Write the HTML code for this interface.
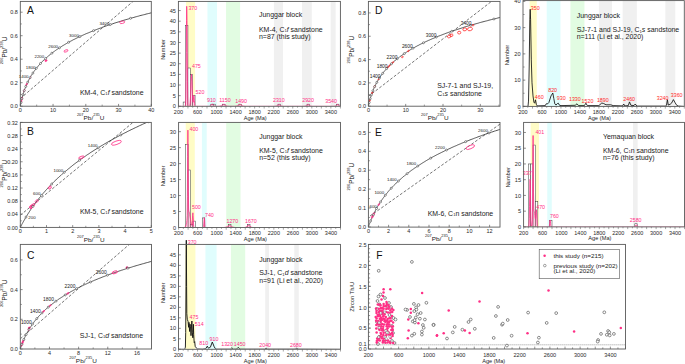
<!DOCTYPE html><html><head><meta charset="utf-8"><style>html,body{margin:0;padding:0;background:#fff;}body{width:685px;height:364px;overflow:hidden;font-family:"Liberation Sans",sans-serif;}svg{display:block;}</style></head><body><svg width="685" height="364" viewBox="0 0 685 364" font-family="'Liberation Sans', sans-serif">
<rect width="685" height="364" fill="#fff"/>
<defs><clipPath id="cA"><rect x="20.3" y="1.4" width="131.00" height="104.80"/></clipPath></defs>
<g clip-path="url(#cA)">
<line x1="20.30" y1="98.60" x2="133.00" y2="1.40" stroke="#2a2a2a" stroke-width="0.65" stroke-dasharray="2.8,1.8"/>
<path d="M20.3,106.2 20.3,106.0 20.4,105.8 20.4,105.7 20.4,105.5 20.5,105.3 20.5,105.1 20.5,104.9 20.6,104.7 20.6,104.5 20.6,104.4 20.7,104.2 20.7,104.0 20.7,103.8 20.8,103.6 20.8,103.4 20.9,103.2 20.9,103.1 20.9,102.9 21.0,102.7 21.0,102.5 21.1,102.3 21.1,102.1 21.1,101.9 21.2,101.7 21.2,101.6 21.3,101.4 21.3,101.2 21.3,101.0 21.4,100.8 21.4,100.6 21.5,100.4 21.5,100.2 21.6,100.0 21.6,99.8 21.6,99.6 21.7,99.5 21.7,99.3 21.8,99.1 21.8,98.9 21.9,98.7 21.9,98.5 22.0,98.3 22.0,98.1 22.1,97.9 22.1,97.7 22.2,97.5 22.2,97.3 22.3,97.1 22.3,96.9 22.4,96.7 22.4,96.5 22.5,96.3 22.5,96.1 22.6,95.9 22.7,95.7 22.7,95.5 22.8,95.3 22.8,95.1 22.9,94.9 22.9,94.7 23.0,94.5 23.1,94.3 23.1,94.1 23.2,93.9 23.2,93.7 23.3,93.5 23.4,93.3 23.4,93.1 23.5,92.9 23.6,92.7 23.6,92.5 23.7,92.3 23.7,92.1 23.8,91.9 23.9,91.7 23.9,91.5 24.0,91.3 24.1,91.1 24.2,90.9 24.2,90.7 24.3,90.5 24.4,90.3 24.4,90.1 24.5,89.8 24.6,89.6 24.7,89.4 24.7,89.2 24.8,89.0 24.9,88.8 25.0,88.6 25.0,88.4 25.1,88.2 25.2,88.0 25.3,87.8 25.4,87.5 25.5,87.3 25.5,87.1 25.6,86.9 25.7,86.7 25.8,86.5 25.9,86.3 26.0,86.1 26.1,85.8 26.1,85.6 26.2,85.4 26.3,85.2 26.4,85.0 26.5,84.8 26.6,84.6 26.7,84.3 26.8,84.1 26.9,83.9 27.0,83.7 27.1,83.5 27.2,83.3 27.3,83.0 27.4,82.8 27.5,82.6 27.6,82.4 27.7,82.2 27.8,81.9 27.9,81.7 28.0,81.5 28.1,81.3 28.2,81.1 28.4,80.8 28.5,80.6 28.6,80.4 28.7,80.2 28.8,79.9 28.9,79.7 29.0,79.5 29.2,79.3 29.3,79.1 29.4,78.8 29.5,78.6 29.6,78.4 29.8,78.2 29.9,77.9 30.0,77.7 30.2,77.5 30.3,77.2 30.4,77.0 30.5,76.8 30.7,76.6 30.8,76.3 31.0,76.1 31.1,75.9 31.2,75.6 31.4,75.4 31.5,75.2 31.7,75.0 31.8,74.7 31.9,74.5 32.1,74.3 32.2,74.0 32.4,73.8 32.5,73.6 32.7,73.3 32.9,73.1 33.0,72.9 33.2,72.6 33.3,72.4 33.5,72.2 33.7,71.9 33.8,71.7 34.0,71.5 34.2,71.2 34.3,71.0 34.5,70.7 34.7,70.5 34.8,70.3 35.0,70.0 35.2,69.8 35.4,69.6 35.6,69.3 35.7,69.1 35.9,68.8 36.1,68.6 36.3,68.4 36.5,68.1 36.7,67.9 36.9,67.6 37.1,67.4 37.3,67.1 37.5,66.9 37.7,66.7 37.9,66.4 38.1,66.2 38.3,65.9 38.5,65.7 38.7,65.4 38.9,65.2 39.2,64.9 39.4,64.7 39.6,64.4 39.8,64.2 40.0,64.0 40.3,63.7 40.5,63.5 40.7,63.2 41.0,63.0 41.2,62.7 41.4,62.5 41.7,62.2 41.9,62.0 42.2,61.7 42.4,61.5 42.7,61.2 42.9,61.0 43.2,60.7 43.4,60.4 43.7,60.2 44.0,59.9 44.2,59.7 44.5,59.4 44.8,59.2 45.1,58.9 45.3,58.7 45.6,58.4 45.9,58.2 46.2,57.9 46.5,57.6 46.8,57.4 47.1,57.1 47.4,56.9 47.7,56.6 48.0,56.3 48.3,56.1 48.6,55.8 48.9,55.6 49.2,55.3 49.5,55.0 49.8,54.8 50.2,54.5 50.5,54.3 50.8,54.0 51.2,53.7 51.5,53.5 51.8,53.2 52.2,52.9 52.5,52.7 52.9,52.4 53.2,52.1 53.6,51.9 54.0,51.6 54.3,51.3 54.7,51.1 55.1,50.8 55.4,50.5 55.8,50.3 56.2,50.0 56.6,49.7 57.0,49.5 57.4,49.2 57.8,48.9 58.2,48.6 58.6,48.4 59.0,48.1 59.4,47.8 59.8,47.6 60.3,47.3 60.7,47.0 61.1,46.7 61.6,46.5 62.0,46.2 62.4,45.9 62.9,45.6 63.3,45.4 63.8,45.1 64.3,44.8 64.7,44.5 65.2,44.2 65.7,44.0 66.2,43.7 66.7,43.4 67.1,43.1 67.6,42.8 68.1,42.6 68.6,42.3 69.2,42.0 69.7,41.7 70.2,41.4 70.7,41.2 71.2,40.9 71.8,40.6 72.3,40.3 72.9,40.0 73.4,39.7 74.0,39.4 74.6,39.2 75.1,38.9 75.7,38.6 76.3,38.3 76.9,38.0 77.5,37.7 78.1,37.4 78.7,37.1 79.3,36.9 79.9,36.6 80.5,36.3 81.1,36.0 81.8,35.7 82.4,35.4 83.1,35.1 83.7,34.8 84.4,34.5 85.0,34.2 85.7,33.9 86.4,33.6 87.1,33.3 87.8,33.1 88.5,32.8 89.2,32.5 89.9,32.2 90.6,31.9 91.3,31.6 92.1,31.3 92.8,31.0 93.6,30.7 94.3,30.4 95.1,30.1 95.9,29.8 96.6,29.5 97.4,29.2 98.2,28.9 99.0,28.6 99.8,28.3 100.7,28.0 101.5,27.7 102.3,27.3 103.2,27.0 104.0,26.7 104.9,26.4 105.8,26.1 106.6,25.8 107.5,25.5 108.4,25.2 109.3,24.9 110.2,24.6 111.2,24.3 112.1,24.0 113.0,23.7 114.0,23.3 114.9,23.0 115.9,22.7 116.9,22.4 117.9,22.1 118.9,21.8 119.9,21.5 120.9,21.2 121.9,20.8 123.0,20.5 124.0,20.2 125.1,19.9 126.1,19.6 127.2,19.3 128.3,19.0 129.4,18.6 130.5,18.3 131.6,18.0 132.8,17.7 133.9,17.4 135.1,17.0 136.3,16.7 137.4,16.4 138.6,16.1 139.8,15.7 141.0,15.4 142.3,15.1 143.5,14.8 144.8,14.5 146.0,14.1 147.3,13.8 148.6,13.5 149.9,13.2 151.2,12.8 152.5,12.5 153.9,12.2" stroke="#2a2a2a" stroke-width="0.8" fill="none" stroke-linejoin="round" />
<ellipse cx="21.21" cy="101.55" rx="1.4" ry="0.6" transform="rotate(-77.6 21.21 101.55)" fill="rgba(255,47,134,0.35)" stroke="#ff2f86" stroke-width="0.7"/>
<ellipse cx="21.88" cy="98.68" rx="1.3" ry="0.6" transform="rotate(-76.0 21.88 98.68)" fill="rgba(255,47,134,0.35)" stroke="#ff2f86" stroke-width="0.7"/>
<ellipse cx="24.23" cy="90.67" rx="1.2" ry="0.6" transform="rotate(-70.9 24.23 90.67)" fill="rgba(255,47,134,0.35)" stroke="#ff2f86" stroke-width="0.7"/>
<ellipse cx="26.70" cy="84.34" rx="1.1" ry="0.6" transform="rotate(-66.0 26.70 84.34)" fill="rgba(255,47,134,0.35)" stroke="#ff2f86" stroke-width="0.7"/>
<ellipse cx="30.03" cy="77.70" rx="0.9" ry="0.5" transform="rotate(-60.3 30.03 77.70)" fill="rgba(255,47,134,0.35)" stroke="#ff2f86" stroke-width="0.7"/>
<ellipse cx="46.00" cy="60.60" rx="1.1" ry="0.8" transform="rotate(-40 46.00 60.60)" fill="#ff2f86" stroke="#ff2f86" stroke-width="0.75"/>
<ellipse cx="66.00" cy="50.90" rx="2.1" ry="1.0" transform="rotate(-20 66.00 50.90)" fill="none" stroke="#ff2f86" stroke-width="0.75"/>
<ellipse cx="122.20" cy="22.30" rx="2.6" ry="1.2" transform="rotate(-12 122.20 22.30)" fill="none" stroke="#ff2f86" stroke-width="0.75"/>
<circle cx="21.01" cy="102.50" r="1.0" fill="#fff" stroke="#2a2a2a" stroke-width="0.5"/>
<circle cx="21.88" cy="98.68" r="1.0" fill="#fff" stroke="#2a2a2a" stroke-width="0.5"/>
<circle cx="22.94" cy="94.74" r="1.0" fill="#fff" stroke="#2a2a2a" stroke-width="0.5"/>
<circle cx="24.23" cy="90.67" r="1.0" fill="#fff" stroke="#2a2a2a" stroke-width="0.5"/>
<circle cx="25.79" cy="86.48" r="1.0" fill="#fff" stroke="#2a2a2a" stroke-width="0.5"/>
<circle cx="27.70" cy="82.16" r="1.0" fill="#fff" stroke="#2a2a2a" stroke-width="0.5"/>
<circle cx="30.03" cy="77.70" r="1.0" fill="#fff" stroke="#2a2a2a" stroke-width="0.5"/>
<circle cx="32.86" cy="73.10" r="1.0" fill="#fff" stroke="#2a2a2a" stroke-width="0.5"/>
<circle cx="36.30" cy="68.35" r="1.0" fill="#fff" stroke="#2a2a2a" stroke-width="0.5"/>
<circle cx="40.50" cy="63.46" r="1.0" fill="#fff" stroke="#2a2a2a" stroke-width="0.5"/>
<circle cx="45.61" cy="58.41" r="1.0" fill="#fff" stroke="#2a2a2a" stroke-width="0.5"/>
<circle cx="51.84" cy="53.20" r="1.0" fill="#fff" stroke="#2a2a2a" stroke-width="0.5"/>
<circle cx="59.42" cy="47.83" r="1.0" fill="#fff" stroke="#2a2a2a" stroke-width="0.5"/>
<circle cx="68.64" cy="42.28" r="1.0" fill="#fff" stroke="#2a2a2a" stroke-width="0.5"/>
<circle cx="79.88" cy="36.57" r="1.0" fill="#fff" stroke="#2a2a2a" stroke-width="0.5"/>
<circle cx="93.57" cy="30.67" r="1.0" fill="#fff" stroke="#2a2a2a" stroke-width="0.5"/>
<circle cx="110.23" cy="24.59" r="1.0" fill="#fff" stroke="#2a2a2a" stroke-width="0.5"/>
<circle cx="130.52" cy="18.31" r="1.0" fill="#fff" stroke="#2a2a2a" stroke-width="0.5"/>
<circle cx="155.23" cy="11.84" r="1.0" fill="#fff" stroke="#2a2a2a" stroke-width="0.5"/>
</g>
<text transform="translate(18.80 77.58) scale(1.1 1)" font-size="4.00" fill="#222" text-anchor="start" >1400</text>
<text transform="translate(25.80 68.58) scale(1.1 1)" font-size="4.00" fill="#222" text-anchor="start" >1800</text>
<text transform="translate(34.50 58.18) scale(1.1 1)" font-size="4.00" fill="#222" text-anchor="start" >2200</text>
<text transform="translate(48.30 47.98) scale(1.1 1)" font-size="4.00" fill="#222" text-anchor="start" >2600</text>
<text transform="translate(69.10 37.18) scale(1.1 1)" font-size="4.00" fill="#222" text-anchor="start" >3000</text>
<text transform="translate(99.40 25.08) scale(1.1 1)" font-size="4.00" fill="#222" text-anchor="start" >3400</text>
<rect x="20.30" y="1.40" width="131.00" height="104.80" fill="none" stroke="#5a5a5a" stroke-width="0.9" />
<line x1="20.30" y1="106.20" x2="20.30" y2="103.90" stroke="#5a5a5a" stroke-width="0.7" />
<text transform="translate(20.30 112.00) scale(1.1 1)" font-size="5.00" fill="#2a2a2a" text-anchor="middle" >0</text>
<line x1="53.05" y1="106.20" x2="53.05" y2="103.90" stroke="#5a5a5a" stroke-width="0.7" />
<text transform="translate(53.05 112.00) scale(1.1 1)" font-size="5.00" fill="#2a2a2a" text-anchor="middle" >10</text>
<line x1="85.80" y1="106.20" x2="85.80" y2="103.90" stroke="#5a5a5a" stroke-width="0.7" />
<text transform="translate(85.80 112.00) scale(1.1 1)" font-size="5.00" fill="#2a2a2a" text-anchor="middle" >20</text>
<line x1="118.55" y1="106.20" x2="118.55" y2="103.90" stroke="#5a5a5a" stroke-width="0.7" />
<text transform="translate(118.55 112.00) scale(1.1 1)" font-size="5.00" fill="#2a2a2a" text-anchor="middle" >30</text>
<line x1="151.30" y1="106.20" x2="151.30" y2="103.90" stroke="#5a5a5a" stroke-width="0.7" />
<text transform="translate(151.30 112.00) scale(1.1 1)" font-size="5.00" fill="#2a2a2a" text-anchor="middle" >40</text>
<line x1="36.67" y1="106.20" x2="36.67" y2="104.60" stroke="#5a5a5a" stroke-width="0.6" />
<line x1="69.42" y1="106.20" x2="69.42" y2="104.60" stroke="#5a5a5a" stroke-width="0.6" />
<line x1="102.17" y1="106.20" x2="102.17" y2="104.60" stroke="#5a5a5a" stroke-width="0.6" />
<line x1="134.93" y1="106.20" x2="134.93" y2="104.60" stroke="#5a5a5a" stroke-width="0.6" />
<line x1="20.30" y1="106.20" x2="22.60" y2="106.20" stroke="#5a5a5a" stroke-width="0.7" />
<text transform="translate(17.90 108.30) scale(1.1 1)" font-size="5.00" fill="#2a2a2a" text-anchor="end" >0.0</text>
<line x1="20.30" y1="82.70" x2="22.60" y2="82.70" stroke="#5a5a5a" stroke-width="0.7" />
<text transform="translate(17.90 84.80) scale(1.1 1)" font-size="5.00" fill="#2a2a2a" text-anchor="end" >0.2</text>
<line x1="20.30" y1="59.20" x2="22.60" y2="59.20" stroke="#5a5a5a" stroke-width="0.7" />
<text transform="translate(17.90 61.30) scale(1.1 1)" font-size="5.00" fill="#2a2a2a" text-anchor="end" >0.4</text>
<line x1="20.30" y1="35.70" x2="22.60" y2="35.70" stroke="#5a5a5a" stroke-width="0.7" />
<text transform="translate(17.90 37.80) scale(1.1 1)" font-size="5.00" fill="#2a2a2a" text-anchor="end" >0.6</text>
<line x1="20.30" y1="12.20" x2="22.60" y2="12.20" stroke="#5a5a5a" stroke-width="0.7" />
<text transform="translate(17.90 14.30) scale(1.1 1)" font-size="5.00" fill="#2a2a2a" text-anchor="end" >0.8</text>
<line x1="20.30" y1="94.45" x2="21.90" y2="94.45" stroke="#5a5a5a" stroke-width="0.6" />
<line x1="20.30" y1="70.95" x2="21.90" y2="70.95" stroke="#5a5a5a" stroke-width="0.6" />
<line x1="20.30" y1="47.45" x2="21.90" y2="47.45" stroke="#5a5a5a" stroke-width="0.6" />
<line x1="20.30" y1="23.95" x2="21.90" y2="23.95" stroke="#5a5a5a" stroke-width="0.6" />
<text x="27.00" y="13.90" font-size="10.3" fill="#111" text-anchor="start" >A</text>
<text transform="translate(79.90 95.00) scale(1.1 1)" font-size="6.32" fill="#1a1a1a" text-anchor="start" >KM-4, C<tspan font-size="60%" dy="0.35">1</tspan><tspan dy="-0.35" font-style="italic">f</tspan> sandstone</text>
<text transform="translate(76.90 119.90) scale(1.1 1)" font-size="5.82" fill="#1a1a1a" text-anchor="start" ><tspan font-size="62.5%" dy="-3.60">207</tspan><tspan dy="3.60">Pb/</tspan><tspan font-size="62.5%" dy="-3.60">235</tspan><tspan dy="3.60">U</tspan></text>
<text x="6.60" y="50.40" font-size="6.4" fill="#1a1a1a" text-anchor="middle" transform="rotate(-90 6.60 50.40)" ><tspan font-size="62.5%" dy="-3.60">206</tspan><tspan dy="3.60">Pb/</tspan><tspan font-size="62.5%" dy="-3.60">238</tspan><tspan dy="3.60">U</tspan></text>
<defs><clipPath id="cB"><rect x="20.3" y="122.4" width="131.00" height="105.00"/></clipPath></defs>
<g clip-path="url(#cB)">
<line x1="20.30" y1="215.20" x2="133.00" y2="122.40" stroke="#2a2a2a" stroke-width="0.65" stroke-dasharray="2.8,1.8"/>
<path d="M20.3,227.4 20.6,226.9 20.8,226.4 21.1,225.9 21.4,225.4 21.6,224.8 21.9,224.3 22.2,223.8 22.4,223.3 22.7,222.8 23.0,222.3 23.3,221.8 23.6,221.2 23.9,220.7 24.2,220.2 24.5,219.7 24.8,219.2 25.1,218.6 25.4,218.1 25.7,217.6 26.0,217.1 26.3,216.5 26.6,216.0 27.0,215.5 27.3,215.0 27.6,214.4 27.9,213.9 28.3,213.4 28.6,212.8 29.0,212.3 29.3,211.8 29.7,211.2 30.0,210.7 30.4,210.2 30.7,209.6 31.1,209.1 31.4,208.6 31.8,208.0 32.2,207.5 32.6,206.9 32.9,206.4 33.3,205.9 33.7,205.3 34.1,204.8 34.5,204.2 34.9,203.7 35.3,203.1 35.7,202.6 36.1,202.0 36.6,201.5 37.0,200.9 37.4,200.4 37.8,199.8 38.3,199.3 38.7,198.7 39.1,198.2 39.6,197.6 40.0,197.1 40.5,196.5 40.9,196.0 41.4,195.4 41.9,194.8 42.3,194.3 42.8,193.7 43.3,193.2 43.8,192.6 44.3,192.0 44.8,191.5 45.3,190.9 45.8,190.3 46.3,189.8 46.8,189.2 47.3,188.6 47.9,188.1 48.4,187.5 48.9,186.9 49.5,186.3 50.0,185.8 50.6,185.2 51.1,184.6 51.7,184.0 52.3,183.5 52.9,182.9 53.4,182.3 54.0,181.7 54.6,181.2 55.2,180.6 55.8,180.0 56.4,179.4 57.0,178.8 57.7,178.2 58.3,177.7 58.9,177.1 59.6,176.5 60.2,175.9 60.9,175.3 61.5,174.7 62.2,174.1 62.9,173.5 63.6,172.9 64.2,172.3 64.9,171.7 65.6,171.2 66.4,170.6 67.1,170.0 67.8,169.4 68.5,168.8 69.3,168.2 70.0,167.6 70.7,167.0 71.5,166.4 72.3,165.7 73.0,165.1 73.8,164.5 74.6,163.9 75.4,163.3 76.2,162.7 77.0,162.1 77.9,161.5 78.7,160.9 79.5,160.3 80.4,159.7 81.2,159.0 82.1,158.4 83.0,157.8 83.8,157.2 84.7,156.6 85.6,156.0 86.5,155.3 87.4,154.7 88.4,154.1 89.3,153.5 90.2,152.8 91.2,152.2 92.1,151.6 93.1,151.0 94.1,150.3 95.1,149.7 96.1,149.1 97.1,148.4 98.1,147.8 99.1,147.2 100.2,146.5 101.2,145.9 102.3,145.3 103.4,144.6 104.4,144.0 105.5,143.4 106.6,142.7 107.8,142.1 108.9,141.4 110.0,140.8 111.2,140.2 112.3,139.5 113.5,138.9 114.7,138.2 115.9,137.6 117.1,136.9 118.3,136.3 119.5,135.6 120.8,135.0 122.0,134.3 123.3,133.7 124.6,133.0 125.9,132.4 127.2,131.7 128.5,131.0 129.8,130.4 131.1,129.7 132.5,129.1 133.9,128.4 135.3,127.7 136.7,127.1 138.1,126.4 139.5,125.7 140.9,125.1 142.4,124.4 143.8,123.7 145.3,123.1 146.8,122.4 148.3,121.7 149.9,121.0 151.4,120.4" stroke="#2a2a2a" stroke-width="0.8" fill="none" stroke-linejoin="round" />
<ellipse cx="31.30" cy="206.80" rx="2.0" ry="1.5" transform="rotate(-45 31.30 206.80)" fill="rgba(255,47,134,0.75)" stroke="#ff2f86" stroke-width="0.75"/>
<ellipse cx="33.40" cy="204.90" rx="1.5" ry="1.2" transform="rotate(-45 33.40 204.90)" fill="rgba(255,47,134,0.35)" stroke="#ff2f86" stroke-width="0.75"/>
<ellipse cx="36.70" cy="201.20" rx="1.7" ry="1.1" transform="rotate(-40 36.70 201.20)" fill="none" stroke="#ff2f86" stroke-width="0.75"/>
<ellipse cx="49.90" cy="187.60" rx="1.7" ry="1.2" transform="rotate(-45 49.90 187.60)" fill="rgba(255,47,134,0.35)" stroke="#ff2f86" stroke-width="0.75"/>
<ellipse cx="81.40" cy="157.40" rx="2.9" ry="1.1" transform="rotate(-20 81.40 157.40)" fill="rgba(255,47,134,0.12)" stroke="#ff2f86" stroke-width="0.75"/>
<ellipse cx="116.40" cy="142.80" rx="5.2" ry="1.7" transform="rotate(-18 116.40 142.80)" fill="none" stroke="#ff2f86" stroke-width="0.75"/>
<circle cx="26.00" cy="217.06" r="1.0" fill="#fff" stroke="#2a2a2a" stroke-width="0.5"/>
<circle cx="32.95" cy="206.40" r="1.0" fill="#fff" stroke="#2a2a2a" stroke-width="0.5"/>
<circle cx="41.41" cy="195.40" r="1.0" fill="#fff" stroke="#2a2a2a" stroke-width="0.5"/>
<circle cx="51.71" cy="184.05" r="1.0" fill="#fff" stroke="#2a2a2a" stroke-width="0.5"/>
<circle cx="64.25" cy="172.34" r="1.0" fill="#fff" stroke="#2a2a2a" stroke-width="0.5"/>
<circle cx="79.52" cy="160.27" r="1.0" fill="#fff" stroke="#2a2a2a" stroke-width="0.5"/>
<circle cx="98.12" cy="147.82" r="1.0" fill="#fff" stroke="#2a2a2a" stroke-width="0.5"/>
<circle cx="120.76" cy="134.97" r="1.0" fill="#fff" stroke="#2a2a2a" stroke-width="0.5"/>
<circle cx="148.34" cy="121.72" r="1.0" fill="#fff" stroke="#2a2a2a" stroke-width="0.5"/>
</g>
<text transform="translate(28.30 218.98) scale(1.1 1)" font-size="4.00" fill="#222" text-anchor="start" >200</text>
<text transform="translate(33.10 194.88) scale(1.1 1)" font-size="4.00" fill="#222" text-anchor="start" >600</text>
<text transform="translate(53.50 171.88) scale(1.1 1)" font-size="4.00" fill="#222" text-anchor="start" >1000</text>
<text transform="translate(87.80 147.48) scale(1.1 1)" font-size="4.00" fill="#222" text-anchor="start" >1400</text>
<rect x="20.30" y="122.40" width="131.00" height="105.00" fill="none" stroke="#5a5a5a" stroke-width="0.9" />
<line x1="20.30" y1="227.40" x2="20.30" y2="225.10" stroke="#5a5a5a" stroke-width="0.7" />
<text transform="translate(20.30 233.20) scale(1.1 1)" font-size="5.00" fill="#2a2a2a" text-anchor="middle" >0</text>
<line x1="46.50" y1="227.40" x2="46.50" y2="225.10" stroke="#5a5a5a" stroke-width="0.7" />
<text transform="translate(46.50 233.20) scale(1.1 1)" font-size="5.00" fill="#2a2a2a" text-anchor="middle" >1</text>
<line x1="72.70" y1="227.40" x2="72.70" y2="225.10" stroke="#5a5a5a" stroke-width="0.7" />
<text transform="translate(72.70 233.20) scale(1.1 1)" font-size="5.00" fill="#2a2a2a" text-anchor="middle" >2</text>
<line x1="98.90" y1="227.40" x2="98.90" y2="225.10" stroke="#5a5a5a" stroke-width="0.7" />
<text transform="translate(98.90 233.20) scale(1.1 1)" font-size="5.00" fill="#2a2a2a" text-anchor="middle" >3</text>
<line x1="125.10" y1="227.40" x2="125.10" y2="225.10" stroke="#5a5a5a" stroke-width="0.7" />
<text transform="translate(125.10 233.20) scale(1.1 1)" font-size="5.00" fill="#2a2a2a" text-anchor="middle" >4</text>
<line x1="151.30" y1="227.40" x2="151.30" y2="225.10" stroke="#5a5a5a" stroke-width="0.7" />
<text transform="translate(151.30 233.20) scale(1.1 1)" font-size="5.00" fill="#2a2a2a" text-anchor="middle" >5</text>
<line x1="33.40" y1="227.40" x2="33.40" y2="225.80" stroke="#5a5a5a" stroke-width="0.6" />
<line x1="59.60" y1="227.40" x2="59.60" y2="225.80" stroke="#5a5a5a" stroke-width="0.6" />
<line x1="85.80" y1="227.40" x2="85.80" y2="225.80" stroke="#5a5a5a" stroke-width="0.6" />
<line x1="112.00" y1="227.40" x2="112.00" y2="225.80" stroke="#5a5a5a" stroke-width="0.6" />
<line x1="138.20" y1="227.40" x2="138.20" y2="225.80" stroke="#5a5a5a" stroke-width="0.6" />
<line x1="20.30" y1="227.40" x2="22.60" y2="227.40" stroke="#5a5a5a" stroke-width="0.7" />
<text transform="translate(17.90 229.50) scale(1.1 1)" font-size="5.00" fill="#2a2a2a" text-anchor="end" >0.00</text>
<line x1="20.30" y1="214.28" x2="22.60" y2="214.28" stroke="#5a5a5a" stroke-width="0.7" />
<text transform="translate(17.90 216.38) scale(1.1 1)" font-size="5.00" fill="#2a2a2a" text-anchor="end" >0.04</text>
<line x1="20.30" y1="201.15" x2="22.60" y2="201.15" stroke="#5a5a5a" stroke-width="0.7" />
<text transform="translate(17.90 203.25) scale(1.1 1)" font-size="5.00" fill="#2a2a2a" text-anchor="end" >0.08</text>
<line x1="20.30" y1="188.03" x2="22.60" y2="188.03" stroke="#5a5a5a" stroke-width="0.7" />
<text transform="translate(17.90 190.13) scale(1.1 1)" font-size="5.00" fill="#2a2a2a" text-anchor="end" >0.12</text>
<line x1="20.30" y1="174.90" x2="22.60" y2="174.90" stroke="#5a5a5a" stroke-width="0.7" />
<text transform="translate(17.90 177.00) scale(1.1 1)" font-size="5.00" fill="#2a2a2a" text-anchor="end" >0.16</text>
<line x1="20.30" y1="161.78" x2="22.60" y2="161.78" stroke="#5a5a5a" stroke-width="0.7" />
<text transform="translate(17.90 163.88) scale(1.1 1)" font-size="5.00" fill="#2a2a2a" text-anchor="end" >0.20</text>
<line x1="20.30" y1="148.66" x2="22.60" y2="148.66" stroke="#5a5a5a" stroke-width="0.7" />
<text transform="translate(17.90 150.76) scale(1.1 1)" font-size="5.00" fill="#2a2a2a" text-anchor="end" >0.24</text>
<line x1="20.30" y1="135.53" x2="22.60" y2="135.53" stroke="#5a5a5a" stroke-width="0.7" />
<text transform="translate(17.90 137.63) scale(1.1 1)" font-size="5.00" fill="#2a2a2a" text-anchor="end" >0.28</text>
<line x1="20.30" y1="122.41" x2="22.60" y2="122.41" stroke="#5a5a5a" stroke-width="0.7" />
<text transform="translate(17.90 124.51) scale(1.1 1)" font-size="5.00" fill="#2a2a2a" text-anchor="end" >0.32</text>
<line x1="20.30" y1="220.84" x2="21.90" y2="220.84" stroke="#5a5a5a" stroke-width="0.6" />
<line x1="20.30" y1="207.71" x2="21.90" y2="207.71" stroke="#5a5a5a" stroke-width="0.6" />
<line x1="20.30" y1="194.59" x2="21.90" y2="194.59" stroke="#5a5a5a" stroke-width="0.6" />
<line x1="20.30" y1="181.47" x2="21.90" y2="181.47" stroke="#5a5a5a" stroke-width="0.6" />
<line x1="20.30" y1="168.34" x2="21.90" y2="168.34" stroke="#5a5a5a" stroke-width="0.6" />
<line x1="20.30" y1="155.22" x2="21.90" y2="155.22" stroke="#5a5a5a" stroke-width="0.6" />
<line x1="20.30" y1="142.09" x2="21.90" y2="142.09" stroke="#5a5a5a" stroke-width="0.6" />
<line x1="20.30" y1="128.97" x2="21.90" y2="128.97" stroke="#5a5a5a" stroke-width="0.6" />
<text x="27.00" y="134.90" font-size="10.3" fill="#111" text-anchor="start" >B</text>
<text transform="translate(79.90 213.60) scale(1.1 1)" font-size="6.32" fill="#1a1a1a" text-anchor="start" >KM-5, C<tspan font-size="60%" dy="0.35">1</tspan><tspan dy="-0.35" font-style="italic">f</tspan> sandstone</text>
<text transform="translate(77.10 241.60) scale(1.1 1)" font-size="5.82" fill="#1a1a1a" text-anchor="start" ><tspan font-size="62.5%" dy="-3.60">207</tspan><tspan dy="3.60">Pb/</tspan><tspan font-size="62.5%" dy="-3.60">235</tspan><tspan dy="3.60">U</tspan></text>
<text x="6.60" y="173.60" font-size="6.4" fill="#1a1a1a" text-anchor="middle" transform="rotate(-90 6.60 173.60)" ><tspan font-size="62.5%" dy="-3.60">206</tspan><tspan dy="3.60">Pb/</tspan><tspan font-size="62.5%" dy="-3.60">238</tspan><tspan dy="3.60">U</tspan></text>
<defs><clipPath id="cC"><rect x="20.3" y="244.4" width="131.20" height="104.60"/></clipPath></defs>
<g clip-path="url(#cC)">
<line x1="20.30" y1="338.80" x2="129.30" y2="244.40" stroke="#2a2a2a" stroke-width="0.65" stroke-dasharray="2.8,1.8"/>
<path d="M20.3,349.0 20.4,348.8 20.4,348.5 20.5,348.3 20.6,348.1 20.7,347.8 20.7,347.6 20.8,347.4 20.9,347.1 21.0,346.9 21.1,346.7 21.1,346.4 21.2,346.2 21.3,346.0 21.4,345.7 21.5,345.5 21.5,345.3 21.6,345.0 21.7,344.8 21.8,344.6 21.9,344.3 22.0,344.1 22.1,343.8 22.2,343.6 22.2,343.4 22.3,343.1 22.4,342.9 22.5,342.6 22.6,342.4 22.7,342.2 22.8,341.9 22.9,341.7 23.0,341.4 23.1,341.2 23.2,341.0 23.3,340.7 23.4,340.5 23.5,340.2 23.6,340.0 23.7,339.7 23.8,339.5 23.9,339.2 24.0,339.0 24.1,338.8 24.3,338.5 24.4,338.3 24.5,338.0 24.6,337.8 24.7,337.5 24.8,337.3 24.9,337.0 25.1,336.8 25.2,336.5 25.3,336.3 25.4,336.0 25.5,335.8 25.7,335.5 25.8,335.3 25.9,335.0 26.0,334.8 26.2,334.5 26.3,334.3 26.4,334.0 26.6,333.8 26.7,333.5 26.8,333.2 27.0,333.0 27.1,332.7 27.3,332.5 27.4,332.2 27.5,332.0 27.7,331.7 27.8,331.5 28.0,331.2 28.1,330.9 28.3,330.7 28.4,330.4 28.6,330.2 28.7,329.9 28.9,329.6 29.0,329.4 29.2,329.1 29.4,328.9 29.5,328.6 29.7,328.3 29.8,328.1 30.0,327.8 30.2,327.5 30.4,327.3 30.5,327.0 30.7,326.8 30.9,326.5 31.0,326.2 31.2,326.0 31.4,325.7 31.6,325.4 31.8,325.2 32.0,324.9 32.1,324.6 32.3,324.3 32.5,324.1 32.7,323.8 32.9,323.5 33.1,323.3 33.3,323.0 33.5,322.7 33.7,322.5 33.9,322.2 34.1,321.9 34.3,321.6 34.5,321.4 34.8,321.1 35.0,320.8 35.2,320.5 35.4,320.3 35.6,320.0 35.9,319.7 36.1,319.4 36.3,319.2 36.5,318.9 36.8,318.6 37.0,318.3 37.3,318.1 37.5,317.8 37.7,317.5 38.0,317.2 38.2,316.9 38.5,316.7 38.7,316.4 39.0,316.1 39.2,315.8 39.5,315.5 39.8,315.3 40.0,315.0 40.3,314.7 40.6,314.4 40.8,314.1 41.1,313.8 41.4,313.6 41.7,313.3 42.0,313.0 42.2,312.7 42.5,312.4 42.8,312.1 43.1,311.8 43.4,311.5 43.7,311.3 44.0,311.0 44.3,310.7 44.6,310.4 44.9,310.1 45.3,309.8 45.6,309.5 45.9,309.2 46.2,308.9 46.6,308.6 46.9,308.3 47.2,308.0 47.6,307.8 47.9,307.5 48.3,307.2 48.6,306.9 49.0,306.6 49.3,306.3 49.7,306.0 50.0,305.7 50.4,305.4 50.8,305.1 51.1,304.8 51.5,304.5 51.9,304.2 52.3,303.9 52.7,303.6 53.1,303.3 53.5,303.0 53.9,302.7 54.3,302.4 54.7,302.1 55.1,301.8 55.5,301.5 55.9,301.2 56.4,300.9 56.8,300.6 57.2,300.3 57.6,299.9 58.1,299.6 58.5,299.3 59.0,299.0 59.4,298.7 59.9,298.4 60.4,298.1 60.8,297.8 61.3,297.5 61.8,297.2 62.3,296.9 62.8,296.5 63.2,296.2 63.7,295.9 64.2,295.6 64.8,295.3 65.3,295.0 65.8,294.7 66.3,294.4 66.8,294.0 67.4,293.7 67.9,293.4 68.4,293.1 69.0,292.8 69.6,292.5 70.1,292.1 70.7,291.8 71.2,291.5 71.8,291.2 72.4,290.9 73.0,290.5 73.6,290.2 74.2,289.9 74.8,289.6 75.4,289.2 76.0,288.9 76.6,288.6 77.3,288.3 77.9,287.9 78.6,287.6 79.2,287.3 79.9,287.0 80.5,286.6 81.2,286.3 81.9,286.0 82.5,285.7 83.2,285.3 83.9,285.0 84.6,284.7 85.3,284.3 86.1,284.0 86.8,283.7 87.5,283.3 88.2,283.0 89.0,282.7 89.7,282.4 90.5,282.0 91.3,281.7 92.0,281.3 92.8,281.0 93.6,280.7 94.4,280.3 95.2,280.0 96.0,279.7 96.9,279.3 97.7,279.0 98.5,278.6 99.4,278.3 100.2,278.0 101.1,277.6 102.0,277.3 102.8,276.9 103.7,276.6 104.6,276.3 105.5,275.9 106.4,275.6 107.4,275.2 108.3,274.9 109.2,274.5 110.2,274.2 111.2,273.8 112.1,273.5 113.1,273.1 114.1,272.8 115.1,272.5 116.1,272.1 117.1,271.8 118.2,271.4 119.2,271.0 120.3,270.7 121.3,270.3 122.4,270.0 123.5,269.6 124.6,269.3 125.7,268.9 126.8,268.6 127.9,268.2 129.0,267.9 130.2,267.5 131.4,267.2 132.5,266.8 133.7,266.4 134.9,266.1 136.1,265.7 137.3,265.4 138.6,265.0 139.8,264.6 141.1,264.3 142.3,263.9 143.6,263.6 144.9,263.2 146.2,262.8 147.5,262.5 148.9,262.1 150.2,261.7 151.6,261.4 152.9,261.0 154.3,260.6" stroke="#2a2a2a" stroke-width="0.8" fill="none" stroke-linejoin="round" />
<ellipse cx="22.06" cy="343.84" rx="2.6" ry="0.7" transform="rotate(-69.3 22.06 343.84)" fill="rgba(255,47,134,0.35)" stroke="#ff2f86" stroke-width="0.7"/>
<ellipse cx="23.10" cy="341.20" rx="1.6" ry="0.6" transform="rotate(-67.5 23.10 341.20)" fill="rgba(255,47,134,0.35)" stroke="#ff2f86" stroke-width="0.7"/>
<ellipse cx="29.04" cy="329.38" rx="1.2" ry="0.7" transform="rotate(-58.6 29.04 329.38)" fill="#a01050" stroke="#ff2f86" stroke-width="0.7"/>
<ellipse cx="43.41" cy="311.54" rx="1.6" ry="0.6" transform="rotate(-43.7 43.41 311.54)" fill="rgba(255,47,134,0.35)" stroke="#ff2f86" stroke-width="0.7"/>
<ellipse cx="50.03" cy="305.68" rx="1.3" ry="0.6" transform="rotate(-39.0 50.03 305.68)" fill="rgba(255,47,134,0.35)" stroke="#ff2f86" stroke-width="0.7"/>
<ellipse cx="67.91" cy="293.40" rx="1.3" ry="0.6" transform="rotate(-30.1 67.91 293.40)" fill="rgba(255,47,134,0.35)" stroke="#ff2f86" stroke-width="0.7"/>
<ellipse cx="114.80" cy="272.30" rx="2.8" ry="1.3" transform="rotate(-18 114.80 272.30)" fill="rgba(255,47,134,0.15)" stroke="#ff2f86" stroke-width="0.75"/>
<ellipse cx="29.10" cy="327.90" rx="1.0" ry="0.8" transform="rotate(-50 29.10 327.90)" fill="#6a1030" stroke="#ff2f86" stroke-width="0.75"/>
<ellipse cx="127.00" cy="267.60" rx="1.1" ry="0.8" transform="rotate(-20 127.00 267.60)" fill="#444" stroke="#ff2f86" stroke-width="0.75"/>
<circle cx="21.89" cy="344.32" r="1.0" fill="#fff" stroke="#2a2a2a" stroke-width="0.5"/>
<circle cx="23.82" cy="339.49" r="1.0" fill="#fff" stroke="#2a2a2a" stroke-width="0.5"/>
<circle cx="26.17" cy="334.51" r="1.0" fill="#fff" stroke="#2a2a2a" stroke-width="0.5"/>
<circle cx="29.04" cy="329.38" r="1.0" fill="#fff" stroke="#2a2a2a" stroke-width="0.5"/>
<circle cx="32.53" cy="324.08" r="1.0" fill="#fff" stroke="#2a2a2a" stroke-width="0.5"/>
<circle cx="36.78" cy="318.62" r="1.0" fill="#fff" stroke="#2a2a2a" stroke-width="0.5"/>
<circle cx="41.95" cy="312.98" r="1.0" fill="#fff" stroke="#2a2a2a" stroke-width="0.5"/>
<circle cx="48.25" cy="307.17" r="1.0" fill="#fff" stroke="#2a2a2a" stroke-width="0.5"/>
<circle cx="55.93" cy="301.17" r="1.0" fill="#fff" stroke="#2a2a2a" stroke-width="0.5"/>
<circle cx="65.27" cy="294.98" r="1.0" fill="#fff" stroke="#2a2a2a" stroke-width="0.5"/>
<circle cx="76.65" cy="288.60" r="1.0" fill="#fff" stroke="#2a2a2a" stroke-width="0.5"/>
<circle cx="90.50" cy="282.02" r="1.0" fill="#fff" stroke="#2a2a2a" stroke-width="0.5"/>
<circle cx="107.37" cy="275.23" r="1.0" fill="#fff" stroke="#2a2a2a" stroke-width="0.5"/>
<circle cx="127.91" cy="268.22" r="1.0" fill="#fff" stroke="#2a2a2a" stroke-width="0.5"/>
<circle cx="152.93" cy="261.00" r="1.0" fill="#fff" stroke="#2a2a2a" stroke-width="0.5"/>
<circle cx="183.39" cy="253.54" r="1.0" fill="#fff" stroke="#2a2a2a" stroke-width="0.5"/>
<circle cx="220.48" cy="245.86" r="1.0" fill="#fff" stroke="#2a2a2a" stroke-width="0.5"/>
<circle cx="265.65" cy="237.93" r="1.0" fill="#fff" stroke="#2a2a2a" stroke-width="0.5"/>
<circle cx="320.65" cy="229.75" r="1.0" fill="#fff" stroke="#2a2a2a" stroke-width="0.5"/>
</g>
<text transform="translate(20.90 324.06) scale(1.1 1)" font-size="4.45" fill="#222" text-anchor="start" >1000</text>
<text transform="translate(29.90 312.56) scale(1.1 1)" font-size="4.45" fill="#222" text-anchor="start" >1400</text>
<text transform="translate(43.00 300.56) scale(1.1 1)" font-size="4.45" fill="#222" text-anchor="start" >1800</text>
<text transform="translate(64.50 287.96) scale(1.1 1)" font-size="4.45" fill="#222" text-anchor="start" >2200</text>
<text transform="translate(95.80 274.36) scale(1.1 1)" font-size="4.45" fill="#222" text-anchor="start" >2600</text>
<rect x="20.30" y="244.40" width="131.20" height="104.60" fill="none" stroke="#5a5a5a" stroke-width="0.9" />
<line x1="20.30" y1="349.00" x2="20.30" y2="346.70" stroke="#5a5a5a" stroke-width="0.7" />
<text transform="translate(20.30 354.80) scale(1.1 1)" font-size="5.00" fill="#2a2a2a" text-anchor="middle" >0</text>
<line x1="49.46" y1="349.00" x2="49.46" y2="346.70" stroke="#5a5a5a" stroke-width="0.7" />
<text transform="translate(49.46 354.80) scale(1.1 1)" font-size="5.00" fill="#2a2a2a" text-anchor="middle" >4</text>
<line x1="78.62" y1="349.00" x2="78.62" y2="346.70" stroke="#5a5a5a" stroke-width="0.7" />
<text transform="translate(78.62 354.80) scale(1.1 1)" font-size="5.00" fill="#2a2a2a" text-anchor="middle" >8</text>
<line x1="107.78" y1="349.00" x2="107.78" y2="346.70" stroke="#5a5a5a" stroke-width="0.7" />
<text transform="translate(107.78 354.80) scale(1.1 1)" font-size="5.00" fill="#2a2a2a" text-anchor="middle" >12</text>
<line x1="136.94" y1="349.00" x2="136.94" y2="346.70" stroke="#5a5a5a" stroke-width="0.7" />
<text transform="translate(136.94 354.80) scale(1.1 1)" font-size="5.00" fill="#2a2a2a" text-anchor="middle" >16</text>
<line x1="34.88" y1="349.00" x2="34.88" y2="347.40" stroke="#5a5a5a" stroke-width="0.6" />
<line x1="64.04" y1="349.00" x2="64.04" y2="347.40" stroke="#5a5a5a" stroke-width="0.6" />
<line x1="93.20" y1="349.00" x2="93.20" y2="347.40" stroke="#5a5a5a" stroke-width="0.6" />
<line x1="122.36" y1="349.00" x2="122.36" y2="347.40" stroke="#5a5a5a" stroke-width="0.6" />
<line x1="20.30" y1="349.00" x2="22.60" y2="349.00" stroke="#5a5a5a" stroke-width="0.7" />
<text transform="translate(17.90 351.10) scale(1.1 1)" font-size="5.00" fill="#2a2a2a" text-anchor="end" >0.0</text>
<line x1="20.30" y1="319.30" x2="22.60" y2="319.30" stroke="#5a5a5a" stroke-width="0.7" />
<text transform="translate(17.90 321.40) scale(1.1 1)" font-size="5.00" fill="#2a2a2a" text-anchor="end" >0.2</text>
<line x1="20.30" y1="289.60" x2="22.60" y2="289.60" stroke="#5a5a5a" stroke-width="0.7" />
<text transform="translate(17.90 291.70) scale(1.1 1)" font-size="5.00" fill="#2a2a2a" text-anchor="end" >0.4</text>
<line x1="20.30" y1="259.90" x2="22.60" y2="259.90" stroke="#5a5a5a" stroke-width="0.7" />
<text transform="translate(17.90 262.00) scale(1.1 1)" font-size="5.00" fill="#2a2a2a" text-anchor="end" >0.6</text>
<line x1="20.30" y1="334.15" x2="21.90" y2="334.15" stroke="#5a5a5a" stroke-width="0.6" />
<line x1="20.30" y1="304.45" x2="21.90" y2="304.45" stroke="#5a5a5a" stroke-width="0.6" />
<line x1="20.30" y1="274.75" x2="21.90" y2="274.75" stroke="#5a5a5a" stroke-width="0.6" />
<text x="27.00" y="259.20" font-size="10.3" fill="#111" text-anchor="start" >C</text>
<text transform="translate(79.80 337.60) scale(1.1 1)" font-size="6.32" fill="#1a1a1a" text-anchor="start" >SJ-1, C<tspan font-size="60%" dy="0.35">1</tspan><tspan dy="-0.35" font-style="italic">d</tspan> sandstone</text>
<text transform="translate(69.20 362.80) scale(1.1 1)" font-size="5.82" fill="#1a1a1a" text-anchor="start" ><tspan font-size="62.5%" dy="-3.60">207</tspan><tspan dy="3.60">Pb/</tspan><tspan font-size="62.5%" dy="-3.60">235</tspan><tspan dy="3.60">U</tspan></text>
<text x="6.60" y="293.30" font-size="6.4" fill="#1a1a1a" text-anchor="middle" transform="rotate(-90 6.60 293.30)" ><tspan font-size="62.5%" dy="-3.60">206</tspan><tspan dy="3.60">Pb/</tspan><tspan font-size="62.5%" dy="-3.60">238</tspan><tspan dy="3.60">U</tspan></text>
<defs><clipPath id="cD"><rect x="368.4" y="1.4" width="131.60" height="104.80"/></clipPath></defs>
<g clip-path="url(#cD)">
<line x1="368.40" y1="96.40" x2="491.50" y2="1.40" stroke="#2a2a2a" stroke-width="0.65" stroke-dasharray="2.8,1.8"/>
<path d="M368.4,106.2 368.4,106.0 368.5,105.8 368.5,105.7 368.5,105.5 368.6,105.3 368.6,105.1 368.7,104.9 368.7,104.7 368.7,104.6 368.8,104.4 368.8,104.2 368.9,104.0 368.9,103.8 369.0,103.6 369.0,103.5 369.0,103.3 369.1,103.1 369.1,102.9 369.2,102.7 369.2,102.5 369.3,102.3 369.3,102.2 369.3,102.0 369.4,101.8 369.4,101.6 369.5,101.4 369.5,101.2 369.6,101.0 369.6,100.8 369.7,100.6 369.7,100.5 369.8,100.3 369.8,100.1 369.9,99.9 369.9,99.7 370.0,99.5 370.0,99.3 370.1,99.1 370.1,98.9 370.2,98.7 370.3,98.5 370.3,98.4 370.4,98.2 370.4,98.0 370.5,97.8 370.5,97.6 370.6,97.4 370.7,97.2 370.7,97.0 370.8,96.8 370.8,96.6 370.9,96.4 371.0,96.2 371.0,96.0 371.1,95.8 371.1,95.6 371.2,95.4 371.3,95.2 371.3,95.0 371.4,94.8 371.5,94.6 371.5,94.4 371.6,94.2 371.7,94.0 371.7,93.8 371.8,93.6 371.9,93.4 372.0,93.2 372.0,93.0 372.1,92.8 372.2,92.6 372.2,92.4 372.3,92.2 372.4,92.0 372.5,91.8 372.6,91.6 372.6,91.4 372.7,91.2 372.8,91.0 372.9,90.8 373.0,90.6 373.0,90.4 373.1,90.2 373.2,90.0 373.3,89.8 373.4,89.6 373.5,89.4 373.5,89.1 373.6,88.9 373.7,88.7 373.8,88.5 373.9,88.3 374.0,88.1 374.1,87.9 374.2,87.7 374.3,87.5 374.4,87.3 374.5,87.1 374.6,86.8 374.7,86.6 374.8,86.4 374.9,86.2 375.0,86.0 375.1,85.8 375.2,85.6 375.3,85.4 375.4,85.1 375.5,84.9 375.6,84.7 375.7,84.5 375.8,84.3 375.9,84.1 376.0,83.9 376.1,83.6 376.2,83.4 376.4,83.2 376.5,83.0 376.6,82.8 376.7,82.6 376.8,82.3 377.0,82.1 377.1,81.9 377.2,81.7 377.3,81.5 377.4,81.2 377.6,81.0 377.7,80.8 377.8,80.6 378.0,80.4 378.1,80.1 378.2,79.9 378.4,79.7 378.5,79.5 378.6,79.3 378.8,79.0 378.9,78.8 379.0,78.6 379.2,78.4 379.3,78.1 379.5,77.9 379.6,77.7 379.8,77.5 379.9,77.2 380.1,77.0 380.2,76.8 380.4,76.6 380.5,76.3 380.7,76.1 380.9,75.9 381.0,75.7 381.2,75.4 381.3,75.2 381.5,75.0 381.7,74.7 381.8,74.5 382.0,74.3 382.2,74.0 382.4,73.8 382.5,73.6 382.7,73.4 382.9,73.1 383.1,72.9 383.2,72.7 383.4,72.4 383.6,72.2 383.8,72.0 384.0,71.7 384.2,71.5 384.4,71.3 384.6,71.0 384.8,70.8 385.0,70.5 385.2,70.3 385.4,70.1 385.6,69.8 385.8,69.6 386.0,69.4 386.2,69.1 386.4,68.9 386.6,68.6 386.8,68.4 387.1,68.2 387.3,67.9 387.5,67.7 387.7,67.4 388.0,67.2 388.2,67.0 388.4,66.7 388.7,66.5 388.9,66.2 389.1,66.0 389.4,65.7 389.6,65.5 389.9,65.3 390.1,65.0 390.4,64.8 390.6,64.5 390.9,64.3 391.1,64.0 391.4,63.8 391.7,63.5 391.9,63.3 392.2,63.0 392.5,62.8 392.8,62.5 393.0,62.3 393.3,62.0 393.6,61.8 393.9,61.5 394.2,61.3 394.5,61.0 394.8,60.8 395.1,60.5 395.4,60.3 395.7,60.0 396.0,59.8 396.3,59.5 396.6,59.3 396.9,59.0 397.2,58.8 397.6,58.5 397.9,58.3 398.2,58.0 398.5,57.8 398.9,57.5 399.2,57.2 399.6,57.0 399.9,56.7 400.2,56.5 400.6,56.2 401.0,56.0 401.3,55.7 401.7,55.4 402.0,55.2 402.4,54.9 402.8,54.7 403.2,54.4 403.5,54.1 403.9,53.9 404.3,53.6 404.7,53.3 405.1,53.1 405.5,52.8 405.9,52.6 406.3,52.3 406.7,52.0 407.1,51.8 407.6,51.5 408.0,51.2 408.4,51.0 408.9,50.7 409.3,50.4 409.7,50.2 410.2,49.9 410.6,49.6 411.1,49.4 411.5,49.1 412.0,48.8 412.5,48.5 413.0,48.3 413.4,48.0 413.9,47.7 414.4,47.5 414.9,47.2 415.4,46.9 415.9,46.6 416.4,46.4 416.9,46.1 417.4,45.8 417.9,45.5 418.5,45.3 419.0,45.0 419.5,44.7 420.1,44.4 420.6,44.2 421.2,43.9 421.7,43.6 422.3,43.3 422.9,43.1 423.5,42.8 424.0,42.5 424.6,42.2 425.2,41.9 425.8,41.7 426.4,41.4 427.0,41.1 427.7,40.8 428.3,40.5 428.9,40.2 429.5,40.0 430.2,39.7 430.8,39.4 431.5,39.1 432.2,38.8 432.8,38.5 433.5,38.3 434.2,38.0 434.9,37.7 435.6,37.4 436.3,37.1 437.0,36.8 437.7,36.5 438.4,36.2 439.1,35.9 439.9,35.7 440.6,35.4 441.4,35.1 442.1,34.8 442.9,34.5 443.7,34.2 444.5,33.9 445.2,33.6 446.0,33.3 446.8,33.0 447.7,32.7 448.5,32.4 449.3,32.1 450.1,31.8 451.0,31.5 451.8,31.2 452.7,31.0 453.6,30.7 454.5,30.4 455.3,30.1 456.2,29.8 457.2,29.5 458.1,29.2 459.0,28.9 459.9,28.6 460.9,28.3 461.8,28.0 462.8,27.7 463.8,27.3 464.7,27.0 465.7,26.7 466.7,26.4 467.7,26.1 468.8,25.8 469.8,25.5 470.8,25.2 471.9,24.9 472.9,24.6 474.0,24.3 475.1,24.0 476.2,23.7 477.3,23.4 478.4,23.1 479.5,22.7 480.7,22.4 481.8,22.1 483.0,21.8 484.1,21.5 485.3,21.2 486.5,20.9 487.7,20.6 488.9,20.2 490.2,19.9 491.4,19.6 492.7,19.3 493.9,19.0 495.2,18.7 496.5,18.4 497.8,18.0 499.1,17.7 500.5,17.4 501.8,17.1 503.2,16.8" stroke="#2a2a2a" stroke-width="0.8" fill="none" stroke-linejoin="round" />
<ellipse cx="369.68" cy="100.65" rx="1.2" ry="0.5" transform="rotate(-75.3 369.68 100.65)" fill="rgba(255,42,42,0.2)" stroke="#ff2a2a" stroke-width="0.7"/>
<ellipse cx="372.10" cy="92.83" rx="1.0" ry="0.5" transform="rotate(-69.9 372.10 92.83)" fill="rgba(255,42,42,0.2)" stroke="#ff2a2a" stroke-width="0.7"/>
<ellipse cx="374.66" cy="86.63" rx="1.0" ry="0.5" transform="rotate(-64.8 374.66 86.63)" fill="rgba(255,42,42,0.2)" stroke="#ff2a2a" stroke-width="0.7"/>
<ellipse cx="378.77" cy="79.04" rx="1.0" ry="0.5" transform="rotate(-57.9 378.77 79.04)" fill="rgba(255,42,42,0.2)" stroke="#ff2a2a" stroke-width="0.7"/>
<ellipse cx="388.90" cy="66.23" rx="1.8" ry="0.6" transform="rotate(-45.3 388.90 66.23)" fill="rgba(255,42,42,0.2)" stroke="#ff2a2a" stroke-width="0.7"/>
<ellipse cx="392.76" cy="62.55" rx="1.2" ry="0.6" transform="rotate(-41.7 392.76 62.55)" fill="rgba(255,42,42,0.2)" stroke="#ff2a2a" stroke-width="0.7"/>
<ellipse cx="408.42" cy="50.96" rx="1.0" ry="0.6" transform="rotate(-31.5 408.42 50.96)" fill="rgba(255,42,42,0.2)" stroke="#ff2a2a" stroke-width="0.7"/>
<ellipse cx="402.40" cy="57.00" rx="1.0" ry="0.6" transform="rotate(-60 402.40 57.00)" fill="none" stroke="#ff2a2a" stroke-width="0.75"/>
<ellipse cx="449.20" cy="36.40" rx="1.9" ry="1.3" transform="rotate(-20 449.20 36.40)" fill="none" stroke="#ff2a2a" stroke-width="0.75"/>
<ellipse cx="451.40" cy="35.30" rx="1.7" ry="1.2" transform="rotate(-20 451.40 35.30)" fill="none" stroke="#ff2a2a" stroke-width="0.75"/>
<ellipse cx="459.20" cy="32.60" rx="1.6" ry="1.4" transform="rotate(-10 459.20 32.60)" fill="none" stroke="#ff2a2a" stroke-width="0.75"/>
<ellipse cx="464.80" cy="29.40" rx="2.0" ry="1.4" transform="rotate(-15 464.80 29.40)" fill="none" stroke="#ff2a2a" stroke-width="0.75"/>
<ellipse cx="470.00" cy="29.00" rx="2.5" ry="1.7" transform="rotate(-15 470.00 29.00)" fill="none" stroke="#ff2a2a" stroke-width="0.75"/>
<ellipse cx="473.00" cy="25.20" rx="0.9" ry="0.7" transform="rotate(0 473.00 25.20)" fill="none" stroke="#ff2a2a" stroke-width="0.75"/>
<circle cx="369.21" cy="102.53" r="1.0" fill="#fff" stroke="#2a2a2a" stroke-width="0.5"/>
<circle cx="370.20" cy="98.74" r="1.0" fill="#fff" stroke="#2a2a2a" stroke-width="0.5"/>
<circle cx="371.41" cy="94.83" r="1.0" fill="#fff" stroke="#2a2a2a" stroke-width="0.5"/>
<circle cx="372.87" cy="90.79" r="1.0" fill="#fff" stroke="#2a2a2a" stroke-width="0.5"/>
<circle cx="374.66" cy="86.63" r="1.0" fill="#fff" stroke="#2a2a2a" stroke-width="0.5"/>
<circle cx="376.83" cy="82.34" r="1.0" fill="#fff" stroke="#2a2a2a" stroke-width="0.5"/>
<circle cx="379.48" cy="77.92" r="1.0" fill="#fff" stroke="#2a2a2a" stroke-width="0.5"/>
<circle cx="382.70" cy="73.35" r="1.0" fill="#fff" stroke="#2a2a2a" stroke-width="0.5"/>
<circle cx="386.63" cy="68.64" r="1.0" fill="#fff" stroke="#2a2a2a" stroke-width="0.5"/>
<circle cx="391.41" cy="63.78" r="1.0" fill="#fff" stroke="#2a2a2a" stroke-width="0.5"/>
<circle cx="397.23" cy="58.77" r="1.0" fill="#fff" stroke="#2a2a2a" stroke-width="0.5"/>
<circle cx="404.32" cy="53.61" r="1.0" fill="#fff" stroke="#2a2a2a" stroke-width="0.5"/>
<circle cx="412.95" cy="48.27" r="1.0" fill="#fff" stroke="#2a2a2a" stroke-width="0.5"/>
<circle cx="423.46" cy="42.77" r="1.0" fill="#fff" stroke="#2a2a2a" stroke-width="0.5"/>
<circle cx="436.26" cy="37.10" r="1.0" fill="#fff" stroke="#2a2a2a" stroke-width="0.5"/>
<circle cx="451.85" cy="31.25" r="1.0" fill="#fff" stroke="#2a2a2a" stroke-width="0.5"/>
<circle cx="470.82" cy="25.21" r="1.0" fill="#fff" stroke="#2a2a2a" stroke-width="0.5"/>
<circle cx="493.94" cy="18.99" r="1.0" fill="#fff" stroke="#2a2a2a" stroke-width="0.5"/>
<circle cx="522.08" cy="12.57" r="1.0" fill="#fff" stroke="#2a2a2a" stroke-width="0.5"/>
</g>
<text transform="translate(369.70 77.66) scale(1.1 1)" font-size="4.45" fill="#222" text-anchor="start" >1400</text>
<text transform="translate(376.70 68.46) scale(1.1 1)" font-size="4.45" fill="#222" text-anchor="start" >1800</text>
<text transform="translate(386.60 59.26) scale(1.1 1)" font-size="4.45" fill="#222" text-anchor="start" >2200</text>
<text transform="translate(401.90 48.16) scale(1.1 1)" font-size="4.45" fill="#222" text-anchor="start" >2600</text>
<text transform="translate(425.70 37.16) scale(1.1 1)" font-size="4.45" fill="#222" text-anchor="start" >3000</text>
<text transform="translate(460.70 24.66) scale(1.1 1)" font-size="4.45" fill="#222" text-anchor="start" >3400</text>
<rect x="368.40" y="1.40" width="131.60" height="104.80" fill="none" stroke="#5a5a5a" stroke-width="0.9" />
<line x1="368.40" y1="106.20" x2="368.40" y2="103.90" stroke="#5a5a5a" stroke-width="0.7" />
<text transform="translate(368.40 112.00) scale(1.1 1)" font-size="5.00" fill="#2a2a2a" text-anchor="middle" >0</text>
<line x1="405.70" y1="106.20" x2="405.70" y2="103.90" stroke="#5a5a5a" stroke-width="0.7" />
<text transform="translate(405.70 112.00) scale(1.1 1)" font-size="5.00" fill="#2a2a2a" text-anchor="middle" >10</text>
<line x1="443.00" y1="106.20" x2="443.00" y2="103.90" stroke="#5a5a5a" stroke-width="0.7" />
<text transform="translate(443.00 112.00) scale(1.1 1)" font-size="5.00" fill="#2a2a2a" text-anchor="middle" >20</text>
<line x1="480.30" y1="106.20" x2="480.30" y2="103.90" stroke="#5a5a5a" stroke-width="0.7" />
<text transform="translate(480.30 112.00) scale(1.1 1)" font-size="5.00" fill="#2a2a2a" text-anchor="middle" >30</text>
<line x1="387.05" y1="106.20" x2="387.05" y2="104.60" stroke="#5a5a5a" stroke-width="0.6" />
<line x1="424.35" y1="106.20" x2="424.35" y2="104.60" stroke="#5a5a5a" stroke-width="0.6" />
<line x1="461.65" y1="106.20" x2="461.65" y2="104.60" stroke="#5a5a5a" stroke-width="0.6" />
<line x1="498.95" y1="106.20" x2="498.95" y2="104.60" stroke="#5a5a5a" stroke-width="0.6" />
<line x1="368.40" y1="106.20" x2="370.70" y2="106.20" stroke="#5a5a5a" stroke-width="0.7" />
<text transform="translate(366.00 108.30) scale(1.1 1)" font-size="5.00" fill="#2a2a2a" text-anchor="end" >0.0</text>
<line x1="368.40" y1="82.88" x2="370.70" y2="82.88" stroke="#5a5a5a" stroke-width="0.7" />
<text transform="translate(366.00 84.98) scale(1.1 1)" font-size="5.00" fill="#2a2a2a" text-anchor="end" >0.2</text>
<line x1="368.40" y1="59.56" x2="370.70" y2="59.56" stroke="#5a5a5a" stroke-width="0.7" />
<text transform="translate(366.00 61.66) scale(1.1 1)" font-size="5.00" fill="#2a2a2a" text-anchor="end" >0.4</text>
<line x1="368.40" y1="36.24" x2="370.70" y2="36.24" stroke="#5a5a5a" stroke-width="0.7" />
<text transform="translate(366.00 38.34) scale(1.1 1)" font-size="5.00" fill="#2a2a2a" text-anchor="end" >0.6</text>
<line x1="368.40" y1="12.92" x2="370.70" y2="12.92" stroke="#5a5a5a" stroke-width="0.7" />
<text transform="translate(366.00 15.02) scale(1.1 1)" font-size="5.00" fill="#2a2a2a" text-anchor="end" >0.8</text>
<line x1="368.40" y1="94.54" x2="370.00" y2="94.54" stroke="#5a5a5a" stroke-width="0.6" />
<line x1="368.40" y1="71.22" x2="370.00" y2="71.22" stroke="#5a5a5a" stroke-width="0.6" />
<line x1="368.40" y1="47.90" x2="370.00" y2="47.90" stroke="#5a5a5a" stroke-width="0.6" />
<line x1="368.40" y1="24.58" x2="370.00" y2="24.58" stroke="#5a5a5a" stroke-width="0.6" />
<text x="375.10" y="13.90" font-size="10.3" fill="#111" text-anchor="start" >D</text>
<text transform="translate(437.20 87.60) scale(1.1 1)" font-size="6.32" fill="#1a1a1a" text-anchor="start" >SJ-7-1 and SJ-19,</text>
<text transform="translate(437.20 95.60) scale(1.1 1)" font-size="6.32" fill="#1a1a1a" text-anchor="start" >C<tspan font-size="60%" dy="0.35">1</tspan><tspan dy="-0.35" font-style="italic">s</tspan> sandstone</text>
<text transform="translate(421.00 119.80) scale(1.1 1)" font-size="5.82" fill="#1a1a1a" text-anchor="start" ><tspan font-size="62.5%" dy="-3.60">207</tspan><tspan dy="3.60">Pb/</tspan><tspan font-size="62.5%" dy="-3.60">235</tspan><tspan dy="3.60">U</tspan></text>
<text x="354.00" y="49.70" font-size="6.4" fill="#1a1a1a" text-anchor="middle" transform="rotate(-90 354.00 49.70)" ><tspan font-size="62.5%" dy="-3.60">206</tspan><tspan dy="3.60">Pb/</tspan><tspan font-size="62.5%" dy="-3.60">238</tspan><tspan dy="3.60">U</tspan></text>
<defs><clipPath id="cE"><rect x="368.4" y="122.5" width="131.60" height="104.60"/></clipPath></defs>
<g clip-path="url(#cE)">
<line x1="370.00" y1="216.00" x2="500.00" y2="124.10" stroke="#2a2a2a" stroke-width="0.65" stroke-dasharray="2.8,1.8"/>
<path d="M368.4,226.9 368.5,226.6 368.6,226.3 368.7,226.0 368.8,225.7 368.9,225.4 369.0,225.1 369.1,224.8 369.2,224.5 369.3,224.2 369.4,223.9 369.6,223.6 369.7,223.3 369.8,223.0 369.9,222.8 370.0,222.5 370.1,222.2 370.2,221.8 370.4,221.5 370.5,221.2 370.6,220.9 370.7,220.6 370.8,220.3 371.0,220.0 371.1,219.7 371.2,219.4 371.3,219.1 371.5,218.8 371.6,218.5 371.7,218.2 371.9,217.9 372.0,217.6 372.1,217.3 372.3,217.0 372.4,216.7 372.6,216.4 372.7,216.0 372.8,215.7 373.0,215.4 373.1,215.1 373.3,214.8 373.4,214.5 373.6,214.2 373.7,213.9 373.9,213.5 374.0,213.2 374.2,212.9 374.3,212.6 374.5,212.3 374.7,212.0 374.8,211.7 375.0,211.3 375.2,211.0 375.3,210.7 375.5,210.4 375.7,210.1 375.8,209.7 376.0,209.4 376.2,209.1 376.4,208.8 376.5,208.5 376.7,208.1 376.9,207.8 377.1,207.5 377.3,207.2 377.5,206.8 377.6,206.5 377.8,206.2 378.0,205.9 378.2,205.5 378.4,205.2 378.6,204.9 378.8,204.6 379.0,204.2 379.2,203.9 379.4,203.6 379.6,203.3 379.9,202.9 380.1,202.6 380.3,202.3 380.5,201.9 380.7,201.6 380.9,201.3 381.2,200.9 381.4,200.6 381.6,200.3 381.9,199.9 382.1,199.6 382.3,199.3 382.6,198.9 382.8,198.6 383.0,198.2 383.3,197.9 383.5,197.6 383.8,197.2 384.0,196.9 384.3,196.6 384.6,196.2 384.8,195.9 385.1,195.5 385.3,195.2 385.6,194.8 385.9,194.5 386.2,194.2 386.4,193.8 386.7,193.5 387.0,193.1 387.3,192.8 387.6,192.4 387.8,192.1 388.1,191.7 388.4,191.4 388.7,191.0 389.0,190.7 389.3,190.3 389.6,190.0 390.0,189.6 390.3,189.3 390.6,188.9 390.9,188.6 391.2,188.2 391.6,187.9 391.9,187.5 392.2,187.2 392.6,186.8 392.9,186.5 393.2,186.1 393.6,185.7 393.9,185.4 394.3,185.0 394.6,184.7 395.0,184.3 395.4,184.0 395.7,183.6 396.1,183.2 396.5,182.9 396.8,182.5 397.2,182.1 397.6,181.8 398.0,181.4 398.4,181.1 398.8,180.7 399.2,180.3 399.6,180.0 400.0,179.6 400.4,179.2 400.8,178.9 401.3,178.5 401.7,178.1 402.1,177.8 402.5,177.4 403.0,177.0 403.4,176.6 403.9,176.3 404.3,175.9 404.8,175.5 405.2,175.2 405.7,174.8 406.2,174.4 406.6,174.0 407.1,173.7 407.6,173.3 408.1,172.9 408.6,172.5 409.1,172.1 409.6,171.8 410.1,171.4 410.6,171.0 411.1,170.6 411.7,170.2 412.2,169.9 412.7,169.5 413.3,169.1 413.8,168.7 414.3,168.3 414.9,168.0 415.5,167.6 416.0,167.2 416.6,166.8 417.2,166.4 417.8,166.0 418.3,165.6 418.9,165.2 419.5,164.9 420.1,164.5 420.8,164.1 421.4,163.7 422.0,163.3 422.6,162.9 423.3,162.5 423.9,162.1 424.6,161.7 425.2,161.3 425.9,160.9 426.5,160.5 427.2,160.1 427.9,159.7 428.6,159.3 429.3,158.9 430.0,158.5 430.7,158.1 431.4,157.7 432.1,157.3 432.9,156.9 433.6,156.5 434.4,156.1 435.1,155.7 435.9,155.3 436.6,154.9 437.4,154.5 438.2,154.1 439.0,153.7 439.8,153.3 440.6,152.9 441.4,152.5 442.2,152.1 443.1,151.7 443.9,151.3 444.7,150.8 445.6,150.4 446.5,150.0 447.3,149.6 448.2,149.2 449.1,148.8 450.0,148.4 450.9,148.0 451.8,147.5 452.8,147.1 453.7,146.7 454.6,146.3 455.6,145.9 456.6,145.5 457.5,145.0 458.5,144.6 459.5,144.2 460.5,143.8 461.5,143.3 462.5,142.9 463.6,142.5 464.6,142.1 465.7,141.6 466.7,141.2 467.8,140.8 468.9,140.4 470.0,139.9 471.1,139.5 472.2,139.1 473.3,138.7 474.5,138.2 475.6,137.8 476.8,137.4 477.9,136.9 479.1,136.5 480.3,136.1 481.5,135.6 482.7,135.2 484.0,134.8 485.2,134.3 486.5,133.9 487.8,133.4 489.0,133.0 490.3,132.6 491.6,132.1 493.0,131.7 494.3,131.2 495.6,130.8 497.0,130.4 498.4,129.9 499.7,129.5 501.1,129.0 502.6,128.6" stroke="#2a2a2a" stroke-width="0.8" fill="none" stroke-linejoin="round" />
<ellipse cx="372.28" cy="216.97" rx="1.3" ry="0.7" transform="rotate(-65.8 372.28 216.97)" fill="rgba(255,47,134,0.35)" stroke="#ff2f86" stroke-width="0.7"/>
<ellipse cx="372.98" cy="215.42" rx="1.3" ry="0.7" transform="rotate(-64.9 372.98 215.42)" fill="rgba(255,47,134,0.35)" stroke="#ff2f86" stroke-width="0.7"/>
<ellipse cx="373.73" cy="213.86" rx="1.2" ry="0.7" transform="rotate(-64.0 373.73 213.86)" fill="rgba(255,47,134,0.35)" stroke="#ff2f86" stroke-width="0.7"/>
<ellipse cx="378.82" cy="204.57" rx="1.1" ry="0.6" transform="rotate(-58.1 378.82 204.57)" fill="rgba(255,47,134,0.35)" stroke="#ff2f86" stroke-width="0.7"/>
<ellipse cx="470.30" cy="147.10" rx="4.6" ry="1.7" transform="rotate(-22 470.30 147.10)" fill="none" stroke="#ff2f86" stroke-width="0.75"/>
<circle cx="370.60" cy="220.94" r="1.0" fill="#fff" stroke="#2a2a2a" stroke-width="0.5"/>
<circle cx="373.28" cy="214.80" r="1.0" fill="#fff" stroke="#2a2a2a" stroke-width="0.5"/>
<circle cx="376.54" cy="208.46" r="1.0" fill="#fff" stroke="#2a2a2a" stroke-width="0.5"/>
<circle cx="380.51" cy="201.93" r="1.0" fill="#fff" stroke="#2a2a2a" stroke-width="0.5"/>
<circle cx="385.34" cy="195.19" r="1.0" fill="#fff" stroke="#2a2a2a" stroke-width="0.5"/>
<circle cx="391.23" cy="188.23" r="1.0" fill="#fff" stroke="#2a2a2a" stroke-width="0.5"/>
<circle cx="398.40" cy="181.06" r="1.0" fill="#fff" stroke="#2a2a2a" stroke-width="0.5"/>
<circle cx="407.13" cy="173.66" r="1.0" fill="#fff" stroke="#2a2a2a" stroke-width="0.5"/>
<circle cx="417.76" cy="166.02" r="1.0" fill="#fff" stroke="#2a2a2a" stroke-width="0.5"/>
<circle cx="430.70" cy="158.15" r="1.0" fill="#fff" stroke="#2a2a2a" stroke-width="0.5"/>
<circle cx="446.46" cy="150.03" r="1.0" fill="#fff" stroke="#2a2a2a" stroke-width="0.5"/>
<circle cx="465.66" cy="141.65" r="1.0" fill="#fff" stroke="#2a2a2a" stroke-width="0.5"/>
<circle cx="489.03" cy="133.01" r="1.0" fill="#fff" stroke="#2a2a2a" stroke-width="0.5"/>
<circle cx="517.49" cy="124.09" r="1.0" fill="#fff" stroke="#2a2a2a" stroke-width="0.5"/>
<circle cx="552.15" cy="114.90" r="1.0" fill="#fff" stroke="#2a2a2a" stroke-width="0.5"/>
<circle cx="594.35" cy="105.41" r="1.0" fill="#fff" stroke="#2a2a2a" stroke-width="0.5"/>
<circle cx="645.74" cy="95.63" r="1.0" fill="#fff" stroke="#2a2a2a" stroke-width="0.5"/>
<circle cx="708.32" cy="85.54" r="1.0" fill="#fff" stroke="#2a2a2a" stroke-width="0.5"/>
<circle cx="784.52" cy="75.13" r="1.0" fill="#fff" stroke="#2a2a2a" stroke-width="0.5"/>
</g>
<text transform="translate(369.50 208.08) scale(1.1 1)" font-size="4.00" fill="#222" text-anchor="start" >600</text>
<text transform="translate(374.40 194.38) scale(1.1 1)" font-size="4.00" fill="#222" text-anchor="start" >1000</text>
<text transform="translate(387.00 180.98) scale(1.1 1)" font-size="4.00" fill="#222" text-anchor="start" >1400</text>
<text transform="translate(406.50 165.28) scale(1.1 1)" font-size="4.00" fill="#222" text-anchor="start" >1800</text>
<text transform="translate(435.10 149.28) scale(1.1 1)" font-size="4.00" fill="#222" text-anchor="start" >2200</text>
<text transform="translate(478.10 132.48) scale(1.1 1)" font-size="4.00" fill="#222" text-anchor="start" >2600</text>
<rect x="368.40" y="122.50" width="131.60" height="104.60" fill="none" stroke="#5a5a5a" stroke-width="0.9" />
<line x1="368.40" y1="227.10" x2="368.40" y2="224.80" stroke="#5a5a5a" stroke-width="0.7" />
<text transform="translate(368.40 232.90) scale(1.1 1)" font-size="5.00" fill="#2a2a2a" text-anchor="middle" >0</text>
<line x1="388.60" y1="227.10" x2="388.60" y2="224.80" stroke="#5a5a5a" stroke-width="0.7" />
<text transform="translate(388.60 232.90) scale(1.1 1)" font-size="5.00" fill="#2a2a2a" text-anchor="middle" >2</text>
<line x1="408.80" y1="227.10" x2="408.80" y2="224.80" stroke="#5a5a5a" stroke-width="0.7" />
<text transform="translate(408.80 232.90) scale(1.1 1)" font-size="5.00" fill="#2a2a2a" text-anchor="middle" >4</text>
<line x1="429.00" y1="227.10" x2="429.00" y2="224.80" stroke="#5a5a5a" stroke-width="0.7" />
<text transform="translate(429.00 232.90) scale(1.1 1)" font-size="5.00" fill="#2a2a2a" text-anchor="middle" >6</text>
<line x1="449.20" y1="227.10" x2="449.20" y2="224.80" stroke="#5a5a5a" stroke-width="0.7" />
<text transform="translate(449.20 232.90) scale(1.1 1)" font-size="5.00" fill="#2a2a2a" text-anchor="middle" >8</text>
<line x1="469.40" y1="227.10" x2="469.40" y2="224.80" stroke="#5a5a5a" stroke-width="0.7" />
<text transform="translate(469.40 232.90) scale(1.1 1)" font-size="5.00" fill="#2a2a2a" text-anchor="middle" >10</text>
<line x1="489.60" y1="227.10" x2="489.60" y2="224.80" stroke="#5a5a5a" stroke-width="0.7" />
<text transform="translate(489.60 232.90) scale(1.1 1)" font-size="5.00" fill="#2a2a2a" text-anchor="middle" >12</text>
<line x1="378.50" y1="227.10" x2="378.50" y2="225.50" stroke="#5a5a5a" stroke-width="0.6" />
<line x1="398.70" y1="227.10" x2="398.70" y2="225.50" stroke="#5a5a5a" stroke-width="0.6" />
<line x1="418.90" y1="227.10" x2="418.90" y2="225.50" stroke="#5a5a5a" stroke-width="0.6" />
<line x1="439.10" y1="227.10" x2="439.10" y2="225.50" stroke="#5a5a5a" stroke-width="0.6" />
<line x1="459.30" y1="227.10" x2="459.30" y2="225.50" stroke="#5a5a5a" stroke-width="0.6" />
<line x1="479.50" y1="227.10" x2="479.50" y2="225.50" stroke="#5a5a5a" stroke-width="0.6" />
<line x1="368.40" y1="226.90" x2="370.70" y2="226.90" stroke="#5a5a5a" stroke-width="0.7" />
<text transform="translate(366.00 229.00) scale(1.1 1)" font-size="5.00" fill="#2a2a2a" text-anchor="end" >0.0</text>
<line x1="368.40" y1="208.00" x2="370.70" y2="208.00" stroke="#5a5a5a" stroke-width="0.7" />
<text transform="translate(366.00 210.10) scale(1.1 1)" font-size="5.00" fill="#2a2a2a" text-anchor="end" >0.1</text>
<line x1="368.40" y1="189.10" x2="370.70" y2="189.10" stroke="#5a5a5a" stroke-width="0.7" />
<text transform="translate(366.00 191.20) scale(1.1 1)" font-size="5.00" fill="#2a2a2a" text-anchor="end" >0.2</text>
<line x1="368.40" y1="170.20" x2="370.70" y2="170.20" stroke="#5a5a5a" stroke-width="0.7" />
<text transform="translate(366.00 172.30) scale(1.1 1)" font-size="5.00" fill="#2a2a2a" text-anchor="end" >0.3</text>
<line x1="368.40" y1="151.30" x2="370.70" y2="151.30" stroke="#5a5a5a" stroke-width="0.7" />
<text transform="translate(366.00 153.40) scale(1.1 1)" font-size="5.00" fill="#2a2a2a" text-anchor="end" >0.4</text>
<line x1="368.40" y1="132.40" x2="370.70" y2="132.40" stroke="#5a5a5a" stroke-width="0.7" />
<text transform="translate(366.00 134.50) scale(1.1 1)" font-size="5.00" fill="#2a2a2a" text-anchor="end" >0.5</text>
<line x1="368.40" y1="217.45" x2="370.00" y2="217.45" stroke="#5a5a5a" stroke-width="0.6" />
<line x1="368.40" y1="198.55" x2="370.00" y2="198.55" stroke="#5a5a5a" stroke-width="0.6" />
<line x1="368.40" y1="179.65" x2="370.00" y2="179.65" stroke="#5a5a5a" stroke-width="0.6" />
<line x1="368.40" y1="160.75" x2="370.00" y2="160.75" stroke="#5a5a5a" stroke-width="0.6" />
<line x1="368.40" y1="141.85" x2="370.00" y2="141.85" stroke="#5a5a5a" stroke-width="0.6" />
<text x="375.10" y="135.50" font-size="10.3" fill="#111" text-anchor="start" >E</text>
<text transform="translate(427.70 215.70) scale(1.1 1)" font-size="6.32" fill="#1a1a1a" text-anchor="start" >KM-6, C<tspan font-size="60%" dy="0.35">1</tspan><tspan dy="-0.35" font-style="normal">n</tspan> sandstone</text>
<text transform="translate(425.10 240.60) scale(1.1 1)" font-size="5.82" fill="#1a1a1a" text-anchor="start" ><tspan font-size="62.5%" dy="-3.60">207</tspan><tspan dy="3.60">Pb/</tspan><tspan font-size="62.5%" dy="-3.60">235</tspan><tspan dy="3.60">U</tspan></text>
<text x="354.00" y="176.60" font-size="6.4" fill="#1a1a1a" text-anchor="middle" transform="rotate(-90 354.00 176.60)" ><tspan font-size="62.5%" dy="-3.60">206</tspan><tspan dy="3.60">Pb/</tspan><tspan font-size="62.5%" dy="-3.60">238</tspan><tspan dy="3.60">U</tspan></text>
<defs><clipPath id="h1"><rect x="178.4" y="-4.6" width="162.00" height="110.40"/></clipPath></defs>
<rect x="186.02" y="1.40" width="9.05" height="104.90" fill="#fffcc6" stroke="none" stroke-width="0.8" />
<rect x="207.46" y="1.40" width="9.53" height="104.90" fill="#e0fdfd" stroke="none" stroke-width="0.8" />
<rect x="226.05" y="1.40" width="14.06" height="104.90" fill="#e2fce2" stroke="none" stroke-width="0.8" />
<rect x="273.93" y="1.40" width="9.05" height="104.90" fill="#f0f0f0" stroke="none" stroke-width="0.8" />
<rect x="302.04" y="1.40" width="9.77" height="104.90" fill="#f0f0f0" stroke="none" stroke-width="0.8" />
<rect x="330.63" y="1.40" width="5.00" height="104.90" fill="#f0f0f0" stroke="none" stroke-width="0.8" />
<g clip-path="url(#h1)">
<rect x="183.16" y="102.04" width="2.38" height="4.26" fill="#fff" stroke="#3a3a3a" stroke-width="0.5" />
<rect x="185.55" y="25.44" width="2.38" height="80.86" fill="#fff" stroke="#3a3a3a" stroke-width="0.5" />
<rect x="187.93" y="68.00" width="2.38" height="38.30" fill="#fff" stroke="#3a3a3a" stroke-width="0.5" />
<rect x="190.31" y="74.38" width="2.38" height="31.92" fill="#fff" stroke="#3a3a3a" stroke-width="0.5" />
<rect x="192.69" y="95.66" width="2.38" height="10.64" fill="#fff" stroke="#3a3a3a" stroke-width="0.5" />
<rect x="210.80" y="104.17" width="2.38" height="2.13" fill="#fff" stroke="#3a3a3a" stroke-width="0.5" />
<rect x="213.18" y="104.17" width="2.38" height="2.13" fill="#fff" stroke="#3a3a3a" stroke-width="0.5" />
<rect x="222.71" y="104.17" width="2.38" height="2.13" fill="#fff" stroke="#3a3a3a" stroke-width="0.5" />
<rect x="238.91" y="104.17" width="2.38" height="2.13" fill="#fff" stroke="#3a3a3a" stroke-width="0.5" />
<rect x="277.98" y="104.17" width="2.38" height="2.13" fill="#fff" stroke="#3a3a3a" stroke-width="0.5" />
<rect x="307.05" y="104.17" width="2.38" height="2.13" fill="#fff" stroke="#3a3a3a" stroke-width="0.5" />
<rect x="336.59" y="104.17" width="2.38" height="2.13" fill="#fff" stroke="#3a3a3a" stroke-width="0.5" />
<path d="M178.4,106.3 L178.4,106.3 L178.6,106.3 L178.9,106.3 L179.1,106.3 L179.4,106.3 L179.6,106.3 L179.8,106.3 L180.1,106.3 L180.3,106.3 L180.5,106.3 L180.8,106.3 L181.0,106.3 L181.3,106.3 L181.5,106.3 L181.7,106.3 L182.0,106.3 L182.2,106.3 L182.5,106.3 L182.7,106.3 L182.9,106.3 L183.2,106.3 L183.4,106.3 L183.6,106.3 L183.9,106.3 L184.1,106.3 L184.4,106.3 L184.6,106.3 L184.8,106.3 L185.1,106.2 L185.3,105.9 L185.5,104.2 L185.8,97.8 L186.0,81.4 L186.3,52.4 L186.5,20.6 L186.7,6.3 L187.0,20.6 L187.2,52.4 L187.5,81.4 L187.7,97.8 L187.9,104.2 L188.2,105.9 L188.4,106.2 L188.6,106.3 L188.9,106.3 L189.1,106.2 L189.4,106.1 L189.6,105.8 L189.8,104.9 L190.1,103.1 L190.3,99.8 L190.6,94.8 L190.8,88.3 L191.0,81.6 L191.3,76.4 L191.5,74.4 L191.7,76.4 L192.0,81.6 L192.2,88.3 L192.5,94.8 L192.7,99.6 L192.9,102.2 L193.2,102.2 L193.4,100.0 L193.6,97.0 L193.9,95.6 L194.1,97.2 L194.4,100.6 L194.6,103.6 L194.8,105.4 L195.1,106.1 L195.3,106.3 L195.6,106.3 L195.8,106.3 L196.0,106.3 L196.3,106.3 L196.5,106.3 L196.7,106.3 L197.0,106.3 L197.2,106.3 L197.5,106.3 L197.7,106.3 L197.9,106.3 L198.2,106.3 L198.4,106.3 L198.7,106.3 L198.9,106.3 L199.1,106.3 L199.4,106.3 L199.6,106.3 L199.8,106.3 L200.1,106.3 L200.3,106.3 L200.6,106.3 L200.8,106.3 L201.0,106.3 L201.3,106.3 L201.5,106.3 L201.7,106.3 L202.0,106.3 L202.2,106.3 L202.5,106.3 L202.7,106.3 L202.9,106.3 L203.2,106.3 L203.4,106.3 L203.7,106.3 L203.9,106.3 L204.1,106.3 L204.4,106.3 L204.6,106.3 L204.8,106.3 L205.1,106.3 L205.3,106.3 L205.6,106.3 L205.8,106.3 L206.0,106.3 L206.3,106.3 L206.5,106.3 L206.8,106.3 L207.0,106.3 L207.2,106.3 L207.5,106.3 L207.7,106.3 L207.9,106.3 L208.2,106.3 L208.4,106.3 L208.7,106.3 L208.9,106.3 L209.1,106.2 L209.4,106.2 L209.6,106.1 L209.8,106.0 L210.1,105.9 L210.3,105.7 L210.6,105.5 L210.8,105.3 L211.0,105.0 L211.3,104.8 L211.5,104.5 L211.8,104.3 L212.0,104.2 L212.2,104.2 L212.5,104.2 L212.7,104.3 L212.9,104.5 L213.2,104.8 L213.4,105.0 L213.7,105.3 L213.9,105.5 L214.1,105.7 L214.4,105.9 L214.6,106.0 L214.8,106.1 L215.1,106.2 L215.3,106.2 L215.6,106.3 L215.8,106.3 L216.0,106.3 L216.3,106.3 L216.5,106.3 L216.8,106.3 L217.0,106.3 L217.2,106.3 L217.5,106.3 L217.7,106.3 L217.9,106.3 L218.2,106.3 L218.4,106.3 L218.7,106.2 L218.9,106.2 L219.1,106.2 L219.4,106.2 L219.6,106.1 L219.9,106.1 L220.1,106.0 L220.3,105.9 L220.6,105.8 L220.8,105.7 L221.0,105.6 L221.3,105.5 L221.5,105.4 L221.8,105.3 L222.0,105.1 L222.2,105.0 L222.5,104.9 L222.7,104.8 L222.9,104.7 L223.2,104.7 L223.4,104.6 L223.7,104.6 L223.9,104.6 L224.1,104.7 L224.4,104.7 L224.6,104.8 L224.9,104.9 L225.1,105.0 L225.3,105.1 L225.6,105.3 L225.8,105.4 L226.0,105.5 L226.3,105.6 L226.5,105.7 L226.8,105.8 L227.0,105.9 L227.2,106.0 L227.5,106.1 L227.7,106.1 L228.0,106.2 L228.2,106.2 L228.4,106.2 L228.7,106.2 L228.9,106.3 L229.1,106.3 L229.4,106.3 L229.6,106.3 L229.9,106.3 L230.1,106.3 L230.3,106.3 L230.6,106.3 L230.8,106.3 L231.1,106.3 L231.3,106.3 L231.5,106.3 L231.8,106.3 L232.0,106.3 L232.2,106.3 L232.5,106.3 L232.7,106.3 L233.0,106.3 L233.2,106.3 L233.4,106.3 L233.7,106.3 L233.9,106.3 L234.1,106.3 L234.4,106.3 L234.6,106.3 L234.9,106.2 L235.1,106.2 L235.3,106.2 L235.6,106.2 L235.8,106.1 L236.1,106.1 L236.3,106.0 L236.5,105.9 L236.8,105.8 L237.0,105.7 L237.2,105.6 L237.5,105.5 L237.7,105.4 L238.0,105.3 L238.2,105.1 L238.4,105.0 L238.7,104.9 L238.9,104.8 L239.1,104.7 L239.4,104.7 L239.6,104.6 L239.9,104.6 L240.1,104.6 L240.3,104.7 L240.6,104.7 L240.8,104.8 L241.1,104.9 L241.3,105.0 L241.5,105.1 L241.8,105.3 L242.0,105.4 L242.2,105.5 L242.5,105.6 L242.7,105.7 L243.0,105.8 L243.2,105.9 L243.4,106.0 L243.7,106.1 L243.9,106.1 L244.2,106.2 L244.4,106.2 L244.6,106.2 L244.9,106.2 L245.1,106.3 L245.3,106.3 L245.6,106.3 L245.8,106.3 L246.1,106.3 L246.3,106.3 L246.5,106.3 L246.8,106.3 L247.0,106.3 L247.2,106.3 L247.5,106.3 L247.7,106.3 L248.0,106.3 L248.2,106.3 L248.4,106.3 L248.7,106.3 L248.9,106.3 L249.2,106.3 L249.4,106.3 L249.6,106.3 L249.9,106.3 L250.1,106.3 L250.3,106.3 L250.6,106.3 L250.8,106.3 L251.1,106.3 L251.3,106.3 L251.5,106.3 L251.8,106.3 L252.0,106.3 L252.3,106.3 L252.5,106.3 L252.7,106.3 L253.0,106.3 L253.2,106.3 L253.4,106.3 L253.7,106.3 L253.9,106.3 L254.2,106.3 L254.4,106.3 L254.6,106.3 L254.9,106.3 L255.1,106.3 L255.3,106.3 L255.6,106.3 L255.8,106.3 L256.1,106.3 L256.3,106.3 L256.5,106.3 L256.8,106.3 L257.0,106.3 L257.3,106.3 L257.5,106.3 L257.7,106.3 L258.0,106.3 L258.2,106.3 L258.4,106.3 L258.7,106.3 L258.9,106.3 L259.2,106.3 L259.4,106.3 L259.6,106.3 L259.9,106.3 L260.1,106.3 L260.4,106.3 L260.6,106.3 L260.8,106.3 L261.1,106.3 L261.3,106.3 L261.5,106.3 L261.8,106.3 L262.0,106.3 L262.3,106.3 L262.5,106.3 L262.7,106.3 L263.0,106.3 L263.2,106.3 L263.4,106.3 L263.7,106.3 L263.9,106.3 L264.2,106.3 L264.4,106.3 L264.6,106.3 L264.9,106.3 L265.1,106.3 L265.4,106.3 L265.6,106.3 L265.8,106.3 L266.1,106.3 L266.3,106.3 L266.5,106.3 L266.8,106.3 L267.0,106.3 L267.3,106.3 L267.5,106.3 L267.7,106.3 L268.0,106.3 L268.2,106.3 L268.5,106.3 L268.7,106.3 L268.9,106.3 L269.2,106.3 L269.4,106.3 L269.6,106.3 L269.9,106.3 L270.1,106.3 L270.4,106.3 L270.6,106.3 L270.8,106.3 L271.1,106.3 L271.3,106.3 L271.5,106.3 L271.8,106.3 L272.0,106.3 L272.3,106.3 L272.5,106.3 L272.7,106.3 L273.0,106.3 L273.2,106.3 L273.5,106.3 L273.7,106.3 L273.9,106.3 L274.2,106.3 L274.4,106.3 L274.6,106.3 L274.9,106.3 L275.1,106.3 L275.4,106.2 L275.6,106.2 L275.8,106.2 L276.1,106.1 L276.3,106.0 L276.6,105.9 L276.8,105.8 L277.0,105.7 L277.3,105.5 L277.5,105.4 L277.7,105.2 L278.0,105.1 L278.2,105.0 L278.5,104.9 L278.7,104.8 L278.9,104.8 L279.2,104.8 L279.4,104.9 L279.6,105.0 L279.9,105.1 L280.1,105.2 L280.4,105.4 L280.6,105.5 L280.8,105.7 L281.1,105.8 L281.3,105.9 L281.6,106.0 L281.8,106.1 L282.0,106.2 L282.3,106.2 L282.5,106.2 L282.7,106.3 L283.0,106.3 L283.2,106.3 L283.5,106.3 L283.7,106.3 L283.9,106.3 L284.2,106.3 L284.4,106.3 L284.7,106.3 L284.9,106.3 L285.1,106.3 L285.4,106.3 L285.6,106.3 L285.8,106.3 L286.1,106.3 L286.3,106.3 L286.6,106.3 L286.8,106.3 L287.0,106.3 L287.3,106.3 L287.5,106.3 L287.8,106.3 L288.0,106.3 L288.2,106.3 L288.5,106.3 L288.7,106.3 L288.9,106.3 L289.2,106.3 L289.4,106.3 L289.7,106.3 L289.9,106.3 L290.1,106.3 L290.4,106.3 L290.6,106.3 L290.8,106.3 L291.1,106.3 L291.3,106.3 L291.6,106.3 L291.8,106.3 L292.0,106.3 L292.3,106.3 L292.5,106.3 L292.8,106.3 L293.0,106.3 L293.2,106.3 L293.5,106.3 L293.7,106.3 L293.9,106.3 L294.2,106.3 L294.4,106.3 L294.7,106.3 L294.9,106.3 L295.1,106.3 L295.4,106.3 L295.6,106.3 L295.8,106.3 L296.1,106.3 L296.3,106.3 L296.6,106.3 L296.8,106.3 L297.0,106.3 L297.3,106.3 L297.5,106.3 L297.8,106.3 L298.0,106.3 L298.2,106.3 L298.5,106.3 L298.7,106.3 L298.9,106.3 L299.2,106.3 L299.4,106.3 L299.7,106.3 L299.9,106.3 L300.1,106.3 L300.4,106.3 L300.6,106.3 L300.9,106.3 L301.1,106.3 L301.3,106.3 L301.6,106.3 L301.8,106.3 L302.0,106.3 L302.3,106.3 L302.5,106.3 L302.8,106.3 L303.0,106.3 L303.2,106.3 L303.5,106.3 L303.7,106.3 L303.9,106.3 L304.2,106.3 L304.4,106.2 L304.7,106.2 L304.9,106.2 L305.1,106.1 L305.4,106.0 L305.6,105.9 L305.9,105.8 L306.1,105.7 L306.3,105.5 L306.6,105.4 L306.8,105.2 L307.0,105.1 L307.3,105.0 L307.5,104.9 L307.8,104.8 L308.0,104.8 L308.2,104.8 L308.5,104.9 L308.7,105.0 L309.0,105.1 L309.2,105.2 L309.4,105.4 L309.7,105.5 L309.9,105.7 L310.1,105.8 L310.4,105.9 L310.6,106.0 L310.9,106.1 L311.1,106.2 L311.3,106.2 L311.6,106.2 L311.8,106.3 L312.0,106.3 L312.3,106.3 L312.5,106.3 L312.8,106.3 L313.0,106.3 L313.2,106.3 L313.5,106.3 L313.7,106.3 L314.0,106.3 L314.2,106.3 L314.4,106.3 L314.7,106.3 L314.9,106.3 L315.1,106.3 L315.4,106.3 L315.6,106.3 L315.9,106.3 L316.1,106.3 L316.3,106.3 L316.6,106.3 L316.8,106.3 L317.1,106.3 L317.3,106.3 L317.5,106.3 L317.8,106.3 L318.0,106.3 L318.2,106.3 L318.5,106.3 L318.7,106.3 L319.0,106.3 L319.2,106.3 L319.4,106.3 L319.7,106.3 L319.9,106.3 L320.1,106.3 L320.4,106.3 L320.6,106.3 L320.9,106.3 L321.1,106.3 L321.3,106.3 L321.6,106.3 L321.8,106.3 L322.1,106.3 L322.3,106.3 L322.5,106.3 L322.8,106.3 L323.0,106.3 L323.2,106.3 L323.5,106.3 L323.7,106.3 L324.0,106.3 L324.2,106.3 L324.4,106.3 L324.7,106.3 L324.9,106.3 L325.2,106.3 L325.4,106.3 L325.6,106.3 L325.9,106.3 L326.1,106.3 L326.3,106.3 L326.6,106.3 L326.8,106.3 L327.1,106.3 L327.3,106.3 L327.5,106.3 L327.8,106.3 L328.0,106.3 L328.2,106.3 L328.5,106.3 L328.7,106.3 L329.0,106.3 L329.2,106.3 L329.4,106.3 L329.7,106.3 L329.9,106.3 L330.2,106.3 L330.4,106.3 L330.6,106.3 L330.9,106.3 L331.1,106.3 L331.3,106.3 L331.6,106.3 L331.8,106.3 L332.1,106.3 L332.3,106.3 L332.5,106.3 L332.8,106.3 L333.0,106.3 L333.3,106.3 L333.5,106.3 L333.7,106.3 L334.0,106.3 L334.2,106.3 L334.4,106.2 L334.7,106.2 L334.9,106.1 L335.2,106.1 L335.4,106.0 L335.6,105.8 L335.9,105.7 L336.1,105.5 L336.3,105.3 L336.6,105.1 L336.8,104.9 L337.1,104.7 L337.3,104.6 L337.5,104.6 L337.8,104.6 L338.0,104.7 L338.3,104.9 L338.5,105.1 L338.7,105.3 L339.0,105.5 L339.2,105.7 L339.4,105.8 L339.7,106.0 L339.9,106.1 L340.2,106.1 L340.4,106.2 L340.4,106.3 Z" fill="rgba(255,47,134,0.22)" stroke="none"/>
<path d="M178.4,106.3 178.6,106.3 178.9,106.3 179.1,106.3 179.4,106.3 179.6,106.3 179.8,106.3 180.1,106.3 180.3,106.3 180.5,106.3 180.8,106.3 181.0,106.3 181.3,106.3 181.5,106.3 181.7,106.3 182.0,106.3 182.2,106.3 182.5,106.3 182.7,106.3 182.9,106.3 183.2,106.3 183.4,106.3 183.6,106.3 183.9,106.3 184.1,106.3 184.4,106.3 184.6,106.3 184.8,106.3 185.1,106.2 185.3,105.9 185.5,104.2 185.8,97.8 186.0,81.4 186.3,52.4 186.5,20.6 186.7,6.3 187.0,20.6 187.2,52.4 187.5,81.4 187.7,97.8 187.9,104.2 188.2,105.9 188.4,106.2 188.6,106.3 188.9,106.3 189.1,106.2 189.4,106.1 189.6,105.8 189.8,104.9 190.1,103.1 190.3,99.8 190.6,94.8 190.8,88.3 191.0,81.6 191.3,76.4 191.5,74.4 191.7,76.4 192.0,81.6 192.2,88.3 192.5,94.8 192.7,99.6 192.9,102.2 193.2,102.2 193.4,100.0 193.6,97.0 193.9,95.6 194.1,97.2 194.4,100.6 194.6,103.6 194.8,105.4 195.1,106.1 195.3,106.3 195.6,106.3 195.8,106.3 196.0,106.3 196.3,106.3 196.5,106.3 196.7,106.3 197.0,106.3 197.2,106.3 197.5,106.3 197.7,106.3 197.9,106.3 198.2,106.3 198.4,106.3 198.7,106.3 198.9,106.3 199.1,106.3 199.4,106.3 199.6,106.3 199.8,106.3 200.1,106.3 200.3,106.3 200.6,106.3 200.8,106.3 201.0,106.3 201.3,106.3 201.5,106.3 201.7,106.3 202.0,106.3 202.2,106.3 202.5,106.3 202.7,106.3 202.9,106.3 203.2,106.3 203.4,106.3 203.7,106.3 203.9,106.3 204.1,106.3 204.4,106.3 204.6,106.3 204.8,106.3 205.1,106.3 205.3,106.3 205.6,106.3 205.8,106.3 206.0,106.3 206.3,106.3 206.5,106.3 206.8,106.3 207.0,106.3 207.2,106.3 207.5,106.3 207.7,106.3 207.9,106.3 208.2,106.3 208.4,106.3 208.7,106.3 208.9,106.3 209.1,106.2 209.4,106.2 209.6,106.1 209.8,106.0 210.1,105.9 210.3,105.7 210.6,105.5 210.8,105.3 211.0,105.0 211.3,104.8 211.5,104.5 211.8,104.3 212.0,104.2 212.2,104.2 212.5,104.2 212.7,104.3 212.9,104.5 213.2,104.8 213.4,105.0 213.7,105.3 213.9,105.5 214.1,105.7 214.4,105.9 214.6,106.0 214.8,106.1 215.1,106.2 215.3,106.2 215.6,106.3 215.8,106.3 216.0,106.3 216.3,106.3 216.5,106.3 216.8,106.3 217.0,106.3 217.2,106.3 217.5,106.3 217.7,106.3 217.9,106.3 218.2,106.3 218.4,106.3 218.7,106.2 218.9,106.2 219.1,106.2 219.4,106.2 219.6,106.1 219.9,106.1 220.1,106.0 220.3,105.9 220.6,105.8 220.8,105.7 221.0,105.6 221.3,105.5 221.5,105.4 221.8,105.3 222.0,105.1 222.2,105.0 222.5,104.9 222.7,104.8 222.9,104.7 223.2,104.7 223.4,104.6 223.7,104.6 223.9,104.6 224.1,104.7 224.4,104.7 224.6,104.8 224.9,104.9 225.1,105.0 225.3,105.1 225.6,105.3 225.8,105.4 226.0,105.5 226.3,105.6 226.5,105.7 226.8,105.8 227.0,105.9 227.2,106.0 227.5,106.1 227.7,106.1 228.0,106.2 228.2,106.2 228.4,106.2 228.7,106.2 228.9,106.3 229.1,106.3 229.4,106.3 229.6,106.3 229.9,106.3 230.1,106.3 230.3,106.3 230.6,106.3 230.8,106.3 231.1,106.3 231.3,106.3 231.5,106.3 231.8,106.3 232.0,106.3 232.2,106.3 232.5,106.3 232.7,106.3 233.0,106.3 233.2,106.3 233.4,106.3 233.7,106.3 233.9,106.3 234.1,106.3 234.4,106.3 234.6,106.3 234.9,106.2 235.1,106.2 235.3,106.2 235.6,106.2 235.8,106.1 236.1,106.1 236.3,106.0 236.5,105.9 236.8,105.8 237.0,105.7 237.2,105.6 237.5,105.5 237.7,105.4 238.0,105.3 238.2,105.1 238.4,105.0 238.7,104.9 238.9,104.8 239.1,104.7 239.4,104.7 239.6,104.6 239.9,104.6 240.1,104.6 240.3,104.7 240.6,104.7 240.8,104.8 241.1,104.9 241.3,105.0 241.5,105.1 241.8,105.3 242.0,105.4 242.2,105.5 242.5,105.6 242.7,105.7 243.0,105.8 243.2,105.9 243.4,106.0 243.7,106.1 243.9,106.1 244.2,106.2 244.4,106.2 244.6,106.2 244.9,106.2 245.1,106.3 245.3,106.3 245.6,106.3 245.8,106.3 246.1,106.3 246.3,106.3 246.5,106.3 246.8,106.3 247.0,106.3 247.2,106.3 247.5,106.3 247.7,106.3 248.0,106.3 248.2,106.3 248.4,106.3 248.7,106.3 248.9,106.3 249.2,106.3 249.4,106.3 249.6,106.3 249.9,106.3 250.1,106.3 250.3,106.3 250.6,106.3 250.8,106.3 251.1,106.3 251.3,106.3 251.5,106.3 251.8,106.3 252.0,106.3 252.3,106.3 252.5,106.3 252.7,106.3 253.0,106.3 253.2,106.3 253.4,106.3 253.7,106.3 253.9,106.3 254.2,106.3 254.4,106.3 254.6,106.3 254.9,106.3 255.1,106.3 255.3,106.3 255.6,106.3 255.8,106.3 256.1,106.3 256.3,106.3 256.5,106.3 256.8,106.3 257.0,106.3 257.3,106.3 257.5,106.3 257.7,106.3 258.0,106.3 258.2,106.3 258.4,106.3 258.7,106.3 258.9,106.3 259.2,106.3 259.4,106.3 259.6,106.3 259.9,106.3 260.1,106.3 260.4,106.3 260.6,106.3 260.8,106.3 261.1,106.3 261.3,106.3 261.5,106.3 261.8,106.3 262.0,106.3 262.3,106.3 262.5,106.3 262.7,106.3 263.0,106.3 263.2,106.3 263.4,106.3 263.7,106.3 263.9,106.3 264.2,106.3 264.4,106.3 264.6,106.3 264.9,106.3 265.1,106.3 265.4,106.3 265.6,106.3 265.8,106.3 266.1,106.3 266.3,106.3 266.5,106.3 266.8,106.3 267.0,106.3 267.3,106.3 267.5,106.3 267.7,106.3 268.0,106.3 268.2,106.3 268.5,106.3 268.7,106.3 268.9,106.3 269.2,106.3 269.4,106.3 269.6,106.3 269.9,106.3 270.1,106.3 270.4,106.3 270.6,106.3 270.8,106.3 271.1,106.3 271.3,106.3 271.5,106.3 271.8,106.3 272.0,106.3 272.3,106.3 272.5,106.3 272.7,106.3 273.0,106.3 273.2,106.3 273.5,106.3 273.7,106.3 273.9,106.3 274.2,106.3 274.4,106.3 274.6,106.3 274.9,106.3 275.1,106.3 275.4,106.2 275.6,106.2 275.8,106.2 276.1,106.1 276.3,106.0 276.6,105.9 276.8,105.8 277.0,105.7 277.3,105.5 277.5,105.4 277.7,105.2 278.0,105.1 278.2,105.0 278.5,104.9 278.7,104.8 278.9,104.8 279.2,104.8 279.4,104.9 279.6,105.0 279.9,105.1 280.1,105.2 280.4,105.4 280.6,105.5 280.8,105.7 281.1,105.8 281.3,105.9 281.6,106.0 281.8,106.1 282.0,106.2 282.3,106.2 282.5,106.2 282.7,106.3 283.0,106.3 283.2,106.3 283.5,106.3 283.7,106.3 283.9,106.3 284.2,106.3 284.4,106.3 284.7,106.3 284.9,106.3 285.1,106.3 285.4,106.3 285.6,106.3 285.8,106.3 286.1,106.3 286.3,106.3 286.6,106.3 286.8,106.3 287.0,106.3 287.3,106.3 287.5,106.3 287.8,106.3 288.0,106.3 288.2,106.3 288.5,106.3 288.7,106.3 288.9,106.3 289.2,106.3 289.4,106.3 289.7,106.3 289.9,106.3 290.1,106.3 290.4,106.3 290.6,106.3 290.8,106.3 291.1,106.3 291.3,106.3 291.6,106.3 291.8,106.3 292.0,106.3 292.3,106.3 292.5,106.3 292.8,106.3 293.0,106.3 293.2,106.3 293.5,106.3 293.7,106.3 293.9,106.3 294.2,106.3 294.4,106.3 294.7,106.3 294.9,106.3 295.1,106.3 295.4,106.3 295.6,106.3 295.8,106.3 296.1,106.3 296.3,106.3 296.6,106.3 296.8,106.3 297.0,106.3 297.3,106.3 297.5,106.3 297.8,106.3 298.0,106.3 298.2,106.3 298.5,106.3 298.7,106.3 298.9,106.3 299.2,106.3 299.4,106.3 299.7,106.3 299.9,106.3 300.1,106.3 300.4,106.3 300.6,106.3 300.9,106.3 301.1,106.3 301.3,106.3 301.6,106.3 301.8,106.3 302.0,106.3 302.3,106.3 302.5,106.3 302.8,106.3 303.0,106.3 303.2,106.3 303.5,106.3 303.7,106.3 303.9,106.3 304.2,106.3 304.4,106.2 304.7,106.2 304.9,106.2 305.1,106.1 305.4,106.0 305.6,105.9 305.9,105.8 306.1,105.7 306.3,105.5 306.6,105.4 306.8,105.2 307.0,105.1 307.3,105.0 307.5,104.9 307.8,104.8 308.0,104.8 308.2,104.8 308.5,104.9 308.7,105.0 309.0,105.1 309.2,105.2 309.4,105.4 309.7,105.5 309.9,105.7 310.1,105.8 310.4,105.9 310.6,106.0 310.9,106.1 311.1,106.2 311.3,106.2 311.6,106.2 311.8,106.3 312.0,106.3 312.3,106.3 312.5,106.3 312.8,106.3 313.0,106.3 313.2,106.3 313.5,106.3 313.7,106.3 314.0,106.3 314.2,106.3 314.4,106.3 314.7,106.3 314.9,106.3 315.1,106.3 315.4,106.3 315.6,106.3 315.9,106.3 316.1,106.3 316.3,106.3 316.6,106.3 316.8,106.3 317.1,106.3 317.3,106.3 317.5,106.3 317.8,106.3 318.0,106.3 318.2,106.3 318.5,106.3 318.7,106.3 319.0,106.3 319.2,106.3 319.4,106.3 319.7,106.3 319.9,106.3 320.1,106.3 320.4,106.3 320.6,106.3 320.9,106.3 321.1,106.3 321.3,106.3 321.6,106.3 321.8,106.3 322.1,106.3 322.3,106.3 322.5,106.3 322.8,106.3 323.0,106.3 323.2,106.3 323.5,106.3 323.7,106.3 324.0,106.3 324.2,106.3 324.4,106.3 324.7,106.3 324.9,106.3 325.2,106.3 325.4,106.3 325.6,106.3 325.9,106.3 326.1,106.3 326.3,106.3 326.6,106.3 326.8,106.3 327.1,106.3 327.3,106.3 327.5,106.3 327.8,106.3 328.0,106.3 328.2,106.3 328.5,106.3 328.7,106.3 329.0,106.3 329.2,106.3 329.4,106.3 329.7,106.3 329.9,106.3 330.2,106.3 330.4,106.3 330.6,106.3 330.9,106.3 331.1,106.3 331.3,106.3 331.6,106.3 331.8,106.3 332.1,106.3 332.3,106.3 332.5,106.3 332.8,106.3 333.0,106.3 333.3,106.3 333.5,106.3 333.7,106.3 334.0,106.3 334.2,106.3 334.4,106.2 334.7,106.2 334.9,106.1 335.2,106.1 335.4,106.0 335.6,105.8 335.9,105.7 336.1,105.5 336.3,105.3 336.6,105.1 336.8,104.9 337.1,104.7 337.3,104.6 337.5,104.6 337.8,104.6 338.0,104.7 338.3,104.9 338.5,105.1 338.7,105.3 339.0,105.5 339.2,105.7 339.4,105.8 339.7,106.0 339.9,106.1 340.2,106.1 340.4,106.2" stroke="#ff2f86" stroke-width="0.8" fill="none" stroke-linejoin="round" />
</g>
<text transform="translate(188.40 10.10) scale(1.1 1)" font-size="4.82" fill="#ff2f86" text-anchor="start" >370</text>
<text transform="translate(192.00 68.15) scale(1.1 1)" font-size="4.82" fill="#ff2f86" text-anchor="start" >475</text>
<text transform="translate(195.60 93.85) scale(1.1 1)" font-size="4.82" fill="#ff2f86" text-anchor="start" >520</text>
<text transform="translate(207.00 102.45) scale(1.1 1)" font-size="4.82" fill="#ff2f86" text-anchor="start" >910</text>
<text transform="translate(219.30 101.85) scale(1.1 1)" font-size="4.82" fill="#ff2f86" text-anchor="start" >1150</text>
<text transform="translate(235.20 102.95) scale(1.1 1)" font-size="4.82" fill="#ff2f86" text-anchor="start" >1490</text>
<text transform="translate(273.00 101.85) scale(1.1 1)" font-size="4.82" fill="#ff2f86" text-anchor="start" >2310</text>
<text transform="translate(302.20 101.55) scale(1.1 1)" font-size="4.82" fill="#ff2f86" text-anchor="start" >2920</text>
<text transform="translate(325.20 102.95) scale(1.1 1)" font-size="4.82" fill="#ff2f86" text-anchor="start" >3540</text>
<rect x="178.40" y="1.40" width="162.00" height="104.90" fill="none" stroke="#5a5a5a" stroke-width="0.9" />
<line x1="178.40" y1="106.30" x2="180.70" y2="106.30" stroke="#5a5a5a" stroke-width="0.7" />
<text transform="translate(175.90 108.40) scale(1.1 1)" font-size="5.09" fill="#2a2a2a" text-anchor="end" >0</text>
<line x1="178.40" y1="95.66" x2="180.70" y2="95.66" stroke="#5a5a5a" stroke-width="0.7" />
<text transform="translate(175.90 97.76) scale(1.1 1)" font-size="5.09" fill="#2a2a2a" text-anchor="end" >5</text>
<line x1="178.40" y1="85.02" x2="180.70" y2="85.02" stroke="#5a5a5a" stroke-width="0.7" />
<text transform="translate(175.90 87.12) scale(1.1 1)" font-size="5.09" fill="#2a2a2a" text-anchor="end" >10</text>
<line x1="178.40" y1="74.38" x2="180.70" y2="74.38" stroke="#5a5a5a" stroke-width="0.7" />
<text transform="translate(175.90 76.48) scale(1.1 1)" font-size="5.09" fill="#2a2a2a" text-anchor="end" >15</text>
<line x1="178.40" y1="63.74" x2="180.70" y2="63.74" stroke="#5a5a5a" stroke-width="0.7" />
<text transform="translate(175.90 65.84) scale(1.1 1)" font-size="5.09" fill="#2a2a2a" text-anchor="end" >20</text>
<line x1="178.40" y1="53.11" x2="180.70" y2="53.11" stroke="#5a5a5a" stroke-width="0.7" />
<text transform="translate(175.90 55.21) scale(1.1 1)" font-size="5.09" fill="#2a2a2a" text-anchor="end" >25</text>
<line x1="178.40" y1="42.47" x2="180.70" y2="42.47" stroke="#5a5a5a" stroke-width="0.7" />
<text transform="translate(175.90 44.57) scale(1.1 1)" font-size="5.09" fill="#2a2a2a" text-anchor="end" >30</text>
<line x1="178.40" y1="31.83" x2="180.70" y2="31.83" stroke="#5a5a5a" stroke-width="0.7" />
<text transform="translate(175.90 33.93) scale(1.1 1)" font-size="5.09" fill="#2a2a2a" text-anchor="end" >35</text>
<line x1="178.40" y1="21.19" x2="180.70" y2="21.19" stroke="#5a5a5a" stroke-width="0.7" />
<text transform="translate(175.90 23.29) scale(1.1 1)" font-size="5.09" fill="#2a2a2a" text-anchor="end" >40</text>
<line x1="178.40" y1="10.55" x2="180.70" y2="10.55" stroke="#5a5a5a" stroke-width="0.7" />
<text transform="translate(175.90 12.65) scale(1.1 1)" font-size="5.09" fill="#2a2a2a" text-anchor="end" >45</text>
<line x1="178.40" y1="106.30" x2="178.40" y2="108.50" stroke="#5a5a5a" stroke-width="0.55" />
<line x1="183.16" y1="106.30" x2="183.16" y2="107.70" stroke="#5a5a5a" stroke-width="0.55" />
<line x1="187.93" y1="106.30" x2="187.93" y2="108.50" stroke="#5a5a5a" stroke-width="0.55" />
<line x1="192.69" y1="106.30" x2="192.69" y2="107.70" stroke="#5a5a5a" stroke-width="0.55" />
<line x1="197.46" y1="106.30" x2="197.46" y2="108.50" stroke="#5a5a5a" stroke-width="0.55" />
<line x1="202.22" y1="106.30" x2="202.22" y2="107.70" stroke="#5a5a5a" stroke-width="0.55" />
<line x1="206.99" y1="106.30" x2="206.99" y2="108.50" stroke="#5a5a5a" stroke-width="0.55" />
<line x1="211.75" y1="106.30" x2="211.75" y2="107.70" stroke="#5a5a5a" stroke-width="0.55" />
<line x1="216.52" y1="106.30" x2="216.52" y2="108.50" stroke="#5a5a5a" stroke-width="0.55" />
<line x1="221.28" y1="106.30" x2="221.28" y2="107.70" stroke="#5a5a5a" stroke-width="0.55" />
<line x1="226.05" y1="106.30" x2="226.05" y2="108.50" stroke="#5a5a5a" stroke-width="0.55" />
<line x1="230.81" y1="106.30" x2="230.81" y2="107.70" stroke="#5a5a5a" stroke-width="0.55" />
<line x1="235.58" y1="106.30" x2="235.58" y2="108.50" stroke="#5a5a5a" stroke-width="0.55" />
<line x1="240.34" y1="106.30" x2="240.34" y2="107.70" stroke="#5a5a5a" stroke-width="0.55" />
<line x1="245.11" y1="106.30" x2="245.11" y2="108.50" stroke="#5a5a5a" stroke-width="0.55" />
<line x1="249.87" y1="106.30" x2="249.87" y2="107.70" stroke="#5a5a5a" stroke-width="0.55" />
<line x1="254.64" y1="106.30" x2="254.64" y2="108.50" stroke="#5a5a5a" stroke-width="0.55" />
<line x1="259.40" y1="106.30" x2="259.40" y2="107.70" stroke="#5a5a5a" stroke-width="0.55" />
<line x1="264.16" y1="106.30" x2="264.16" y2="108.50" stroke="#5a5a5a" stroke-width="0.55" />
<line x1="268.93" y1="106.30" x2="268.93" y2="107.70" stroke="#5a5a5a" stroke-width="0.55" />
<line x1="273.69" y1="106.30" x2="273.69" y2="108.50" stroke="#5a5a5a" stroke-width="0.55" />
<line x1="278.46" y1="106.30" x2="278.46" y2="107.70" stroke="#5a5a5a" stroke-width="0.55" />
<line x1="283.22" y1="106.30" x2="283.22" y2="108.50" stroke="#5a5a5a" stroke-width="0.55" />
<line x1="287.99" y1="106.30" x2="287.99" y2="107.70" stroke="#5a5a5a" stroke-width="0.55" />
<line x1="292.75" y1="106.30" x2="292.75" y2="108.50" stroke="#5a5a5a" stroke-width="0.55" />
<line x1="297.52" y1="106.30" x2="297.52" y2="107.70" stroke="#5a5a5a" stroke-width="0.55" />
<line x1="302.28" y1="106.30" x2="302.28" y2="108.50" stroke="#5a5a5a" stroke-width="0.55" />
<line x1="307.05" y1="106.30" x2="307.05" y2="107.70" stroke="#5a5a5a" stroke-width="0.55" />
<line x1="311.81" y1="106.30" x2="311.81" y2="108.50" stroke="#5a5a5a" stroke-width="0.55" />
<line x1="316.58" y1="106.30" x2="316.58" y2="107.70" stroke="#5a5a5a" stroke-width="0.55" />
<line x1="321.34" y1="106.30" x2="321.34" y2="108.50" stroke="#5a5a5a" stroke-width="0.55" />
<line x1="326.11" y1="106.30" x2="326.11" y2="107.70" stroke="#5a5a5a" stroke-width="0.55" />
<line x1="330.87" y1="106.30" x2="330.87" y2="108.50" stroke="#5a5a5a" stroke-width="0.55" />
<line x1="335.64" y1="106.30" x2="335.64" y2="107.70" stroke="#5a5a5a" stroke-width="0.55" />
<line x1="340.40" y1="106.30" x2="340.40" y2="108.50" stroke="#5a5a5a" stroke-width="0.55" />
<text transform="translate(178.40 113.90) scale(1.1 1)" font-size="5.00" fill="#2a2a2a" text-anchor="middle" >200</text>
<text transform="translate(197.46 113.90) scale(1.1 1)" font-size="5.00" fill="#2a2a2a" text-anchor="middle" >600</text>
<text transform="translate(216.52 113.90) scale(1.1 1)" font-size="5.00" fill="#2a2a2a" text-anchor="middle" >1000</text>
<text transform="translate(235.58 113.90) scale(1.1 1)" font-size="5.00" fill="#2a2a2a" text-anchor="middle" >1400</text>
<text transform="translate(254.64 113.90) scale(1.1 1)" font-size="5.00" fill="#2a2a2a" text-anchor="middle" >1800</text>
<text transform="translate(273.69 113.90) scale(1.1 1)" font-size="5.00" fill="#2a2a2a" text-anchor="middle" >2200</text>
<text transform="translate(292.75 113.90) scale(1.1 1)" font-size="5.00" fill="#2a2a2a" text-anchor="middle" >2600</text>
<text transform="translate(311.81 113.90) scale(1.1 1)" font-size="5.00" fill="#2a2a2a" text-anchor="middle" >3000</text>
<text transform="translate(330.87 113.90) scale(1.1 1)" font-size="5.00" fill="#2a2a2a" text-anchor="middle" >3400</text>
<text transform="translate(255.20 119.80) scale(1.1 1)" font-size="5.09" fill="#222" text-anchor="middle" >Age (Ma)</text>
<text x="164.70" y="49.50" font-size="5.8" fill="#222" text-anchor="middle" transform="rotate(-90 164.70 49.50)" >Number</text>
<text transform="translate(259.00 17.30) scale(1.1 1)" font-size="6.32" fill="#1a1a1a" text-anchor="start" >Junggar block</text>
<text transform="translate(259.00 31.60) scale(1.1 1)" font-size="6.32" fill="#1a1a1a" text-anchor="start" >KM-4, C<tspan font-size="60%" dy="0.35">1</tspan><tspan dy="-0.35" font-style="italic">f</tspan> sandstone</text>
<text transform="translate(259.00 38.60) scale(1.1 1)" font-size="6.32" fill="#1a1a1a" text-anchor="start" >n=87 (this study)</text>
<defs><clipPath id="h2"><rect x="178.6" y="116.4" width="161.90" height="110.60"/></clipPath></defs>
<rect x="185.74" y="122.40" width="9.05" height="105.10" fill="#fffcc6" stroke="none" stroke-width="0.8" />
<rect x="201.93" y="122.40" width="4.76" height="105.10" fill="#e0fdfd" stroke="none" stroke-width="0.8" />
<rect x="226.22" y="122.40" width="14.29" height="105.10" fill="#e2fce2" stroke="none" stroke-width="0.8" />
<g clip-path="url(#h2)">
<rect x="185.74" y="144.44" width="2.38" height="83.06" fill="#fff" stroke="#3a3a3a" stroke-width="0.5" />
<rect x="188.12" y="170.00" width="2.38" height="57.50" fill="#fff" stroke="#3a3a3a" stroke-width="0.5" />
<rect x="190.50" y="224.31" width="2.38" height="3.19" fill="#fff" stroke="#3a3a3a" stroke-width="0.5" />
<rect x="192.89" y="221.11" width="2.38" height="6.39" fill="#fff" stroke="#3a3a3a" stroke-width="0.5" />
<rect x="202.41" y="217.92" width="2.38" height="9.58" fill="#fff" stroke="#3a3a3a" stroke-width="0.5" />
<rect x="228.60" y="224.31" width="2.38" height="3.19" fill="#fff" stroke="#3a3a3a" stroke-width="0.5" />
<rect x="247.65" y="224.31" width="2.38" height="3.19" fill="#fff" stroke="#3a3a3a" stroke-width="0.5" />
<path d="M178.6,227.5 L178.6,227.5 L178.8,227.5 L179.1,227.5 L179.3,227.5 L179.6,227.5 L179.8,227.5 L180.0,227.5 L180.3,227.5 L180.5,227.5 L180.7,227.5 L181.0,227.5 L181.2,227.5 L181.5,227.5 L181.7,227.5 L181.9,227.5 L182.2,227.5 L182.4,227.5 L182.6,227.5 L182.9,227.5 L183.1,227.5 L183.4,227.5 L183.6,227.5 L183.8,227.5 L184.1,227.4 L184.3,227.4 L184.6,227.3 L184.8,227.2 L185.0,227.0 L185.3,226.8 L185.5,226.5 L185.7,226.0 L186.0,225.3 L186.2,224.5 L186.5,223.5 L186.7,222.3 L186.9,220.6 L187.2,215.7 L187.4,196.7 L187.6,156.4 L187.9,130.1 L188.1,153.6 L188.4,191.3 L188.6,208.0 L188.8,211.2 L189.1,211.7 L189.3,212.4 L189.6,213.4 L189.8,214.7 L190.0,216.2 L190.3,217.8 L190.5,219.4 L190.7,220.9 L191.0,222.3 L191.2,223.5 L191.5,224.5 L191.7,225.2 L191.9,225.3 L192.2,224.0 L192.4,220.2 L192.6,215.2 L192.9,212.8 L193.1,215.5 L193.4,220.8 L193.6,225.0 L193.8,226.8 L194.1,227.4 L194.3,227.5 L194.6,227.5 L194.8,227.5 L195.0,227.5 L195.3,227.5 L195.5,227.5 L195.7,227.5 L196.0,227.5 L196.2,227.5 L196.5,227.5 L196.7,227.5 L196.9,227.5 L197.2,227.5 L197.4,227.5 L197.6,227.5 L197.9,227.5 L198.1,227.5 L198.4,227.5 L198.6,227.5 L198.8,227.5 L199.1,227.5 L199.3,227.5 L199.6,227.5 L199.8,227.5 L200.0,227.5 L200.3,227.5 L200.5,227.5 L200.7,227.5 L201.0,227.5 L201.2,227.5 L201.5,227.5 L201.7,227.5 L201.9,227.5 L202.2,227.5 L202.4,227.5 L202.6,227.5 L202.9,227.5 L203.1,227.5 L203.4,227.3 L203.6,226.5 L203.8,223.9 L204.1,219.8 L204.3,217.6 L204.6,219.8 L204.8,223.9 L205.0,226.5 L205.3,227.3 L205.5,227.5 L205.7,227.5 L206.0,227.5 L206.2,227.5 L206.5,227.5 L206.7,227.5 L206.9,227.5 L207.2,227.5 L207.4,227.5 L207.6,227.5 L207.9,227.5 L208.1,227.5 L208.4,227.5 L208.6,227.5 L208.8,227.5 L209.1,227.5 L209.3,227.5 L209.6,227.5 L209.8,227.5 L210.0,227.5 L210.3,227.5 L210.5,227.5 L210.7,227.5 L211.0,227.5 L211.2,227.5 L211.5,227.5 L211.7,227.5 L211.9,227.5 L212.2,227.5 L212.4,227.5 L212.6,227.5 L212.9,227.5 L213.1,227.5 L213.4,227.5 L213.6,227.5 L213.8,227.5 L214.1,227.5 L214.3,227.5 L214.6,227.5 L214.8,227.5 L215.0,227.5 L215.3,227.5 L215.5,227.5 L215.7,227.5 L216.0,227.5 L216.2,227.5 L216.5,227.5 L216.7,227.5 L216.9,227.5 L217.2,227.5 L217.4,227.5 L217.6,227.5 L217.9,227.5 L218.1,227.5 L218.4,227.5 L218.6,227.5 L218.8,227.5 L219.1,227.5 L219.3,227.5 L219.6,227.5 L219.8,227.5 L220.0,227.5 L220.3,227.5 L220.5,227.5 L220.7,227.5 L221.0,227.5 L221.2,227.5 L221.5,227.5 L221.7,227.5 L221.9,227.5 L222.2,227.5 L222.4,227.5 L222.6,227.5 L222.9,227.5 L223.1,227.5 L223.4,227.5 L223.6,227.5 L223.8,227.5 L224.1,227.5 L224.3,227.5 L224.6,227.4 L224.8,227.4 L225.0,227.4 L225.3,227.3 L225.5,227.3 L225.7,227.2 L226.0,227.2 L226.2,227.1 L226.5,227.0 L226.7,226.9 L226.9,226.8 L227.2,226.6 L227.4,226.5 L227.6,226.3 L227.9,226.2 L228.1,226.1 L228.4,225.9 L228.6,225.8 L228.8,225.7 L229.1,225.6 L229.3,225.6 L229.6,225.6 L229.8,225.6 L230.0,225.6 L230.3,225.7 L230.5,225.8 L230.7,225.9 L231.0,226.1 L231.2,226.2 L231.5,226.3 L231.7,226.5 L231.9,226.6 L232.2,226.8 L232.4,226.9 L232.6,227.0 L232.9,227.1 L233.1,227.2 L233.4,227.2 L233.6,227.3 L233.8,227.3 L234.1,227.4 L234.3,227.4 L234.6,227.4 L234.8,227.5 L235.0,227.5 L235.3,227.5 L235.5,227.5 L235.7,227.5 L236.0,227.5 L236.2,227.5 L236.5,227.5 L236.7,227.5 L236.9,227.5 L237.2,227.5 L237.4,227.5 L237.6,227.5 L237.9,227.5 L238.1,227.5 L238.4,227.5 L238.6,227.5 L238.8,227.5 L239.1,227.5 L239.3,227.5 L239.6,227.5 L239.8,227.5 L240.0,227.5 L240.3,227.5 L240.5,227.5 L240.7,227.5 L241.0,227.5 L241.2,227.5 L241.5,227.5 L241.7,227.5 L241.9,227.5 L242.2,227.5 L242.4,227.5 L242.6,227.5 L242.9,227.5 L243.1,227.5 L243.4,227.5 L243.6,227.5 L243.8,227.5 L244.1,227.5 L244.3,227.5 L244.6,227.5 L244.8,227.4 L245.0,227.4 L245.3,227.4 L245.5,227.3 L245.7,227.2 L246.0,227.1 L246.2,226.9 L246.5,226.8 L246.7,226.6 L246.9,226.4 L247.2,226.1 L247.4,225.9 L247.6,225.7 L247.9,225.5 L248.1,225.4 L248.4,225.3 L248.6,225.3 L248.8,225.3 L249.1,225.4 L249.3,225.5 L249.6,225.7 L249.8,225.9 L250.0,226.1 L250.3,226.4 L250.5,226.6 L250.7,226.8 L251.0,226.9 L251.2,227.1 L251.5,227.2 L251.7,227.3 L251.9,227.4 L252.2,227.4 L252.4,227.4 L252.6,227.5 L252.9,227.5 L253.1,227.5 L253.4,227.5 L253.6,227.5 L253.8,227.5 L254.1,227.5 L254.3,227.5 L254.6,227.5 L254.8,227.5 L255.0,227.5 L255.3,227.5 L255.5,227.5 L255.7,227.5 L256.0,227.5 L256.2,227.5 L256.5,227.5 L256.7,227.5 L256.9,227.5 L257.2,227.5 L257.4,227.5 L257.6,227.5 L257.9,227.5 L258.1,227.5 L258.4,227.5 L258.6,227.5 L258.8,227.5 L259.1,227.5 L259.3,227.5 L259.6,227.5 L259.8,227.5 L260.0,227.5 L260.3,227.5 L260.5,227.5 L260.7,227.5 L261.0,227.5 L261.2,227.5 L261.5,227.5 L261.7,227.5 L261.9,227.5 L262.2,227.5 L262.4,227.5 L262.6,227.5 L262.9,227.5 L263.1,227.5 L263.4,227.5 L263.6,227.5 L263.8,227.5 L264.1,227.5 L264.3,227.5 L264.5,227.5 L264.8,227.5 L265.0,227.5 L265.3,227.5 L265.5,227.5 L265.7,227.5 L266.0,227.5 L266.2,227.5 L266.5,227.5 L266.7,227.5 L266.9,227.5 L267.2,227.5 L267.4,227.5 L267.6,227.5 L267.9,227.5 L268.1,227.5 L268.4,227.5 L268.6,227.5 L268.8,227.5 L269.1,227.5 L269.3,227.5 L269.5,227.5 L269.8,227.5 L270.0,227.5 L270.3,227.5 L270.5,227.5 L270.7,227.5 L271.0,227.5 L271.2,227.5 L271.5,227.5 L271.7,227.5 L271.9,227.5 L272.2,227.5 L272.4,227.5 L272.6,227.5 L272.9,227.5 L273.1,227.5 L273.4,227.5 L273.6,227.5 L273.8,227.5 L274.1,227.5 L274.3,227.5 L274.5,227.5 L274.8,227.5 L275.0,227.5 L275.3,227.5 L275.5,227.5 L275.7,227.5 L276.0,227.5 L276.2,227.5 L276.5,227.5 L276.7,227.5 L276.9,227.5 L277.2,227.5 L277.4,227.5 L277.6,227.5 L277.9,227.5 L278.1,227.5 L278.4,227.5 L278.6,227.5 L278.8,227.5 L279.1,227.5 L279.3,227.5 L279.5,227.5 L279.8,227.5 L280.0,227.5 L280.3,227.5 L280.5,227.5 L280.7,227.5 L281.0,227.5 L281.2,227.5 L281.5,227.5 L281.7,227.5 L281.9,227.5 L282.2,227.5 L282.4,227.5 L282.6,227.5 L282.9,227.5 L283.1,227.5 L283.4,227.5 L283.6,227.5 L283.8,227.5 L284.1,227.5 L284.3,227.5 L284.5,227.5 L284.8,227.5 L285.0,227.5 L285.3,227.5 L285.5,227.5 L285.7,227.5 L286.0,227.5 L286.2,227.5 L286.5,227.5 L286.7,227.5 L286.9,227.5 L287.2,227.5 L287.4,227.5 L287.6,227.5 L287.9,227.5 L288.1,227.5 L288.4,227.5 L288.6,227.5 L288.8,227.5 L289.1,227.5 L289.3,227.5 L289.5,227.5 L289.8,227.5 L290.0,227.5 L290.3,227.5 L290.5,227.5 L290.7,227.5 L291.0,227.5 L291.2,227.5 L291.5,227.5 L291.7,227.5 L291.9,227.5 L292.2,227.5 L292.4,227.5 L292.6,227.5 L292.9,227.5 L293.1,227.5 L293.4,227.5 L293.6,227.5 L293.8,227.5 L294.1,227.5 L294.3,227.5 L294.5,227.5 L294.8,227.5 L295.0,227.5 L295.3,227.5 L295.5,227.5 L295.7,227.5 L296.0,227.5 L296.2,227.5 L296.5,227.5 L296.7,227.5 L296.9,227.5 L297.2,227.5 L297.4,227.5 L297.6,227.5 L297.9,227.5 L298.1,227.5 L298.4,227.5 L298.6,227.5 L298.8,227.5 L299.1,227.5 L299.3,227.5 L299.5,227.5 L299.8,227.5 L300.0,227.5 L300.3,227.5 L300.5,227.5 L300.7,227.5 L301.0,227.5 L301.2,227.5 L301.5,227.5 L301.7,227.5 L301.9,227.5 L302.2,227.5 L302.4,227.5 L302.6,227.5 L302.9,227.5 L303.1,227.5 L303.4,227.5 L303.6,227.5 L303.8,227.5 L304.1,227.5 L304.3,227.5 L304.5,227.5 L304.8,227.5 L305.0,227.5 L305.3,227.5 L305.5,227.5 L305.7,227.5 L306.0,227.5 L306.2,227.5 L306.5,227.5 L306.7,227.5 L306.9,227.5 L307.2,227.5 L307.4,227.5 L307.6,227.5 L307.9,227.5 L308.1,227.5 L308.4,227.5 L308.6,227.5 L308.8,227.5 L309.1,227.5 L309.3,227.5 L309.5,227.5 L309.8,227.5 L310.0,227.5 L310.3,227.5 L310.5,227.5 L310.7,227.5 L311.0,227.5 L311.2,227.5 L311.5,227.5 L311.7,227.5 L311.9,227.5 L312.2,227.5 L312.4,227.5 L312.6,227.5 L312.9,227.5 L313.1,227.5 L313.4,227.5 L313.6,227.5 L313.8,227.5 L314.1,227.5 L314.3,227.5 L314.5,227.5 L314.8,227.5 L315.0,227.5 L315.3,227.5 L315.5,227.5 L315.7,227.5 L316.0,227.5 L316.2,227.5 L316.5,227.5 L316.7,227.5 L316.9,227.5 L317.2,227.5 L317.4,227.5 L317.6,227.5 L317.9,227.5 L318.1,227.5 L318.4,227.5 L318.6,227.5 L318.8,227.5 L319.1,227.5 L319.3,227.5 L319.5,227.5 L319.8,227.5 L320.0,227.5 L320.3,227.5 L320.5,227.5 L320.7,227.5 L321.0,227.5 L321.2,227.5 L321.5,227.5 L321.7,227.5 L321.9,227.5 L322.2,227.5 L322.4,227.5 L322.6,227.5 L322.9,227.5 L323.1,227.5 L323.4,227.5 L323.6,227.5 L323.8,227.5 L324.1,227.5 L324.3,227.5 L324.5,227.5 L324.8,227.5 L325.0,227.5 L325.3,227.5 L325.5,227.5 L325.7,227.5 L326.0,227.5 L326.2,227.5 L326.5,227.5 L326.7,227.5 L326.9,227.5 L327.2,227.5 L327.4,227.5 L327.6,227.5 L327.9,227.5 L328.1,227.5 L328.4,227.5 L328.6,227.5 L328.8,227.5 L329.1,227.5 L329.3,227.5 L329.5,227.5 L329.8,227.5 L330.0,227.5 L330.3,227.5 L330.5,227.5 L330.7,227.5 L331.0,227.5 L331.2,227.5 L331.5,227.5 L331.7,227.5 L331.9,227.5 L332.2,227.5 L332.4,227.5 L332.6,227.5 L332.9,227.5 L333.1,227.5 L333.4,227.5 L333.6,227.5 L333.8,227.5 L334.1,227.5 L334.3,227.5 L334.5,227.5 L334.8,227.5 L335.0,227.5 L335.3,227.5 L335.5,227.5 L335.7,227.5 L336.0,227.5 L336.2,227.5 L336.5,227.5 L336.7,227.5 L336.9,227.5 L337.2,227.5 L337.4,227.5 L337.6,227.5 L337.9,227.5 L338.1,227.5 L338.4,227.5 L338.6,227.5 L338.8,227.5 L339.1,227.5 L339.3,227.5 L339.5,227.5 L339.8,227.5 L340.0,227.5 L340.3,227.5 L340.5,227.5 L340.5,227.5 Z" fill="rgba(255,47,134,0.22)" stroke="none"/>
<path d="M178.6,227.5 178.8,227.5 179.1,227.5 179.3,227.5 179.6,227.5 179.8,227.5 180.0,227.5 180.3,227.5 180.5,227.5 180.7,227.5 181.0,227.5 181.2,227.5 181.5,227.5 181.7,227.5 181.9,227.5 182.2,227.5 182.4,227.5 182.6,227.5 182.9,227.5 183.1,227.5 183.4,227.5 183.6,227.5 183.8,227.5 184.1,227.4 184.3,227.4 184.6,227.3 184.8,227.2 185.0,227.0 185.3,226.8 185.5,226.5 185.7,226.0 186.0,225.3 186.2,224.5 186.5,223.5 186.7,222.3 186.9,220.6 187.2,215.7 187.4,196.7 187.6,156.4 187.9,130.1 188.1,153.6 188.4,191.3 188.6,208.0 188.8,211.2 189.1,211.7 189.3,212.4 189.6,213.4 189.8,214.7 190.0,216.2 190.3,217.8 190.5,219.4 190.7,220.9 191.0,222.3 191.2,223.5 191.5,224.5 191.7,225.2 191.9,225.3 192.2,224.0 192.4,220.2 192.6,215.2 192.9,212.8 193.1,215.5 193.4,220.8 193.6,225.0 193.8,226.8 194.1,227.4 194.3,227.5 194.6,227.5 194.8,227.5 195.0,227.5 195.3,227.5 195.5,227.5 195.7,227.5 196.0,227.5 196.2,227.5 196.5,227.5 196.7,227.5 196.9,227.5 197.2,227.5 197.4,227.5 197.6,227.5 197.9,227.5 198.1,227.5 198.4,227.5 198.6,227.5 198.8,227.5 199.1,227.5 199.3,227.5 199.6,227.5 199.8,227.5 200.0,227.5 200.3,227.5 200.5,227.5 200.7,227.5 201.0,227.5 201.2,227.5 201.5,227.5 201.7,227.5 201.9,227.5 202.2,227.5 202.4,227.5 202.6,227.5 202.9,227.5 203.1,227.5 203.4,227.3 203.6,226.5 203.8,223.9 204.1,219.8 204.3,217.6 204.6,219.8 204.8,223.9 205.0,226.5 205.3,227.3 205.5,227.5 205.7,227.5 206.0,227.5 206.2,227.5 206.5,227.5 206.7,227.5 206.9,227.5 207.2,227.5 207.4,227.5 207.6,227.5 207.9,227.5 208.1,227.5 208.4,227.5 208.6,227.5 208.8,227.5 209.1,227.5 209.3,227.5 209.6,227.5 209.8,227.5 210.0,227.5 210.3,227.5 210.5,227.5 210.7,227.5 211.0,227.5 211.2,227.5 211.5,227.5 211.7,227.5 211.9,227.5 212.2,227.5 212.4,227.5 212.6,227.5 212.9,227.5 213.1,227.5 213.4,227.5 213.6,227.5 213.8,227.5 214.1,227.5 214.3,227.5 214.6,227.5 214.8,227.5 215.0,227.5 215.3,227.5 215.5,227.5 215.7,227.5 216.0,227.5 216.2,227.5 216.5,227.5 216.7,227.5 216.9,227.5 217.2,227.5 217.4,227.5 217.6,227.5 217.9,227.5 218.1,227.5 218.4,227.5 218.6,227.5 218.8,227.5 219.1,227.5 219.3,227.5 219.6,227.5 219.8,227.5 220.0,227.5 220.3,227.5 220.5,227.5 220.7,227.5 221.0,227.5 221.2,227.5 221.5,227.5 221.7,227.5 221.9,227.5 222.2,227.5 222.4,227.5 222.6,227.5 222.9,227.5 223.1,227.5 223.4,227.5 223.6,227.5 223.8,227.5 224.1,227.5 224.3,227.5 224.6,227.4 224.8,227.4 225.0,227.4 225.3,227.3 225.5,227.3 225.7,227.2 226.0,227.2 226.2,227.1 226.5,227.0 226.7,226.9 226.9,226.8 227.2,226.6 227.4,226.5 227.6,226.3 227.9,226.2 228.1,226.1 228.4,225.9 228.6,225.8 228.8,225.7 229.1,225.6 229.3,225.6 229.6,225.6 229.8,225.6 230.0,225.6 230.3,225.7 230.5,225.8 230.7,225.9 231.0,226.1 231.2,226.2 231.5,226.3 231.7,226.5 231.9,226.6 232.2,226.8 232.4,226.9 232.6,227.0 232.9,227.1 233.1,227.2 233.4,227.2 233.6,227.3 233.8,227.3 234.1,227.4 234.3,227.4 234.6,227.4 234.8,227.5 235.0,227.5 235.3,227.5 235.5,227.5 235.7,227.5 236.0,227.5 236.2,227.5 236.5,227.5 236.7,227.5 236.9,227.5 237.2,227.5 237.4,227.5 237.6,227.5 237.9,227.5 238.1,227.5 238.4,227.5 238.6,227.5 238.8,227.5 239.1,227.5 239.3,227.5 239.6,227.5 239.8,227.5 240.0,227.5 240.3,227.5 240.5,227.5 240.7,227.5 241.0,227.5 241.2,227.5 241.5,227.5 241.7,227.5 241.9,227.5 242.2,227.5 242.4,227.5 242.6,227.5 242.9,227.5 243.1,227.5 243.4,227.5 243.6,227.5 243.8,227.5 244.1,227.5 244.3,227.5 244.6,227.5 244.8,227.4 245.0,227.4 245.3,227.4 245.5,227.3 245.7,227.2 246.0,227.1 246.2,226.9 246.5,226.8 246.7,226.6 246.9,226.4 247.2,226.1 247.4,225.9 247.6,225.7 247.9,225.5 248.1,225.4 248.4,225.3 248.6,225.3 248.8,225.3 249.1,225.4 249.3,225.5 249.6,225.7 249.8,225.9 250.0,226.1 250.3,226.4 250.5,226.6 250.7,226.8 251.0,226.9 251.2,227.1 251.5,227.2 251.7,227.3 251.9,227.4 252.2,227.4 252.4,227.4 252.6,227.5 252.9,227.5 253.1,227.5 253.4,227.5 253.6,227.5 253.8,227.5 254.1,227.5 254.3,227.5 254.6,227.5 254.8,227.5 255.0,227.5 255.3,227.5 255.5,227.5 255.7,227.5 256.0,227.5 256.2,227.5 256.5,227.5 256.7,227.5 256.9,227.5 257.2,227.5 257.4,227.5 257.6,227.5 257.9,227.5 258.1,227.5 258.4,227.5 258.6,227.5 258.8,227.5 259.1,227.5 259.3,227.5 259.6,227.5 259.8,227.5 260.0,227.5 260.3,227.5 260.5,227.5 260.7,227.5 261.0,227.5 261.2,227.5 261.5,227.5 261.7,227.5 261.9,227.5 262.2,227.5 262.4,227.5 262.6,227.5 262.9,227.5 263.1,227.5 263.4,227.5 263.6,227.5 263.8,227.5 264.1,227.5 264.3,227.5 264.5,227.5 264.8,227.5 265.0,227.5 265.3,227.5 265.5,227.5 265.7,227.5 266.0,227.5 266.2,227.5 266.5,227.5 266.7,227.5 266.9,227.5 267.2,227.5 267.4,227.5 267.6,227.5 267.9,227.5 268.1,227.5 268.4,227.5 268.6,227.5 268.8,227.5 269.1,227.5 269.3,227.5 269.5,227.5 269.8,227.5 270.0,227.5 270.3,227.5 270.5,227.5 270.7,227.5 271.0,227.5 271.2,227.5 271.5,227.5 271.7,227.5 271.9,227.5 272.2,227.5 272.4,227.5 272.6,227.5 272.9,227.5 273.1,227.5 273.4,227.5 273.6,227.5 273.8,227.5 274.1,227.5 274.3,227.5 274.5,227.5 274.8,227.5 275.0,227.5 275.3,227.5 275.5,227.5 275.7,227.5 276.0,227.5 276.2,227.5 276.5,227.5 276.7,227.5 276.9,227.5 277.2,227.5 277.4,227.5 277.6,227.5 277.9,227.5 278.1,227.5 278.4,227.5 278.6,227.5 278.8,227.5 279.1,227.5 279.3,227.5 279.5,227.5 279.8,227.5 280.0,227.5 280.3,227.5 280.5,227.5 280.7,227.5 281.0,227.5 281.2,227.5 281.5,227.5 281.7,227.5 281.9,227.5 282.2,227.5 282.4,227.5 282.6,227.5 282.9,227.5 283.1,227.5 283.4,227.5 283.6,227.5 283.8,227.5 284.1,227.5 284.3,227.5 284.5,227.5 284.8,227.5 285.0,227.5 285.3,227.5 285.5,227.5 285.7,227.5 286.0,227.5 286.2,227.5 286.5,227.5 286.7,227.5 286.9,227.5 287.2,227.5 287.4,227.5 287.6,227.5 287.9,227.5 288.1,227.5 288.4,227.5 288.6,227.5 288.8,227.5 289.1,227.5 289.3,227.5 289.5,227.5 289.8,227.5 290.0,227.5 290.3,227.5 290.5,227.5 290.7,227.5 291.0,227.5 291.2,227.5 291.5,227.5 291.7,227.5 291.9,227.5 292.2,227.5 292.4,227.5 292.6,227.5 292.9,227.5 293.1,227.5 293.4,227.5 293.6,227.5 293.8,227.5 294.1,227.5 294.3,227.5 294.5,227.5 294.8,227.5 295.0,227.5 295.3,227.5 295.5,227.5 295.7,227.5 296.0,227.5 296.2,227.5 296.5,227.5 296.7,227.5 296.9,227.5 297.2,227.5 297.4,227.5 297.6,227.5 297.9,227.5 298.1,227.5 298.4,227.5 298.6,227.5 298.8,227.5 299.1,227.5 299.3,227.5 299.5,227.5 299.8,227.5 300.0,227.5 300.3,227.5 300.5,227.5 300.7,227.5 301.0,227.5 301.2,227.5 301.5,227.5 301.7,227.5 301.9,227.5 302.2,227.5 302.4,227.5 302.6,227.5 302.9,227.5 303.1,227.5 303.4,227.5 303.6,227.5 303.8,227.5 304.1,227.5 304.3,227.5 304.5,227.5 304.8,227.5 305.0,227.5 305.3,227.5 305.5,227.5 305.7,227.5 306.0,227.5 306.2,227.5 306.5,227.5 306.7,227.5 306.9,227.5 307.2,227.5 307.4,227.5 307.6,227.5 307.9,227.5 308.1,227.5 308.4,227.5 308.6,227.5 308.8,227.5 309.1,227.5 309.3,227.5 309.5,227.5 309.8,227.5 310.0,227.5 310.3,227.5 310.5,227.5 310.7,227.5 311.0,227.5 311.2,227.5 311.5,227.5 311.7,227.5 311.9,227.5 312.2,227.5 312.4,227.5 312.6,227.5 312.9,227.5 313.1,227.5 313.4,227.5 313.6,227.5 313.8,227.5 314.1,227.5 314.3,227.5 314.5,227.5 314.8,227.5 315.0,227.5 315.3,227.5 315.5,227.5 315.7,227.5 316.0,227.5 316.2,227.5 316.5,227.5 316.7,227.5 316.9,227.5 317.2,227.5 317.4,227.5 317.6,227.5 317.9,227.5 318.1,227.5 318.4,227.5 318.6,227.5 318.8,227.5 319.1,227.5 319.3,227.5 319.5,227.5 319.8,227.5 320.0,227.5 320.3,227.5 320.5,227.5 320.7,227.5 321.0,227.5 321.2,227.5 321.5,227.5 321.7,227.5 321.9,227.5 322.2,227.5 322.4,227.5 322.6,227.5 322.9,227.5 323.1,227.5 323.4,227.5 323.6,227.5 323.8,227.5 324.1,227.5 324.3,227.5 324.5,227.5 324.8,227.5 325.0,227.5 325.3,227.5 325.5,227.5 325.7,227.5 326.0,227.5 326.2,227.5 326.5,227.5 326.7,227.5 326.9,227.5 327.2,227.5 327.4,227.5 327.6,227.5 327.9,227.5 328.1,227.5 328.4,227.5 328.6,227.5 328.8,227.5 329.1,227.5 329.3,227.5 329.5,227.5 329.8,227.5 330.0,227.5 330.3,227.5 330.5,227.5 330.7,227.5 331.0,227.5 331.2,227.5 331.5,227.5 331.7,227.5 331.9,227.5 332.2,227.5 332.4,227.5 332.6,227.5 332.9,227.5 333.1,227.5 333.4,227.5 333.6,227.5 333.8,227.5 334.1,227.5 334.3,227.5 334.5,227.5 334.8,227.5 335.0,227.5 335.3,227.5 335.5,227.5 335.7,227.5 336.0,227.5 336.2,227.5 336.5,227.5 336.7,227.5 336.9,227.5 337.2,227.5 337.4,227.5 337.6,227.5 337.9,227.5 338.1,227.5 338.4,227.5 338.6,227.5 338.8,227.5 339.1,227.5 339.3,227.5 339.5,227.5 339.8,227.5 340.0,227.5 340.3,227.5 340.5,227.5" stroke="#ff2f86" stroke-width="0.8" fill="none" stroke-linejoin="round" />
</g>
<text transform="translate(189.50 130.85) scale(1.1 1)" font-size="4.82" fill="#ff2f86" text-anchor="start" >400</text>
<text transform="translate(192.00 208.85) scale(1.1 1)" font-size="4.82" fill="#ff2f86" text-anchor="start" >500</text>
<text transform="translate(205.00 217.35) scale(1.1 1)" font-size="4.82" fill="#ff2f86" text-anchor="start" >740</text>
<text transform="translate(226.50 223.15) scale(1.1 1)" font-size="4.82" fill="#ff2f86" text-anchor="start" >1270</text>
<text transform="translate(245.00 223.15) scale(1.1 1)" font-size="4.82" fill="#ff2f86" text-anchor="start" >1670</text>
<rect x="178.60" y="122.40" width="161.90" height="105.10" fill="none" stroke="#5a5a5a" stroke-width="0.9" />
<line x1="178.60" y1="227.50" x2="180.90" y2="227.50" stroke="#5a5a5a" stroke-width="0.7" />
<text transform="translate(176.10 229.60) scale(1.1 1)" font-size="5.09" fill="#2a2a2a" text-anchor="end" >0</text>
<line x1="178.60" y1="211.53" x2="180.90" y2="211.53" stroke="#5a5a5a" stroke-width="0.7" />
<text transform="translate(176.10 213.63) scale(1.1 1)" font-size="5.09" fill="#2a2a2a" text-anchor="end" >5</text>
<line x1="178.60" y1="195.55" x2="180.90" y2="195.55" stroke="#5a5a5a" stroke-width="0.7" />
<text transform="translate(176.10 197.65) scale(1.1 1)" font-size="5.09" fill="#2a2a2a" text-anchor="end" >10</text>
<line x1="178.60" y1="179.58" x2="180.90" y2="179.58" stroke="#5a5a5a" stroke-width="0.7" />
<text transform="translate(176.10 181.68) scale(1.1 1)" font-size="5.09" fill="#2a2a2a" text-anchor="end" >15</text>
<line x1="178.60" y1="163.61" x2="180.90" y2="163.61" stroke="#5a5a5a" stroke-width="0.7" />
<text transform="translate(176.10 165.71) scale(1.1 1)" font-size="5.09" fill="#2a2a2a" text-anchor="end" >20</text>
<line x1="178.60" y1="147.64" x2="180.90" y2="147.64" stroke="#5a5a5a" stroke-width="0.7" />
<text transform="translate(176.10 149.74) scale(1.1 1)" font-size="5.09" fill="#2a2a2a" text-anchor="end" >25</text>
<line x1="178.60" y1="131.66" x2="180.90" y2="131.66" stroke="#5a5a5a" stroke-width="0.7" />
<text transform="translate(176.10 133.76) scale(1.1 1)" font-size="5.09" fill="#2a2a2a" text-anchor="end" >30</text>
<line x1="178.60" y1="227.50" x2="178.60" y2="229.70" stroke="#5a5a5a" stroke-width="0.55" />
<line x1="183.36" y1="227.50" x2="183.36" y2="228.90" stroke="#5a5a5a" stroke-width="0.55" />
<line x1="188.12" y1="227.50" x2="188.12" y2="229.70" stroke="#5a5a5a" stroke-width="0.55" />
<line x1="192.89" y1="227.50" x2="192.89" y2="228.90" stroke="#5a5a5a" stroke-width="0.55" />
<line x1="197.65" y1="227.50" x2="197.65" y2="229.70" stroke="#5a5a5a" stroke-width="0.55" />
<line x1="202.41" y1="227.50" x2="202.41" y2="228.90" stroke="#5a5a5a" stroke-width="0.55" />
<line x1="207.17" y1="227.50" x2="207.17" y2="229.70" stroke="#5a5a5a" stroke-width="0.55" />
<line x1="211.93" y1="227.50" x2="211.93" y2="228.90" stroke="#5a5a5a" stroke-width="0.55" />
<line x1="216.69" y1="227.50" x2="216.69" y2="229.70" stroke="#5a5a5a" stroke-width="0.55" />
<line x1="221.46" y1="227.50" x2="221.46" y2="228.90" stroke="#5a5a5a" stroke-width="0.55" />
<line x1="226.22" y1="227.50" x2="226.22" y2="229.70" stroke="#5a5a5a" stroke-width="0.55" />
<line x1="230.98" y1="227.50" x2="230.98" y2="228.90" stroke="#5a5a5a" stroke-width="0.55" />
<line x1="235.74" y1="227.50" x2="235.74" y2="229.70" stroke="#5a5a5a" stroke-width="0.55" />
<line x1="240.50" y1="227.50" x2="240.50" y2="228.90" stroke="#5a5a5a" stroke-width="0.55" />
<line x1="245.26" y1="227.50" x2="245.26" y2="229.70" stroke="#5a5a5a" stroke-width="0.55" />
<line x1="250.03" y1="227.50" x2="250.03" y2="228.90" stroke="#5a5a5a" stroke-width="0.55" />
<line x1="254.79" y1="227.50" x2="254.79" y2="229.70" stroke="#5a5a5a" stroke-width="0.55" />
<line x1="259.55" y1="227.50" x2="259.55" y2="228.90" stroke="#5a5a5a" stroke-width="0.55" />
<line x1="264.31" y1="227.50" x2="264.31" y2="229.70" stroke="#5a5a5a" stroke-width="0.55" />
<line x1="269.07" y1="227.50" x2="269.07" y2="228.90" stroke="#5a5a5a" stroke-width="0.55" />
<line x1="273.84" y1="227.50" x2="273.84" y2="229.70" stroke="#5a5a5a" stroke-width="0.55" />
<line x1="278.60" y1="227.50" x2="278.60" y2="228.90" stroke="#5a5a5a" stroke-width="0.55" />
<line x1="283.36" y1="227.50" x2="283.36" y2="229.70" stroke="#5a5a5a" stroke-width="0.55" />
<line x1="288.12" y1="227.50" x2="288.12" y2="228.90" stroke="#5a5a5a" stroke-width="0.55" />
<line x1="292.88" y1="227.50" x2="292.88" y2="229.70" stroke="#5a5a5a" stroke-width="0.55" />
<line x1="297.64" y1="227.50" x2="297.64" y2="228.90" stroke="#5a5a5a" stroke-width="0.55" />
<line x1="302.41" y1="227.50" x2="302.41" y2="229.70" stroke="#5a5a5a" stroke-width="0.55" />
<line x1="307.17" y1="227.50" x2="307.17" y2="228.90" stroke="#5a5a5a" stroke-width="0.55" />
<line x1="311.93" y1="227.50" x2="311.93" y2="229.70" stroke="#5a5a5a" stroke-width="0.55" />
<line x1="316.69" y1="227.50" x2="316.69" y2="228.90" stroke="#5a5a5a" stroke-width="0.55" />
<line x1="321.45" y1="227.50" x2="321.45" y2="229.70" stroke="#5a5a5a" stroke-width="0.55" />
<line x1="326.21" y1="227.50" x2="326.21" y2="228.90" stroke="#5a5a5a" stroke-width="0.55" />
<line x1="330.98" y1="227.50" x2="330.98" y2="229.70" stroke="#5a5a5a" stroke-width="0.55" />
<line x1="335.74" y1="227.50" x2="335.74" y2="228.90" stroke="#5a5a5a" stroke-width="0.55" />
<line x1="340.50" y1="227.50" x2="340.50" y2="229.70" stroke="#5a5a5a" stroke-width="0.55" />
<text transform="translate(178.60 235.10) scale(1.1 1)" font-size="5.00" fill="#2a2a2a" text-anchor="middle" >200</text>
<text transform="translate(197.65 235.10) scale(1.1 1)" font-size="5.00" fill="#2a2a2a" text-anchor="middle" >600</text>
<text transform="translate(216.69 235.10) scale(1.1 1)" font-size="5.00" fill="#2a2a2a" text-anchor="middle" >1000</text>
<text transform="translate(235.74 235.10) scale(1.1 1)" font-size="5.00" fill="#2a2a2a" text-anchor="middle" >1400</text>
<text transform="translate(254.79 235.10) scale(1.1 1)" font-size="5.00" fill="#2a2a2a" text-anchor="middle" >1800</text>
<text transform="translate(273.84 235.10) scale(1.1 1)" font-size="5.00" fill="#2a2a2a" text-anchor="middle" >2200</text>
<text transform="translate(292.88 235.10) scale(1.1 1)" font-size="5.00" fill="#2a2a2a" text-anchor="middle" >2600</text>
<text transform="translate(311.93 235.10) scale(1.1 1)" font-size="5.00" fill="#2a2a2a" text-anchor="middle" >3000</text>
<text transform="translate(330.98 235.10) scale(1.1 1)" font-size="5.00" fill="#2a2a2a" text-anchor="middle" >3400</text>
<text transform="translate(255.35 241.00) scale(1.1 1)" font-size="5.09" fill="#222" text-anchor="middle" >Age (Ma)</text>
<text x="164.90" y="175.90" font-size="5.8" fill="#222" text-anchor="middle" transform="rotate(-90 164.90 175.90)" >Number</text>
<text transform="translate(259.20 138.50) scale(1.1 1)" font-size="6.32" fill="#1a1a1a" text-anchor="start" >Junggar block</text>
<text transform="translate(259.20 152.60) scale(1.1 1)" font-size="6.32" fill="#1a1a1a" text-anchor="start" >KM-5, C<tspan font-size="60%" dy="0.35">1</tspan><tspan dy="-0.35" font-style="italic">f</tspan> sandstone</text>
<text transform="translate(259.20 159.80) scale(1.1 1)" font-size="6.32" fill="#1a1a1a" text-anchor="start" >n=52 (this study)</text>
<defs><clipPath id="h3"><rect x="178.5" y="238.4" width="162.00" height="110.40"/></clipPath></defs>
<rect x="185.41" y="244.40" width="10.01" height="104.90" fill="#fffcc6" stroke="none" stroke-width="0.8" />
<rect x="205.42" y="244.40" width="11.20" height="104.90" fill="#e0fdfd" stroke="none" stroke-width="0.8" />
<rect x="230.91" y="244.40" width="14.29" height="104.90" fill="#e2fce2" stroke="none" stroke-width="0.8" />
<rect x="265.22" y="244.40" width="3.81" height="104.90" fill="#f0f0f0" stroke="none" stroke-width="0.8" />
<rect x="294.28" y="244.40" width="4.53" height="104.90" fill="#f0f0f0" stroke="none" stroke-width="0.8" />
<g clip-path="url(#h3)">
<path d="M178.5,349.3 184.7,349.3 185.4,347.2 185.7,332.5 186.0,286.4 186.3,240.2 186.6,286.4 186.8,313.6 187.3,319.3 188.1,321.6 188.6,327.3 189.0,322.4 189.6,331.5 190.0,324.1 190.5,326.6 191.0,335.7 191.6,324.1 191.9,321.0 192.3,332.7 192.8,337.8 193.4,324.3 193.7,334.6 194.2,342.6 194.7,341.7 195.2,346.4 195.9,347.6 197.6,348.9 202.3,349.1 205.7,348.7 207.3,346.2 208.5,348.3 210.4,347.2 212.3,342.0 214.2,346.8 215.7,349.1 230.4,349.1 231.9,347.8 233.3,349.1 236.6,349.1 238.1,347.4 240.0,349.1 264.7,349.1 266.2,348.3 267.6,349.1 295.2,349.1 296.7,348.3 298.1,349.1 340.5,349.3" stroke="#111" stroke-width="0.9" fill="none" stroke-linejoin="round" />
</g>
<text transform="translate(187.70 243.65) scale(1.1 1)" font-size="4.82" fill="#ff2f86" text-anchor="start" >370</text>
<text transform="translate(189.60 319.15) scale(1.1 1)" font-size="4.82" fill="#ff2f86" text-anchor="start" >475</text>
<text transform="translate(194.80 326.45) scale(1.1 1)" font-size="4.82" fill="#ff2f86" text-anchor="start" >514</text>
<text transform="translate(199.30 344.85) scale(1.1 1)" font-size="4.82" fill="#ff2f86" text-anchor="start" >810</text>
<text transform="translate(209.60 340.65) scale(1.1 1)" font-size="4.82" fill="#ff2f86" text-anchor="start" >910</text>
<text transform="translate(221.20 346.25) scale(1.1 1)" font-size="4.82" fill="#ff2f86" text-anchor="start" >1320</text>
<text transform="translate(233.80 345.85) scale(1.1 1)" font-size="4.82" fill="#ff2f86" text-anchor="start" >1450</text>
<text transform="translate(259.30 346.85) scale(1.1 1)" font-size="4.82" fill="#ff2f86" text-anchor="start" >2040</text>
<text transform="translate(290.00 346.85) scale(1.1 1)" font-size="4.82" fill="#ff2f86" text-anchor="start" >2680</text>
<rect x="178.50" y="244.40" width="162.00" height="104.90" fill="none" stroke="#5a5a5a" stroke-width="0.9" />
<line x1="178.50" y1="349.30" x2="180.80" y2="349.30" stroke="#5a5a5a" stroke-width="0.7" />
<text transform="translate(176.00 351.40) scale(1.1 1)" font-size="5.09" fill="#2a2a2a" text-anchor="end" >0</text>
<line x1="178.50" y1="338.81" x2="180.80" y2="338.81" stroke="#5a5a5a" stroke-width="0.7" />
<text transform="translate(176.00 340.91) scale(1.1 1)" font-size="5.09" fill="#2a2a2a" text-anchor="end" >5</text>
<line x1="178.50" y1="328.32" x2="180.80" y2="328.32" stroke="#5a5a5a" stroke-width="0.7" />
<text transform="translate(176.00 330.42) scale(1.1 1)" font-size="5.09" fill="#2a2a2a" text-anchor="end" >10</text>
<line x1="178.50" y1="317.83" x2="180.80" y2="317.83" stroke="#5a5a5a" stroke-width="0.7" />
<text transform="translate(176.00 319.93) scale(1.1 1)" font-size="5.09" fill="#2a2a2a" text-anchor="end" >15</text>
<line x1="178.50" y1="307.34" x2="180.80" y2="307.34" stroke="#5a5a5a" stroke-width="0.7" />
<text transform="translate(176.00 309.44) scale(1.1 1)" font-size="5.09" fill="#2a2a2a" text-anchor="end" >20</text>
<line x1="178.50" y1="296.85" x2="180.80" y2="296.85" stroke="#5a5a5a" stroke-width="0.7" />
<text transform="translate(176.00 298.95) scale(1.1 1)" font-size="5.09" fill="#2a2a2a" text-anchor="end" >25</text>
<line x1="178.50" y1="286.36" x2="180.80" y2="286.36" stroke="#5a5a5a" stroke-width="0.7" />
<text transform="translate(176.00 288.46) scale(1.1 1)" font-size="5.09" fill="#2a2a2a" text-anchor="end" >30</text>
<line x1="178.50" y1="275.87" x2="180.80" y2="275.87" stroke="#5a5a5a" stroke-width="0.7" />
<text transform="translate(176.00 277.97) scale(1.1 1)" font-size="5.09" fill="#2a2a2a" text-anchor="end" >35</text>
<line x1="178.50" y1="265.38" x2="180.80" y2="265.38" stroke="#5a5a5a" stroke-width="0.7" />
<text transform="translate(176.00 267.48) scale(1.1 1)" font-size="5.09" fill="#2a2a2a" text-anchor="end" >40</text>
<line x1="178.50" y1="254.89" x2="180.80" y2="254.89" stroke="#5a5a5a" stroke-width="0.7" />
<text transform="translate(176.00 256.99) scale(1.1 1)" font-size="5.09" fill="#2a2a2a" text-anchor="end" >45</text>
<line x1="178.50" y1="349.30" x2="178.50" y2="351.50" stroke="#5a5a5a" stroke-width="0.55" />
<line x1="183.26" y1="349.30" x2="183.26" y2="350.70" stroke="#5a5a5a" stroke-width="0.55" />
<line x1="188.03" y1="349.30" x2="188.03" y2="351.50" stroke="#5a5a5a" stroke-width="0.55" />
<line x1="192.79" y1="349.30" x2="192.79" y2="350.70" stroke="#5a5a5a" stroke-width="0.55" />
<line x1="197.56" y1="349.30" x2="197.56" y2="351.50" stroke="#5a5a5a" stroke-width="0.55" />
<line x1="202.32" y1="349.30" x2="202.32" y2="350.70" stroke="#5a5a5a" stroke-width="0.55" />
<line x1="207.09" y1="349.30" x2="207.09" y2="351.50" stroke="#5a5a5a" stroke-width="0.55" />
<line x1="211.85" y1="349.30" x2="211.85" y2="350.70" stroke="#5a5a5a" stroke-width="0.55" />
<line x1="216.62" y1="349.30" x2="216.62" y2="351.50" stroke="#5a5a5a" stroke-width="0.55" />
<line x1="221.38" y1="349.30" x2="221.38" y2="350.70" stroke="#5a5a5a" stroke-width="0.55" />
<line x1="226.15" y1="349.30" x2="226.15" y2="351.50" stroke="#5a5a5a" stroke-width="0.55" />
<line x1="230.91" y1="349.30" x2="230.91" y2="350.70" stroke="#5a5a5a" stroke-width="0.55" />
<line x1="235.68" y1="349.30" x2="235.68" y2="351.50" stroke="#5a5a5a" stroke-width="0.55" />
<line x1="240.44" y1="349.30" x2="240.44" y2="350.70" stroke="#5a5a5a" stroke-width="0.55" />
<line x1="245.21" y1="349.30" x2="245.21" y2="351.50" stroke="#5a5a5a" stroke-width="0.55" />
<line x1="249.97" y1="349.30" x2="249.97" y2="350.70" stroke="#5a5a5a" stroke-width="0.55" />
<line x1="254.74" y1="349.30" x2="254.74" y2="351.50" stroke="#5a5a5a" stroke-width="0.55" />
<line x1="259.50" y1="349.30" x2="259.50" y2="350.70" stroke="#5a5a5a" stroke-width="0.55" />
<line x1="264.26" y1="349.30" x2="264.26" y2="351.50" stroke="#5a5a5a" stroke-width="0.55" />
<line x1="269.03" y1="349.30" x2="269.03" y2="350.70" stroke="#5a5a5a" stroke-width="0.55" />
<line x1="273.79" y1="349.30" x2="273.79" y2="351.50" stroke="#5a5a5a" stroke-width="0.55" />
<line x1="278.56" y1="349.30" x2="278.56" y2="350.70" stroke="#5a5a5a" stroke-width="0.55" />
<line x1="283.32" y1="349.30" x2="283.32" y2="351.50" stroke="#5a5a5a" stroke-width="0.55" />
<line x1="288.09" y1="349.30" x2="288.09" y2="350.70" stroke="#5a5a5a" stroke-width="0.55" />
<line x1="292.85" y1="349.30" x2="292.85" y2="351.50" stroke="#5a5a5a" stroke-width="0.55" />
<line x1="297.62" y1="349.30" x2="297.62" y2="350.70" stroke="#5a5a5a" stroke-width="0.55" />
<line x1="302.38" y1="349.30" x2="302.38" y2="351.50" stroke="#5a5a5a" stroke-width="0.55" />
<line x1="307.15" y1="349.30" x2="307.15" y2="350.70" stroke="#5a5a5a" stroke-width="0.55" />
<line x1="311.91" y1="349.30" x2="311.91" y2="351.50" stroke="#5a5a5a" stroke-width="0.55" />
<line x1="316.68" y1="349.30" x2="316.68" y2="350.70" stroke="#5a5a5a" stroke-width="0.55" />
<line x1="321.44" y1="349.30" x2="321.44" y2="351.50" stroke="#5a5a5a" stroke-width="0.55" />
<line x1="326.21" y1="349.30" x2="326.21" y2="350.70" stroke="#5a5a5a" stroke-width="0.55" />
<line x1="330.97" y1="349.30" x2="330.97" y2="351.50" stroke="#5a5a5a" stroke-width="0.55" />
<line x1="335.74" y1="349.30" x2="335.74" y2="350.70" stroke="#5a5a5a" stroke-width="0.55" />
<line x1="340.50" y1="349.30" x2="340.50" y2="351.50" stroke="#5a5a5a" stroke-width="0.55" />
<text transform="translate(178.50 356.90) scale(1.1 1)" font-size="5.00" fill="#2a2a2a" text-anchor="middle" >200</text>
<text transform="translate(197.56 356.90) scale(1.1 1)" font-size="5.00" fill="#2a2a2a" text-anchor="middle" >600</text>
<text transform="translate(216.62 356.90) scale(1.1 1)" font-size="5.00" fill="#2a2a2a" text-anchor="middle" >1000</text>
<text transform="translate(235.68 356.90) scale(1.1 1)" font-size="5.00" fill="#2a2a2a" text-anchor="middle" >1400</text>
<text transform="translate(254.74 356.90) scale(1.1 1)" font-size="5.00" fill="#2a2a2a" text-anchor="middle" >1800</text>
<text transform="translate(273.79 356.90) scale(1.1 1)" font-size="5.00" fill="#2a2a2a" text-anchor="middle" >2200</text>
<text transform="translate(292.85 356.90) scale(1.1 1)" font-size="5.00" fill="#2a2a2a" text-anchor="middle" >2600</text>
<text transform="translate(311.91 356.90) scale(1.1 1)" font-size="5.00" fill="#2a2a2a" text-anchor="middle" >3000</text>
<text transform="translate(330.97 356.90) scale(1.1 1)" font-size="5.00" fill="#2a2a2a" text-anchor="middle" >3400</text>
<text transform="translate(255.30 362.80) scale(1.1 1)" font-size="5.09" fill="#222" text-anchor="middle" >Age (Ma)</text>
<text x="164.80" y="292.80" font-size="5.8" fill="#222" text-anchor="middle" transform="rotate(-90 164.80 292.80)" >Number</text>
<text transform="translate(259.20 261.80) scale(1.1 1)" font-size="6.32" fill="#1a1a1a" text-anchor="start" >Junggar block</text>
<text transform="translate(259.20 275.30) scale(1.1 1)" font-size="6.32" fill="#1a1a1a" text-anchor="start" >SJ-1, C<tspan font-size="60%" dy="0.35">1</tspan><tspan dy="-0.35" font-style="italic">d</tspan> sandstone</text>
<text transform="translate(259.20 283.00) scale(1.1 1)" font-size="6.32" fill="#1a1a1a" text-anchor="start" >n=91 (Li et al., 2020)</text>
<defs><clipPath id="h4"><rect x="523.0" y="-5.4" width="161.30" height="111.30"/></clipPath></defs>
<rect x="529.64" y="0.60" width="7.12" height="105.80" fill="#fffcc6" stroke="none" stroke-width="0.8" />
<rect x="546.72" y="0.60" width="13.76" height="105.80" fill="#e0fdfd" stroke="none" stroke-width="0.8" />
<rect x="570.44" y="0.60" width="14.00" height="105.80" fill="#e2fce2" stroke="none" stroke-width="0.8" />
<rect x="598.91" y="0.60" width="13.05" height="105.80" fill="#f0f0f0" stroke="none" stroke-width="0.8" />
<rect x="622.63" y="0.60" width="14.23" height="105.80" fill="#f0f0f0" stroke="none" stroke-width="0.8" />
<rect x="665.32" y="0.60" width="9.96" height="105.80" fill="#f0f0f0" stroke="none" stroke-width="0.8" />
<g clip-path="url(#h4)">
<path d="M523.0,106.4 528.0,106.4 528.5,101.1 529.2,67.0 529.8,19.8 530.2,9.3 530.6,19.8 531.3,59.9 532.0,82.8 533.0,95.9 533.9,102.2 534.7,103.2 535.5,99.8 536.3,104.3 537.2,105.9 545.3,105.6 546.2,103.8 547.7,103.8 548.9,102.5 551.0,95.9 552.8,93.0 553.8,98.5 554.8,103.8 556.0,105.1 557.4,103.5 558.3,103.2 559.5,105.3 561.0,105.6 575.2,105.3 577.0,103.8 578.5,105.6 584.4,105.6 585.9,103.2 587.3,105.6 598.9,105.6 601.8,103.0 603.6,103.5 606.0,104.8 610.8,104.8 613.1,105.6 622.6,105.9 623.7,104.0 624.8,105.9 628.3,105.6 629.5,101.9 630.9,105.3 634.0,105.6 635.2,104.0 636.9,106.1 665.3,106.1 666.5,105.3 667.4,99.6 668.3,105.1 670.1,104.3 671.5,103.2 673.4,99.6 674.8,102.2 676.7,105.3 678.6,106.1 684.3,106.4" stroke="#111" stroke-width="0.85" fill="none" stroke-linejoin="round" />
</g>
<text transform="translate(530.80 9.85) scale(1.1 1)" font-size="4.82" fill="#ff2a2a" text-anchor="start" >350</text>
<text transform="translate(534.80 99.05) scale(1.1 1)" font-size="4.82" fill="#ff2a2a" text-anchor="start" >460</text>
<text transform="translate(548.20 91.65) scale(1.1 1)" font-size="4.82" fill="#ff2a2a" text-anchor="start" >820</text>
<text transform="translate(556.80 100.45) scale(1.1 1)" font-size="4.82" fill="#ff2a2a" text-anchor="start" >930</text>
<text transform="translate(569.00 101.45) scale(1.1 1)" font-size="4.82" fill="#ff2a2a" text-anchor="start" >1330</text>
<text transform="translate(581.60 102.85) scale(1.1 1)" font-size="4.82" fill="#ff2a2a" text-anchor="start" >1520</text>
<text transform="translate(596.90 101.85) scale(1.1 1)" font-size="4.82" fill="#ff2a2a" text-anchor="start" >1890</text>
<text transform="translate(623.30 100.65) scale(1.1 1)" font-size="4.82" fill="#ff2a2a" text-anchor="start" >2460</text>
<text transform="translate(656.70 100.05) scale(1.1 1)" font-size="4.82" fill="#ff2a2a" text-anchor="start" >3240</text>
<text transform="translate(670.80 97.15) scale(1.1 1)" font-size="4.82" fill="#ff2a2a" text-anchor="start" >3360</text>
<rect x="523.00" y="0.60" width="161.30" height="105.80" fill="none" stroke="#5a5a5a" stroke-width="0.9" />
<line x1="523.00" y1="106.40" x2="525.30" y2="106.40" stroke="#5a5a5a" stroke-width="0.7" />
<text transform="translate(520.50 108.50) scale(1.1 1)" font-size="5.09" fill="#2a2a2a" text-anchor="end" >0</text>
<line x1="523.00" y1="80.15" x2="525.30" y2="80.15" stroke="#5a5a5a" stroke-width="0.7" />
<text transform="translate(520.50 82.25) scale(1.1 1)" font-size="5.09" fill="#2a2a2a" text-anchor="end" >10</text>
<line x1="523.00" y1="53.89" x2="525.30" y2="53.89" stroke="#5a5a5a" stroke-width="0.7" />
<text transform="translate(520.50 55.99) scale(1.1 1)" font-size="5.09" fill="#2a2a2a" text-anchor="end" >20</text>
<line x1="523.00" y1="27.64" x2="525.30" y2="27.64" stroke="#5a5a5a" stroke-width="0.7" />
<text transform="translate(520.50 29.74) scale(1.1 1)" font-size="5.09" fill="#2a2a2a" text-anchor="end" >30</text>
<line x1="523.00" y1="1.39" x2="525.30" y2="1.39" stroke="#5a5a5a" stroke-width="0.7" />
<text transform="translate(520.50 3.49) scale(1.1 1)" font-size="5.09" fill="#2a2a2a" text-anchor="end" >40</text>
<line x1="523.00" y1="93.27" x2="524.60" y2="93.27" stroke="#5a5a5a" stroke-width="0.6" />
<line x1="523.00" y1="67.02" x2="524.60" y2="67.02" stroke="#5a5a5a" stroke-width="0.6" />
<line x1="523.00" y1="40.77" x2="524.60" y2="40.77" stroke="#5a5a5a" stroke-width="0.6" />
<line x1="523.00" y1="14.51" x2="524.60" y2="14.51" stroke="#5a5a5a" stroke-width="0.6" />
<line x1="523.00" y1="106.40" x2="523.00" y2="108.60" stroke="#5a5a5a" stroke-width="0.55" />
<line x1="527.74" y1="106.40" x2="527.74" y2="107.80" stroke="#5a5a5a" stroke-width="0.55" />
<line x1="532.49" y1="106.40" x2="532.49" y2="108.60" stroke="#5a5a5a" stroke-width="0.55" />
<line x1="537.23" y1="106.40" x2="537.23" y2="107.80" stroke="#5a5a5a" stroke-width="0.55" />
<line x1="541.98" y1="106.40" x2="541.98" y2="108.60" stroke="#5a5a5a" stroke-width="0.55" />
<line x1="546.72" y1="106.40" x2="546.72" y2="107.80" stroke="#5a5a5a" stroke-width="0.55" />
<line x1="551.46" y1="106.40" x2="551.46" y2="108.60" stroke="#5a5a5a" stroke-width="0.55" />
<line x1="556.21" y1="106.40" x2="556.21" y2="107.80" stroke="#5a5a5a" stroke-width="0.55" />
<line x1="560.95" y1="106.40" x2="560.95" y2="108.60" stroke="#5a5a5a" stroke-width="0.55" />
<line x1="565.70" y1="106.40" x2="565.70" y2="107.80" stroke="#5a5a5a" stroke-width="0.55" />
<line x1="570.44" y1="106.40" x2="570.44" y2="108.60" stroke="#5a5a5a" stroke-width="0.55" />
<line x1="575.19" y1="106.40" x2="575.19" y2="107.80" stroke="#5a5a5a" stroke-width="0.55" />
<line x1="579.93" y1="106.40" x2="579.93" y2="108.60" stroke="#5a5a5a" stroke-width="0.55" />
<line x1="584.67" y1="106.40" x2="584.67" y2="107.80" stroke="#5a5a5a" stroke-width="0.55" />
<line x1="589.42" y1="106.40" x2="589.42" y2="108.60" stroke="#5a5a5a" stroke-width="0.55" />
<line x1="594.16" y1="106.40" x2="594.16" y2="107.80" stroke="#5a5a5a" stroke-width="0.55" />
<line x1="598.91" y1="106.40" x2="598.91" y2="108.60" stroke="#5a5a5a" stroke-width="0.55" />
<line x1="603.65" y1="106.40" x2="603.65" y2="107.80" stroke="#5a5a5a" stroke-width="0.55" />
<line x1="608.39" y1="106.40" x2="608.39" y2="108.60" stroke="#5a5a5a" stroke-width="0.55" />
<line x1="613.14" y1="106.40" x2="613.14" y2="107.80" stroke="#5a5a5a" stroke-width="0.55" />
<line x1="617.88" y1="106.40" x2="617.88" y2="108.60" stroke="#5a5a5a" stroke-width="0.55" />
<line x1="622.63" y1="106.40" x2="622.63" y2="107.80" stroke="#5a5a5a" stroke-width="0.55" />
<line x1="627.37" y1="106.40" x2="627.37" y2="108.60" stroke="#5a5a5a" stroke-width="0.55" />
<line x1="632.11" y1="106.40" x2="632.11" y2="107.80" stroke="#5a5a5a" stroke-width="0.55" />
<line x1="636.86" y1="106.40" x2="636.86" y2="108.60" stroke="#5a5a5a" stroke-width="0.55" />
<line x1="641.60" y1="106.40" x2="641.60" y2="107.80" stroke="#5a5a5a" stroke-width="0.55" />
<line x1="646.35" y1="106.40" x2="646.35" y2="108.60" stroke="#5a5a5a" stroke-width="0.55" />
<line x1="651.09" y1="106.40" x2="651.09" y2="107.80" stroke="#5a5a5a" stroke-width="0.55" />
<line x1="655.84" y1="106.40" x2="655.84" y2="108.60" stroke="#5a5a5a" stroke-width="0.55" />
<line x1="660.58" y1="106.40" x2="660.58" y2="107.80" stroke="#5a5a5a" stroke-width="0.55" />
<line x1="665.32" y1="106.40" x2="665.32" y2="108.60" stroke="#5a5a5a" stroke-width="0.55" />
<line x1="670.07" y1="106.40" x2="670.07" y2="107.80" stroke="#5a5a5a" stroke-width="0.55" />
<line x1="674.81" y1="106.40" x2="674.81" y2="108.60" stroke="#5a5a5a" stroke-width="0.55" />
<line x1="679.56" y1="106.40" x2="679.56" y2="107.80" stroke="#5a5a5a" stroke-width="0.55" />
<line x1="684.30" y1="106.40" x2="684.30" y2="108.60" stroke="#5a5a5a" stroke-width="0.55" />
<text transform="translate(523.00 114.00) scale(1.1 1)" font-size="5.00" fill="#2a2a2a" text-anchor="middle" >200</text>
<text transform="translate(541.98 114.00) scale(1.1 1)" font-size="5.00" fill="#2a2a2a" text-anchor="middle" >600</text>
<text transform="translate(560.95 114.00) scale(1.1 1)" font-size="5.00" fill="#2a2a2a" text-anchor="middle" >1000</text>
<text transform="translate(579.93 114.00) scale(1.1 1)" font-size="5.00" fill="#2a2a2a" text-anchor="middle" >1400</text>
<text transform="translate(598.91 114.00) scale(1.1 1)" font-size="5.00" fill="#2a2a2a" text-anchor="middle" >1800</text>
<text transform="translate(617.88 114.00) scale(1.1 1)" font-size="5.00" fill="#2a2a2a" text-anchor="middle" >2200</text>
<text transform="translate(636.86 114.00) scale(1.1 1)" font-size="5.00" fill="#2a2a2a" text-anchor="middle" >2600</text>
<text transform="translate(655.84 114.00) scale(1.1 1)" font-size="5.00" fill="#2a2a2a" text-anchor="middle" >3000</text>
<text transform="translate(674.81 114.00) scale(1.1 1)" font-size="5.00" fill="#2a2a2a" text-anchor="middle" >3400</text>
<text transform="translate(599.45 119.90) scale(1.1 1)" font-size="5.09" fill="#222" text-anchor="middle" >Age (Ma)</text>
<text x="509.30" y="55.00" font-size="5.8" fill="#222" text-anchor="middle" transform="rotate(-90 509.30 55.00)" >Number</text>
<text transform="translate(576.70 17.70) scale(1.1 1)" font-size="6.32" fill="#1a1a1a" text-anchor="start" >Junggar block</text>
<text transform="translate(576.70 32.20) scale(1.1 1)" font-size="6.32" fill="#1a1a1a" text-anchor="start" >SJ-7-1 and SJ-19, C<tspan font-size="60%" dy="0.35">1</tspan><tspan dy="-0.35" font-style="italic">s</tspan> sandstone</text>
<text transform="translate(576.70 39.20) scale(1.1 1)" font-size="6.32" fill="#1a1a1a" text-anchor="start" >n=111 (Li et al., 2020)</text>
<defs><clipPath id="h5"><rect x="523.6" y="116.4" width="160.90" height="110.00"/></clipPath></defs>
<rect x="530.70" y="122.40" width="8.28" height="104.50" fill="#fffcc6" stroke="none" stroke-width="0.8" />
<rect x="547.26" y="122.40" width="4.50" height="104.50" fill="#e0fdfd" stroke="none" stroke-width="0.8" />
<rect x="633.01" y="122.40" width="4.64" height="104.50" fill="#f0f0f0" stroke="none" stroke-width="0.8" />
<g clip-path="url(#h5)">
<rect x="528.33" y="163.95" width="2.37" height="62.95" fill="#fff" stroke="#3a3a3a" stroke-width="0.5" />
<rect x="530.70" y="163.95" width="2.37" height="62.95" fill="#fff" stroke="#3a3a3a" stroke-width="0.5" />
<rect x="533.06" y="145.06" width="2.37" height="81.84" fill="#fff" stroke="#3a3a3a" stroke-width="0.5" />
<rect x="535.43" y="201.72" width="2.37" height="25.18" fill="#fff" stroke="#3a3a3a" stroke-width="0.5" />
<rect x="549.63" y="220.60" width="2.37" height="6.30" fill="#fff" stroke="#3a3a3a" stroke-width="0.5" />
<rect x="634.81" y="223.75" width="2.37" height="3.15" fill="#fff" stroke="#3a3a3a" stroke-width="0.5" />
<path d="M523.6,226.9 L523.6,226.9 L523.8,226.9 L524.1,226.9 L524.3,226.9 L524.5,226.9 L524.8,226.9 L525.0,226.9 L525.3,226.9 L525.5,226.9 L525.7,226.9 L526.0,226.9 L526.2,226.9 L526.4,226.9 L526.7,226.9 L526.9,226.9 L527.1,226.9 L527.4,226.9 L527.6,226.9 L527.9,226.9 L528.1,226.9 L528.3,226.9 L528.6,226.8 L528.8,226.4 L529.0,224.4 L529.3,218.7 L529.5,206.8 L529.8,190.8 L530.0,179.3 L530.2,180.7 L530.5,194.0 L530.7,209.6 L530.9,220.1 L531.2,224.7 L531.4,226.0 L531.6,225.9 L531.9,225.3 L532.1,224.0 L532.4,219.5 L532.6,201.0 L532.8,161.7 L533.1,135.5 L533.3,157.4 L533.5,192.9 L533.8,208.3 L534.0,210.9 L534.2,211.3 L534.5,212.2 L534.7,213.7 L535.0,215.6 L535.2,217.5 L535.4,218.6 L535.7,217.9 L535.9,214.9 L536.1,211.1 L536.4,209.7 L536.6,212.5 L536.9,217.9 L537.1,222.7 L537.3,225.4 L537.6,226.5 L537.8,226.8 L538.0,226.9 L538.3,226.9 L538.5,226.9 L538.7,226.9 L539.0,226.9 L539.2,226.9 L539.5,226.9 L539.7,226.9 L539.9,226.9 L540.2,226.9 L540.4,226.9 L540.6,226.9 L540.9,226.9 L541.1,226.9 L541.3,226.9 L541.6,226.9 L541.8,226.9 L542.1,226.9 L542.3,226.9 L542.5,226.9 L542.8,226.9 L543.0,226.9 L543.2,226.9 L543.5,226.9 L543.7,226.9 L543.9,226.9 L544.2,226.9 L544.4,226.9 L544.7,226.9 L544.9,226.9 L545.1,226.9 L545.4,226.9 L545.6,226.9 L545.8,226.9 L546.1,226.9 L546.3,226.9 L546.6,226.9 L546.8,226.9 L547.0,226.9 L547.3,226.9 L547.5,226.9 L547.7,226.9 L548.0,226.9 L548.2,226.9 L548.4,226.9 L548.7,226.9 L548.9,226.8 L549.2,226.6 L549.4,225.7 L549.6,223.7 L549.9,221.2 L550.1,220.0 L550.3,221.2 L550.6,223.7 L550.8,225.7 L551.0,226.6 L551.3,226.8 L551.5,226.9 L551.8,226.9 L552.0,226.9 L552.2,226.9 L552.5,226.9 L552.7,226.9 L552.9,226.9 L553.2,226.9 L553.4,226.9 L553.7,226.9 L553.9,226.9 L554.1,226.9 L554.4,226.9 L554.6,226.9 L554.8,226.9 L555.1,226.9 L555.3,226.9 L555.5,226.9 L555.8,226.9 L556.0,226.9 L556.3,226.9 L556.5,226.9 L556.7,226.9 L557.0,226.9 L557.2,226.9 L557.4,226.9 L557.7,226.9 L557.9,226.9 L558.1,226.9 L558.4,226.9 L558.6,226.9 L558.9,226.9 L559.1,226.9 L559.3,226.9 L559.6,226.9 L559.8,226.9 L560.0,226.9 L560.3,226.9 L560.5,226.9 L560.7,226.9 L561.0,226.9 L561.2,226.9 L561.5,226.9 L561.7,226.9 L561.9,226.9 L562.2,226.9 L562.4,226.9 L562.6,226.9 L562.9,226.9 L563.1,226.9 L563.4,226.9 L563.6,226.9 L563.8,226.9 L564.1,226.9 L564.3,226.9 L564.5,226.9 L564.8,226.9 L565.0,226.9 L565.2,226.9 L565.5,226.9 L565.7,226.9 L566.0,226.9 L566.2,226.9 L566.4,226.9 L566.7,226.9 L566.9,226.9 L567.1,226.9 L567.4,226.9 L567.6,226.9 L567.8,226.9 L568.1,226.9 L568.3,226.9 L568.6,226.9 L568.8,226.9 L569.0,226.9 L569.3,226.9 L569.5,226.9 L569.7,226.9 L570.0,226.9 L570.2,226.9 L570.5,226.9 L570.7,226.9 L570.9,226.9 L571.2,226.9 L571.4,226.9 L571.6,226.9 L571.9,226.9 L572.1,226.9 L572.3,226.9 L572.6,226.9 L572.8,226.9 L573.1,226.9 L573.3,226.9 L573.5,226.9 L573.8,226.9 L574.0,226.9 L574.2,226.9 L574.5,226.9 L574.7,226.9 L574.9,226.9 L575.2,226.9 L575.4,226.9 L575.7,226.9 L575.9,226.9 L576.1,226.9 L576.4,226.9 L576.6,226.9 L576.8,226.9 L577.1,226.9 L577.3,226.9 L577.5,226.9 L577.8,226.9 L578.0,226.9 L578.3,226.9 L578.5,226.9 L578.7,226.9 L579.0,226.9 L579.2,226.9 L579.4,226.9 L579.7,226.9 L579.9,226.9 L580.2,226.9 L580.4,226.9 L580.6,226.9 L580.9,226.9 L581.1,226.9 L581.3,226.9 L581.6,226.9 L581.8,226.9 L582.0,226.9 L582.3,226.9 L582.5,226.9 L582.8,226.9 L583.0,226.9 L583.2,226.9 L583.5,226.9 L583.7,226.9 L583.9,226.9 L584.2,226.9 L584.4,226.9 L584.6,226.9 L584.9,226.9 L585.1,226.9 L585.4,226.9 L585.6,226.9 L585.8,226.9 L586.1,226.9 L586.3,226.9 L586.5,226.9 L586.8,226.9 L587.0,226.9 L587.3,226.9 L587.5,226.9 L587.7,226.9 L588.0,226.9 L588.2,226.9 L588.4,226.9 L588.7,226.9 L588.9,226.9 L589.1,226.9 L589.4,226.9 L589.6,226.9 L589.9,226.9 L590.1,226.9 L590.3,226.9 L590.6,226.9 L590.8,226.9 L591.0,226.9 L591.3,226.9 L591.5,226.9 L591.7,226.9 L592.0,226.9 L592.2,226.9 L592.5,226.9 L592.7,226.9 L592.9,226.9 L593.2,226.9 L593.4,226.9 L593.6,226.9 L593.9,226.9 L594.1,226.9 L594.3,226.9 L594.6,226.9 L594.8,226.9 L595.1,226.9 L595.3,226.9 L595.5,226.9 L595.8,226.9 L596.0,226.9 L596.2,226.9 L596.5,226.9 L596.7,226.9 L597.0,226.9 L597.2,226.9 L597.4,226.9 L597.7,226.9 L597.9,226.9 L598.1,226.9 L598.4,226.9 L598.6,226.9 L598.8,226.9 L599.1,226.9 L599.3,226.9 L599.6,226.9 L599.8,226.9 L600.0,226.9 L600.3,226.9 L600.5,226.9 L600.7,226.9 L601.0,226.9 L601.2,226.9 L601.4,226.9 L601.7,226.9 L601.9,226.9 L602.2,226.9 L602.4,226.9 L602.6,226.9 L602.9,226.9 L603.1,226.9 L603.3,226.9 L603.6,226.9 L603.8,226.9 L604.0,226.9 L604.3,226.9 L604.5,226.9 L604.8,226.9 L605.0,226.9 L605.2,226.9 L605.5,226.9 L605.7,226.9 L605.9,226.9 L606.2,226.9 L606.4,226.9 L606.7,226.9 L606.9,226.9 L607.1,226.9 L607.4,226.9 L607.6,226.9 L607.8,226.9 L608.1,226.9 L608.3,226.9 L608.5,226.9 L608.8,226.9 L609.0,226.9 L609.3,226.9 L609.5,226.9 L609.7,226.9 L610.0,226.9 L610.2,226.9 L610.4,226.9 L610.7,226.9 L610.9,226.9 L611.1,226.9 L611.4,226.9 L611.6,226.9 L611.9,226.9 L612.1,226.9 L612.3,226.9 L612.6,226.9 L612.8,226.9 L613.0,226.9 L613.3,226.9 L613.5,226.9 L613.8,226.9 L614.0,226.9 L614.2,226.9 L614.5,226.9 L614.7,226.9 L614.9,226.9 L615.2,226.9 L615.4,226.9 L615.6,226.9 L615.9,226.9 L616.1,226.9 L616.4,226.9 L616.6,226.9 L616.8,226.9 L617.1,226.9 L617.3,226.9 L617.5,226.9 L617.8,226.9 L618.0,226.9 L618.2,226.9 L618.5,226.9 L618.7,226.9 L619.0,226.9 L619.2,226.9 L619.4,226.9 L619.7,226.9 L619.9,226.9 L620.1,226.9 L620.4,226.9 L620.6,226.9 L620.8,226.9 L621.1,226.9 L621.3,226.9 L621.6,226.9 L621.8,226.9 L622.0,226.9 L622.3,226.9 L622.5,226.9 L622.7,226.9 L623.0,226.9 L623.2,226.9 L623.5,226.9 L623.7,226.9 L623.9,226.9 L624.2,226.9 L624.4,226.9 L624.6,226.9 L624.9,226.9 L625.1,226.9 L625.3,226.9 L625.6,226.9 L625.8,226.9 L626.1,226.9 L626.3,226.9 L626.5,226.9 L626.8,226.9 L627.0,226.9 L627.2,226.9 L627.5,226.9 L627.7,226.9 L627.9,226.9 L628.2,226.9 L628.4,226.9 L628.7,226.9 L628.9,226.9 L629.1,226.9 L629.4,226.9 L629.6,226.9 L629.8,226.9 L630.1,226.9 L630.3,226.9 L630.6,226.9 L630.8,226.9 L631.0,226.9 L631.3,226.9 L631.5,226.9 L631.7,226.9 L632.0,226.9 L632.2,226.9 L632.4,226.9 L632.7,226.9 L632.9,226.9 L633.2,226.9 L633.4,226.9 L633.6,226.9 L633.9,226.8 L634.1,226.7 L634.3,226.6 L634.6,226.5 L634.8,226.3 L635.0,226.0 L635.3,225.8 L635.5,225.5 L635.8,225.2 L636.0,225.1 L636.2,225.0 L636.5,225.1 L636.7,225.2 L636.9,225.5 L637.2,225.8 L637.4,226.0 L637.6,226.3 L637.9,226.5 L638.1,226.6 L638.4,226.7 L638.6,226.8 L638.8,226.9 L639.1,226.9 L639.3,226.9 L639.5,226.9 L639.8,226.9 L640.0,226.9 L640.3,226.9 L640.5,226.9 L640.7,226.9 L641.0,226.9 L641.2,226.9 L641.4,226.9 L641.7,226.9 L641.9,226.9 L642.1,226.9 L642.4,226.9 L642.6,226.9 L642.9,226.9 L643.1,226.9 L643.3,226.9 L643.6,226.9 L643.8,226.9 L644.0,226.9 L644.3,226.9 L644.5,226.9 L644.7,226.9 L645.0,226.9 L645.2,226.9 L645.5,226.9 L645.7,226.9 L645.9,226.9 L646.2,226.9 L646.4,226.9 L646.6,226.9 L646.9,226.9 L647.1,226.9 L647.4,226.9 L647.6,226.9 L647.8,226.9 L648.1,226.9 L648.3,226.9 L648.5,226.9 L648.8,226.9 L649.0,226.9 L649.2,226.9 L649.5,226.9 L649.7,226.9 L650.0,226.9 L650.2,226.9 L650.4,226.9 L650.7,226.9 L650.9,226.9 L651.1,226.9 L651.4,226.9 L651.6,226.9 L651.8,226.9 L652.1,226.9 L652.3,226.9 L652.6,226.9 L652.8,226.9 L653.0,226.9 L653.3,226.9 L653.5,226.9 L653.7,226.9 L654.0,226.9 L654.2,226.9 L654.4,226.9 L654.7,226.9 L654.9,226.9 L655.2,226.9 L655.4,226.9 L655.6,226.9 L655.9,226.9 L656.1,226.9 L656.3,226.9 L656.6,226.9 L656.8,226.9 L657.1,226.9 L657.3,226.9 L657.5,226.9 L657.8,226.9 L658.0,226.9 L658.2,226.9 L658.5,226.9 L658.7,226.9 L658.9,226.9 L659.2,226.9 L659.4,226.9 L659.7,226.9 L659.9,226.9 L660.1,226.9 L660.4,226.9 L660.6,226.9 L660.8,226.9 L661.1,226.9 L661.3,226.9 L661.5,226.9 L661.8,226.9 L662.0,226.9 L662.3,226.9 L662.5,226.9 L662.7,226.9 L663.0,226.9 L663.2,226.9 L663.4,226.9 L663.7,226.9 L663.9,226.9 L664.2,226.9 L664.4,226.9 L664.6,226.9 L664.9,226.9 L665.1,226.9 L665.3,226.9 L665.6,226.9 L665.8,226.9 L666.0,226.9 L666.3,226.9 L666.5,226.9 L666.8,226.9 L667.0,226.9 L667.2,226.9 L667.5,226.9 L667.7,226.9 L667.9,226.9 L668.2,226.9 L668.4,226.9 L668.6,226.9 L668.9,226.9 L669.1,226.9 L669.4,226.9 L669.6,226.9 L669.8,226.9 L670.1,226.9 L670.3,226.9 L670.5,226.9 L670.8,226.9 L671.0,226.9 L671.2,226.9 L671.5,226.9 L671.7,226.9 L672.0,226.9 L672.2,226.9 L672.4,226.9 L672.7,226.9 L672.9,226.9 L673.1,226.9 L673.4,226.9 L673.6,226.9 L673.9,226.9 L674.1,226.9 L674.3,226.9 L674.6,226.9 L674.8,226.9 L675.0,226.9 L675.3,226.9 L675.5,226.9 L675.7,226.9 L676.0,226.9 L676.2,226.9 L676.5,226.9 L676.7,226.9 L676.9,226.9 L677.2,226.9 L677.4,226.9 L677.6,226.9 L677.9,226.9 L678.1,226.9 L678.3,226.9 L678.6,226.9 L678.8,226.9 L679.1,226.9 L679.3,226.9 L679.5,226.9 L679.8,226.9 L680.0,226.9 L680.2,226.9 L680.5,226.9 L680.7,226.9 L681.0,226.9 L681.2,226.9 L681.4,226.9 L681.7,226.9 L681.9,226.9 L682.1,226.9 L682.4,226.9 L682.6,226.9 L682.8,226.9 L683.1,226.9 L683.3,226.9 L683.6,226.9 L683.8,226.9 L684.0,226.9 L684.3,226.9 L684.5,226.9 L684.5,226.9 Z" fill="rgba(255,47,134,0.22)" stroke="none"/>
<path d="M523.6,226.9 523.8,226.9 524.1,226.9 524.3,226.9 524.5,226.9 524.8,226.9 525.0,226.9 525.3,226.9 525.5,226.9 525.7,226.9 526.0,226.9 526.2,226.9 526.4,226.9 526.7,226.9 526.9,226.9 527.1,226.9 527.4,226.9 527.6,226.9 527.9,226.9 528.1,226.9 528.3,226.9 528.6,226.8 528.8,226.4 529.0,224.4 529.3,218.7 529.5,206.8 529.8,190.8 530.0,179.3 530.2,180.7 530.5,194.0 530.7,209.6 530.9,220.1 531.2,224.7 531.4,226.0 531.6,225.9 531.9,225.3 532.1,224.0 532.4,219.5 532.6,201.0 532.8,161.7 533.1,135.5 533.3,157.4 533.5,192.9 533.8,208.3 534.0,210.9 534.2,211.3 534.5,212.2 534.7,213.7 535.0,215.6 535.2,217.5 535.4,218.6 535.7,217.9 535.9,214.9 536.1,211.1 536.4,209.7 536.6,212.5 536.9,217.9 537.1,222.7 537.3,225.4 537.6,226.5 537.8,226.8 538.0,226.9 538.3,226.9 538.5,226.9 538.7,226.9 539.0,226.9 539.2,226.9 539.5,226.9 539.7,226.9 539.9,226.9 540.2,226.9 540.4,226.9 540.6,226.9 540.9,226.9 541.1,226.9 541.3,226.9 541.6,226.9 541.8,226.9 542.1,226.9 542.3,226.9 542.5,226.9 542.8,226.9 543.0,226.9 543.2,226.9 543.5,226.9 543.7,226.9 543.9,226.9 544.2,226.9 544.4,226.9 544.7,226.9 544.9,226.9 545.1,226.9 545.4,226.9 545.6,226.9 545.8,226.9 546.1,226.9 546.3,226.9 546.6,226.9 546.8,226.9 547.0,226.9 547.3,226.9 547.5,226.9 547.7,226.9 548.0,226.9 548.2,226.9 548.4,226.9 548.7,226.9 548.9,226.8 549.2,226.6 549.4,225.7 549.6,223.7 549.9,221.2 550.1,220.0 550.3,221.2 550.6,223.7 550.8,225.7 551.0,226.6 551.3,226.8 551.5,226.9 551.8,226.9 552.0,226.9 552.2,226.9 552.5,226.9 552.7,226.9 552.9,226.9 553.2,226.9 553.4,226.9 553.7,226.9 553.9,226.9 554.1,226.9 554.4,226.9 554.6,226.9 554.8,226.9 555.1,226.9 555.3,226.9 555.5,226.9 555.8,226.9 556.0,226.9 556.3,226.9 556.5,226.9 556.7,226.9 557.0,226.9 557.2,226.9 557.4,226.9 557.7,226.9 557.9,226.9 558.1,226.9 558.4,226.9 558.6,226.9 558.9,226.9 559.1,226.9 559.3,226.9 559.6,226.9 559.8,226.9 560.0,226.9 560.3,226.9 560.5,226.9 560.7,226.9 561.0,226.9 561.2,226.9 561.5,226.9 561.7,226.9 561.9,226.9 562.2,226.9 562.4,226.9 562.6,226.9 562.9,226.9 563.1,226.9 563.4,226.9 563.6,226.9 563.8,226.9 564.1,226.9 564.3,226.9 564.5,226.9 564.8,226.9 565.0,226.9 565.2,226.9 565.5,226.9 565.7,226.9 566.0,226.9 566.2,226.9 566.4,226.9 566.7,226.9 566.9,226.9 567.1,226.9 567.4,226.9 567.6,226.9 567.8,226.9 568.1,226.9 568.3,226.9 568.6,226.9 568.8,226.9 569.0,226.9 569.3,226.9 569.5,226.9 569.7,226.9 570.0,226.9 570.2,226.9 570.5,226.9 570.7,226.9 570.9,226.9 571.2,226.9 571.4,226.9 571.6,226.9 571.9,226.9 572.1,226.9 572.3,226.9 572.6,226.9 572.8,226.9 573.1,226.9 573.3,226.9 573.5,226.9 573.8,226.9 574.0,226.9 574.2,226.9 574.5,226.9 574.7,226.9 574.9,226.9 575.2,226.9 575.4,226.9 575.7,226.9 575.9,226.9 576.1,226.9 576.4,226.9 576.6,226.9 576.8,226.9 577.1,226.9 577.3,226.9 577.5,226.9 577.8,226.9 578.0,226.9 578.3,226.9 578.5,226.9 578.7,226.9 579.0,226.9 579.2,226.9 579.4,226.9 579.7,226.9 579.9,226.9 580.2,226.9 580.4,226.9 580.6,226.9 580.9,226.9 581.1,226.9 581.3,226.9 581.6,226.9 581.8,226.9 582.0,226.9 582.3,226.9 582.5,226.9 582.8,226.9 583.0,226.9 583.2,226.9 583.5,226.9 583.7,226.9 583.9,226.9 584.2,226.9 584.4,226.9 584.6,226.9 584.9,226.9 585.1,226.9 585.4,226.9 585.6,226.9 585.8,226.9 586.1,226.9 586.3,226.9 586.5,226.9 586.8,226.9 587.0,226.9 587.3,226.9 587.5,226.9 587.7,226.9 588.0,226.9 588.2,226.9 588.4,226.9 588.7,226.9 588.9,226.9 589.1,226.9 589.4,226.9 589.6,226.9 589.9,226.9 590.1,226.9 590.3,226.9 590.6,226.9 590.8,226.9 591.0,226.9 591.3,226.9 591.5,226.9 591.7,226.9 592.0,226.9 592.2,226.9 592.5,226.9 592.7,226.9 592.9,226.9 593.2,226.9 593.4,226.9 593.6,226.9 593.9,226.9 594.1,226.9 594.3,226.9 594.6,226.9 594.8,226.9 595.1,226.9 595.3,226.9 595.5,226.9 595.8,226.9 596.0,226.9 596.2,226.9 596.5,226.9 596.7,226.9 597.0,226.9 597.2,226.9 597.4,226.9 597.7,226.9 597.9,226.9 598.1,226.9 598.4,226.9 598.6,226.9 598.8,226.9 599.1,226.9 599.3,226.9 599.6,226.9 599.8,226.9 600.0,226.9 600.3,226.9 600.5,226.9 600.7,226.9 601.0,226.9 601.2,226.9 601.4,226.9 601.7,226.9 601.9,226.9 602.2,226.9 602.4,226.9 602.6,226.9 602.9,226.9 603.1,226.9 603.3,226.9 603.6,226.9 603.8,226.9 604.0,226.9 604.3,226.9 604.5,226.9 604.8,226.9 605.0,226.9 605.2,226.9 605.5,226.9 605.7,226.9 605.9,226.9 606.2,226.9 606.4,226.9 606.7,226.9 606.9,226.9 607.1,226.9 607.4,226.9 607.6,226.9 607.8,226.9 608.1,226.9 608.3,226.9 608.5,226.9 608.8,226.9 609.0,226.9 609.3,226.9 609.5,226.9 609.7,226.9 610.0,226.9 610.2,226.9 610.4,226.9 610.7,226.9 610.9,226.9 611.1,226.9 611.4,226.9 611.6,226.9 611.9,226.9 612.1,226.9 612.3,226.9 612.6,226.9 612.8,226.9 613.0,226.9 613.3,226.9 613.5,226.9 613.8,226.9 614.0,226.9 614.2,226.9 614.5,226.9 614.7,226.9 614.9,226.9 615.2,226.9 615.4,226.9 615.6,226.9 615.9,226.9 616.1,226.9 616.4,226.9 616.6,226.9 616.8,226.9 617.1,226.9 617.3,226.9 617.5,226.9 617.8,226.9 618.0,226.9 618.2,226.9 618.5,226.9 618.7,226.9 619.0,226.9 619.2,226.9 619.4,226.9 619.7,226.9 619.9,226.9 620.1,226.9 620.4,226.9 620.6,226.9 620.8,226.9 621.1,226.9 621.3,226.9 621.6,226.9 621.8,226.9 622.0,226.9 622.3,226.9 622.5,226.9 622.7,226.9 623.0,226.9 623.2,226.9 623.5,226.9 623.7,226.9 623.9,226.9 624.2,226.9 624.4,226.9 624.6,226.9 624.9,226.9 625.1,226.9 625.3,226.9 625.6,226.9 625.8,226.9 626.1,226.9 626.3,226.9 626.5,226.9 626.8,226.9 627.0,226.9 627.2,226.9 627.5,226.9 627.7,226.9 627.9,226.9 628.2,226.9 628.4,226.9 628.7,226.9 628.9,226.9 629.1,226.9 629.4,226.9 629.6,226.9 629.8,226.9 630.1,226.9 630.3,226.9 630.6,226.9 630.8,226.9 631.0,226.9 631.3,226.9 631.5,226.9 631.7,226.9 632.0,226.9 632.2,226.9 632.4,226.9 632.7,226.9 632.9,226.9 633.2,226.9 633.4,226.9 633.6,226.9 633.9,226.8 634.1,226.7 634.3,226.6 634.6,226.5 634.8,226.3 635.0,226.0 635.3,225.8 635.5,225.5 635.8,225.2 636.0,225.1 636.2,225.0 636.5,225.1 636.7,225.2 636.9,225.5 637.2,225.8 637.4,226.0 637.6,226.3 637.9,226.5 638.1,226.6 638.4,226.7 638.6,226.8 638.8,226.9 639.1,226.9 639.3,226.9 639.5,226.9 639.8,226.9 640.0,226.9 640.3,226.9 640.5,226.9 640.7,226.9 641.0,226.9 641.2,226.9 641.4,226.9 641.7,226.9 641.9,226.9 642.1,226.9 642.4,226.9 642.6,226.9 642.9,226.9 643.1,226.9 643.3,226.9 643.6,226.9 643.8,226.9 644.0,226.9 644.3,226.9 644.5,226.9 644.7,226.9 645.0,226.9 645.2,226.9 645.5,226.9 645.7,226.9 645.9,226.9 646.2,226.9 646.4,226.9 646.6,226.9 646.9,226.9 647.1,226.9 647.4,226.9 647.6,226.9 647.8,226.9 648.1,226.9 648.3,226.9 648.5,226.9 648.8,226.9 649.0,226.9 649.2,226.9 649.5,226.9 649.7,226.9 650.0,226.9 650.2,226.9 650.4,226.9 650.7,226.9 650.9,226.9 651.1,226.9 651.4,226.9 651.6,226.9 651.8,226.9 652.1,226.9 652.3,226.9 652.6,226.9 652.8,226.9 653.0,226.9 653.3,226.9 653.5,226.9 653.7,226.9 654.0,226.9 654.2,226.9 654.4,226.9 654.7,226.9 654.9,226.9 655.2,226.9 655.4,226.9 655.6,226.9 655.9,226.9 656.1,226.9 656.3,226.9 656.6,226.9 656.8,226.9 657.1,226.9 657.3,226.9 657.5,226.9 657.8,226.9 658.0,226.9 658.2,226.9 658.5,226.9 658.7,226.9 658.9,226.9 659.2,226.9 659.4,226.9 659.7,226.9 659.9,226.9 660.1,226.9 660.4,226.9 660.6,226.9 660.8,226.9 661.1,226.9 661.3,226.9 661.5,226.9 661.8,226.9 662.0,226.9 662.3,226.9 662.5,226.9 662.7,226.9 663.0,226.9 663.2,226.9 663.4,226.9 663.7,226.9 663.9,226.9 664.2,226.9 664.4,226.9 664.6,226.9 664.9,226.9 665.1,226.9 665.3,226.9 665.6,226.9 665.8,226.9 666.0,226.9 666.3,226.9 666.5,226.9 666.8,226.9 667.0,226.9 667.2,226.9 667.5,226.9 667.7,226.9 667.9,226.9 668.2,226.9 668.4,226.9 668.6,226.9 668.9,226.9 669.1,226.9 669.4,226.9 669.6,226.9 669.8,226.9 670.1,226.9 670.3,226.9 670.5,226.9 670.8,226.9 671.0,226.9 671.2,226.9 671.5,226.9 671.7,226.9 672.0,226.9 672.2,226.9 672.4,226.9 672.7,226.9 672.9,226.9 673.1,226.9 673.4,226.9 673.6,226.9 673.9,226.9 674.1,226.9 674.3,226.9 674.6,226.9 674.8,226.9 675.0,226.9 675.3,226.9 675.5,226.9 675.7,226.9 676.0,226.9 676.2,226.9 676.5,226.9 676.7,226.9 676.9,226.9 677.2,226.9 677.4,226.9 677.6,226.9 677.9,226.9 678.1,226.9 678.3,226.9 678.6,226.9 678.8,226.9 679.1,226.9 679.3,226.9 679.5,226.9 679.8,226.9 680.0,226.9 680.2,226.9 680.5,226.9 680.7,226.9 681.0,226.9 681.2,226.9 681.4,226.9 681.7,226.9 681.9,226.9 682.1,226.9 682.4,226.9 682.6,226.9 682.8,226.9 683.1,226.9 683.3,226.9 683.6,226.9 683.8,226.9 684.0,226.9 684.3,226.9 684.5,226.9" stroke="#ff2f86" stroke-width="0.8" fill="none" stroke-linejoin="round" />
</g>
<text transform="translate(535.40 134.15) scale(1.1 1)" font-size="4.82" fill="#ff2f86" text-anchor="start" >401</text>
<text transform="translate(522.80 174.95) scale(1.1 1)" font-size="4.82" fill="#ff2f86" text-anchor="start" >337</text>
<text transform="translate(536.20 208.85) scale(1.1 1)" font-size="4.82" fill="#ff2f86" text-anchor="start" >470</text>
<text transform="translate(550.00 218.35) scale(1.1 1)" font-size="4.82" fill="#ff2f86" text-anchor="start" >760</text>
<text transform="translate(629.80 222.15) scale(1.1 1)" font-size="4.82" fill="#ff2f86" text-anchor="start" >2580</text>
<rect x="523.60" y="122.40" width="160.90" height="104.50" fill="none" stroke="#5a5a5a" stroke-width="0.9" />
<line x1="523.60" y1="226.90" x2="525.90" y2="226.90" stroke="#5a5a5a" stroke-width="0.7" />
<text transform="translate(521.10 229.00) scale(1.1 1)" font-size="5.09" fill="#2a2a2a" text-anchor="end" >0</text>
<line x1="523.60" y1="211.16" x2="525.90" y2="211.16" stroke="#5a5a5a" stroke-width="0.7" />
<text transform="translate(521.10 213.26) scale(1.1 1)" font-size="5.09" fill="#2a2a2a" text-anchor="end" >5</text>
<line x1="523.60" y1="195.42" x2="525.90" y2="195.42" stroke="#5a5a5a" stroke-width="0.7" />
<text transform="translate(521.10 197.52) scale(1.1 1)" font-size="5.09" fill="#2a2a2a" text-anchor="end" >10</text>
<line x1="523.60" y1="179.69" x2="525.90" y2="179.69" stroke="#5a5a5a" stroke-width="0.7" />
<text transform="translate(521.10 181.79) scale(1.1 1)" font-size="5.09" fill="#2a2a2a" text-anchor="end" >15</text>
<line x1="523.60" y1="163.95" x2="525.90" y2="163.95" stroke="#5a5a5a" stroke-width="0.7" />
<text transform="translate(521.10 166.05) scale(1.1 1)" font-size="5.09" fill="#2a2a2a" text-anchor="end" >20</text>
<line x1="523.60" y1="148.21" x2="525.90" y2="148.21" stroke="#5a5a5a" stroke-width="0.7" />
<text transform="translate(521.10 150.31) scale(1.1 1)" font-size="5.09" fill="#2a2a2a" text-anchor="end" >25</text>
<line x1="523.60" y1="132.47" x2="525.90" y2="132.47" stroke="#5a5a5a" stroke-width="0.7" />
<text transform="translate(521.10 134.57) scale(1.1 1)" font-size="5.09" fill="#2a2a2a" text-anchor="end" >30</text>
<line x1="523.60" y1="226.90" x2="523.60" y2="229.10" stroke="#5a5a5a" stroke-width="0.55" />
<line x1="528.33" y1="226.90" x2="528.33" y2="228.30" stroke="#5a5a5a" stroke-width="0.55" />
<line x1="533.06" y1="226.90" x2="533.06" y2="229.10" stroke="#5a5a5a" stroke-width="0.55" />
<line x1="537.80" y1="226.90" x2="537.80" y2="228.30" stroke="#5a5a5a" stroke-width="0.55" />
<line x1="542.53" y1="226.90" x2="542.53" y2="229.10" stroke="#5a5a5a" stroke-width="0.55" />
<line x1="547.26" y1="226.90" x2="547.26" y2="228.30" stroke="#5a5a5a" stroke-width="0.55" />
<line x1="551.99" y1="226.90" x2="551.99" y2="229.10" stroke="#5a5a5a" stroke-width="0.55" />
<line x1="556.73" y1="226.90" x2="556.73" y2="228.30" stroke="#5a5a5a" stroke-width="0.55" />
<line x1="561.46" y1="226.90" x2="561.46" y2="229.10" stroke="#5a5a5a" stroke-width="0.55" />
<line x1="566.19" y1="226.90" x2="566.19" y2="228.30" stroke="#5a5a5a" stroke-width="0.55" />
<line x1="570.92" y1="226.90" x2="570.92" y2="229.10" stroke="#5a5a5a" stroke-width="0.55" />
<line x1="575.66" y1="226.90" x2="575.66" y2="228.30" stroke="#5a5a5a" stroke-width="0.55" />
<line x1="580.39" y1="226.90" x2="580.39" y2="229.10" stroke="#5a5a5a" stroke-width="0.55" />
<line x1="585.12" y1="226.90" x2="585.12" y2="228.30" stroke="#5a5a5a" stroke-width="0.55" />
<line x1="589.85" y1="226.90" x2="589.85" y2="229.10" stroke="#5a5a5a" stroke-width="0.55" />
<line x1="594.59" y1="226.90" x2="594.59" y2="228.30" stroke="#5a5a5a" stroke-width="0.55" />
<line x1="599.32" y1="226.90" x2="599.32" y2="229.10" stroke="#5a5a5a" stroke-width="0.55" />
<line x1="604.05" y1="226.90" x2="604.05" y2="228.30" stroke="#5a5a5a" stroke-width="0.55" />
<line x1="608.78" y1="226.90" x2="608.78" y2="229.10" stroke="#5a5a5a" stroke-width="0.55" />
<line x1="613.51" y1="226.90" x2="613.51" y2="228.30" stroke="#5a5a5a" stroke-width="0.55" />
<line x1="618.25" y1="226.90" x2="618.25" y2="229.10" stroke="#5a5a5a" stroke-width="0.55" />
<line x1="622.98" y1="226.90" x2="622.98" y2="228.30" stroke="#5a5a5a" stroke-width="0.55" />
<line x1="627.71" y1="226.90" x2="627.71" y2="229.10" stroke="#5a5a5a" stroke-width="0.55" />
<line x1="632.44" y1="226.90" x2="632.44" y2="228.30" stroke="#5a5a5a" stroke-width="0.55" />
<line x1="637.18" y1="226.90" x2="637.18" y2="229.10" stroke="#5a5a5a" stroke-width="0.55" />
<line x1="641.91" y1="226.90" x2="641.91" y2="228.30" stroke="#5a5a5a" stroke-width="0.55" />
<line x1="646.64" y1="226.90" x2="646.64" y2="229.10" stroke="#5a5a5a" stroke-width="0.55" />
<line x1="651.37" y1="226.90" x2="651.37" y2="228.30" stroke="#5a5a5a" stroke-width="0.55" />
<line x1="656.11" y1="226.90" x2="656.11" y2="229.10" stroke="#5a5a5a" stroke-width="0.55" />
<line x1="660.84" y1="226.90" x2="660.84" y2="228.30" stroke="#5a5a5a" stroke-width="0.55" />
<line x1="665.57" y1="226.90" x2="665.57" y2="229.10" stroke="#5a5a5a" stroke-width="0.55" />
<line x1="670.30" y1="226.90" x2="670.30" y2="228.30" stroke="#5a5a5a" stroke-width="0.55" />
<line x1="675.04" y1="226.90" x2="675.04" y2="229.10" stroke="#5a5a5a" stroke-width="0.55" />
<line x1="679.77" y1="226.90" x2="679.77" y2="228.30" stroke="#5a5a5a" stroke-width="0.55" />
<line x1="684.50" y1="226.90" x2="684.50" y2="229.10" stroke="#5a5a5a" stroke-width="0.55" />
<text transform="translate(523.60 234.50) scale(1.1 1)" font-size="5.00" fill="#2a2a2a" text-anchor="middle" >200</text>
<text transform="translate(542.53 234.50) scale(1.1 1)" font-size="5.00" fill="#2a2a2a" text-anchor="middle" >600</text>
<text transform="translate(561.46 234.50) scale(1.1 1)" font-size="5.00" fill="#2a2a2a" text-anchor="middle" >1000</text>
<text transform="translate(580.39 234.50) scale(1.1 1)" font-size="5.00" fill="#2a2a2a" text-anchor="middle" >1400</text>
<text transform="translate(599.32 234.50) scale(1.1 1)" font-size="5.00" fill="#2a2a2a" text-anchor="middle" >1800</text>
<text transform="translate(618.25 234.50) scale(1.1 1)" font-size="5.00" fill="#2a2a2a" text-anchor="middle" >2200</text>
<text transform="translate(637.18 234.50) scale(1.1 1)" font-size="5.00" fill="#2a2a2a" text-anchor="middle" >2600</text>
<text transform="translate(656.11 234.50) scale(1.1 1)" font-size="5.00" fill="#2a2a2a" text-anchor="middle" >3000</text>
<text transform="translate(675.04 234.50) scale(1.1 1)" font-size="5.00" fill="#2a2a2a" text-anchor="middle" >3400</text>
<text transform="translate(599.85 240.40) scale(1.1 1)" font-size="5.09" fill="#222" text-anchor="middle" >Age (Ma)</text>
<text x="509.90" y="177.30" font-size="5.8" fill="#222" text-anchor="middle" transform="rotate(-90 509.90 177.30)" >Number</text>
<text transform="translate(603.00 138.60) scale(1.1 1)" font-size="6.32" fill="#1a1a1a" text-anchor="start" >Yemaquan block</text>
<text transform="translate(603.00 152.60) scale(1.1 1)" font-size="6.32" fill="#1a1a1a" text-anchor="start" >KM-6, C<tspan font-size="60%" dy="0.35">1</tspan><tspan dy="-0.35" font-style="normal">n</tspan> sandstone</text>
<text transform="translate(603.00 159.80) scale(1.1 1)" font-size="6.32" fill="#1a1a1a" text-anchor="start" >n=76 (this study)</text>
<defs><clipPath id="cF"><rect x="368.4" y="244.4" width="257.10" height="104.60"/></clipPath></defs>
<g clip-path="url(#cF)">
<line x1="368.40" y1="344.82" x2="625.50" y2="344.82" stroke="#444" stroke-width="0.55" stroke-dasharray="1,1"/>
<circle cx="433.6" cy="324.7" r="1.4" fill="#fff" stroke="#222" stroke-width="0.5"/>
<circle cx="447.0" cy="338.5" r="1.4" fill="#fff" stroke="#222" stroke-width="0.5"/>
<circle cx="452.8" cy="332.4" r="1.4" fill="#fff" stroke="#222" stroke-width="0.5"/>
<circle cx="454.7" cy="326.9" r="1.4" fill="#fff" stroke="#222" stroke-width="0.5"/>
<circle cx="462.4" cy="329.7" r="1.4" fill="#fff" stroke="#222" stroke-width="0.5"/>
<circle cx="468.5" cy="322.0" r="1.4" fill="#fff" stroke="#222" stroke-width="0.5"/>
<circle cx="470.7" cy="319.5" r="1.4" fill="#fff" stroke="#222" stroke-width="0.5"/>
<circle cx="474.8" cy="328.8" r="1.4" fill="#fff" stroke="#222" stroke-width="0.5"/>
<circle cx="493.7" cy="337.9" r="1.4" fill="#fff" stroke="#222" stroke-width="0.5"/>
<circle cx="495.9" cy="316.0" r="1.4" fill="#fff" stroke="#222" stroke-width="0.5"/>
<circle cx="498.1" cy="306.9" r="1.4" fill="#fff" stroke="#222" stroke-width="0.5"/>
<circle cx="502.0" cy="324.7" r="1.4" fill="#fff" stroke="#222" stroke-width="0.5"/>
<circle cx="502.8" cy="323.6" r="1.4" fill="#fff" stroke="#222" stroke-width="0.5"/>
<circle cx="507.7" cy="320.0" r="1.4" fill="#fff" stroke="#222" stroke-width="0.5"/>
<circle cx="511.6" cy="335.7" r="1.4" fill="#fff" stroke="#222" stroke-width="0.5"/>
<circle cx="506.9" cy="345.6" r="1.4" fill="#fff" stroke="#222" stroke-width="0.5"/>
<circle cx="528.1" cy="312.6" r="1.4" fill="#fff" stroke="#222" stroke-width="0.5"/>
<circle cx="538.9" cy="337.7" r="1.4" fill="#fff" stroke="#222" stroke-width="0.5"/>
<circle cx="537.9" cy="342.5" r="1.4" fill="#fff" stroke="#222" stroke-width="0.5"/>
<circle cx="546.7" cy="322.9" r="1.4" fill="#fff" stroke="#222" stroke-width="0.5"/>
<circle cx="556.2" cy="313.1" r="1.4" fill="#fff" stroke="#222" stroke-width="0.5"/>
<circle cx="598.1" cy="340.0" r="1.4" fill="#fff" stroke="#222" stroke-width="0.5"/>
<circle cx="597.7" cy="341.6" r="1.4" fill="#fff" stroke="#222" stroke-width="0.5"/>
<circle cx="601.0" cy="333.9" r="1.4" fill="#fff" stroke="#222" stroke-width="0.5"/>
<circle cx="604.3" cy="312.3" r="1.4" fill="#fff" stroke="#222" stroke-width="0.5"/>
<circle cx="606.8" cy="334.8" r="1.4" fill="#fff" stroke="#222" stroke-width="0.5"/>
<circle cx="608.1" cy="331.0" r="1.4" fill="#fff" stroke="#222" stroke-width="0.5"/>
<circle cx="609.3" cy="332.3" r="1.4" fill="#fff" stroke="#222" stroke-width="0.5"/>
<circle cx="609.7" cy="335.4" r="1.4" fill="#fff" stroke="#222" stroke-width="0.5"/>
<circle cx="613.9" cy="333.9" r="1.4" fill="#fff" stroke="#222" stroke-width="0.5"/>
<circle cx="378.7" cy="270.8" r="1.4" fill="#fff" stroke="#222" stroke-width="0.5"/>
<circle cx="411.9" cy="261.9" r="1.4" fill="#fff" stroke="#222" stroke-width="0.5"/>
<circle cx="426.4" cy="302.8" r="1.4" fill="#fff" stroke="#222" stroke-width="0.5"/>
<circle cx="413.9" cy="303.9" r="1.4" fill="#fff" stroke="#222" stroke-width="0.5"/>
<circle cx="416.1" cy="307.4" r="1.4" fill="#fff" stroke="#222" stroke-width="0.5"/>
<circle cx="407.1" cy="309.9" r="1.4" fill="#fff" stroke="#222" stroke-width="0.5"/>
<circle cx="414.3" cy="311.1" r="1.4" fill="#fff" stroke="#222" stroke-width="0.5"/>
<circle cx="416.4" cy="309.6" r="1.4" fill="#fff" stroke="#222" stroke-width="0.5"/>
<circle cx="417.6" cy="314.2" r="1.4" fill="#fff" stroke="#222" stroke-width="0.5"/>
<circle cx="420.7" cy="313.0" r="1.4" fill="#fff" stroke="#222" stroke-width="0.5"/>
<circle cx="415.8" cy="317.5" r="1.4" fill="#fff" stroke="#222" stroke-width="0.5"/>
<circle cx="419.9" cy="318.7" r="1.4" fill="#fff" stroke="#222" stroke-width="0.5"/>
<circle cx="424.9" cy="319.5" r="1.4" fill="#fff" stroke="#222" stroke-width="0.5"/>
<circle cx="412.8" cy="321.4" r="1.4" fill="#fff" stroke="#222" stroke-width="0.5"/>
<circle cx="414.9" cy="322.5" r="1.4" fill="#fff" stroke="#222" stroke-width="0.5"/>
<circle cx="414.6" cy="320.2" r="1.4" fill="#fff" stroke="#222" stroke-width="0.5"/>
<circle cx="422.9" cy="325.0" r="1.4" fill="#fff" stroke="#222" stroke-width="0.5"/>
<circle cx="423.7" cy="327.8" r="1.4" fill="#fff" stroke="#222" stroke-width="0.5"/>
<circle cx="433.5" cy="325.0" r="1.4" fill="#fff" stroke="#222" stroke-width="0.5"/>
<circle cx="421.9" cy="331.5" r="1.4" fill="#fff" stroke="#222" stroke-width="0.5"/>
<circle cx="421.9" cy="334.6" r="1.4" fill="#fff" stroke="#222" stroke-width="0.5"/>
<circle cx="414.3" cy="333.8" r="1.4" fill="#fff" stroke="#222" stroke-width="0.5"/>
<circle cx="411.9" cy="335.6" r="1.4" fill="#fff" stroke="#222" stroke-width="0.5"/>
<circle cx="405.5" cy="309.5" r="1.4" fill="#fff" stroke="#222" stroke-width="0.5"/>
<circle cx="418.5" cy="305.0" r="1.4" fill="#fff" stroke="#222" stroke-width="0.5"/>
<circle cx="410.0" cy="317.0" r="1.4" fill="#fff" stroke="#222" stroke-width="0.5"/>
<circle cx="378.5" cy="296.5" r="1.4" fill="#fff" stroke="#222" stroke-width="0.5"/>
<circle cx="380.5" cy="294.5" r="1.4" fill="#fff" stroke="#222" stroke-width="0.5"/>
<circle cx="377.5" cy="301.0" r="1.4" fill="#fff" stroke="#222" stroke-width="0.5"/>
<circle cx="379.5" cy="304.5" r="1.4" fill="#fff" stroke="#222" stroke-width="0.5"/>
<circle cx="377.0" cy="309.0" r="1.4" fill="#fff" stroke="#222" stroke-width="0.5"/>
<circle cx="385.0" cy="298.0" r="1.4" fill="#fff" stroke="#222" stroke-width="0.5"/>
<circle cx="389.0" cy="303.0" r="1.4" fill="#fff" stroke="#222" stroke-width="0.5"/>
<circle cx="391.0" cy="307.0" r="1.4" fill="#fff" stroke="#222" stroke-width="0.5"/>
<circle cx="393.5" cy="318.0" r="1.4" fill="#fff" stroke="#222" stroke-width="0.5"/>
<circle cx="395.5" cy="319.5" r="1.4" fill="#fff" stroke="#222" stroke-width="0.5"/>
<circle cx="392.0" cy="326.0" r="1.4" fill="#fff" stroke="#222" stroke-width="0.5"/>
<circle cx="393.0" cy="333.0" r="1.4" fill="#fff" stroke="#222" stroke-width="0.5"/>
<circle cx="379.0" cy="337.0" r="1.4" fill="#fff" stroke="#222" stroke-width="0.5"/>
<circle cx="384.0" cy="341.5" r="1.4" fill="#fff" stroke="#222" stroke-width="0.5"/>
<circle cx="378.0" cy="344.0" r="1.4" fill="#fff" stroke="#222" stroke-width="0.5"/>
<circle cx="392.0" cy="341.0" r="1.4" fill="#fff" stroke="#222" stroke-width="0.5"/>
<circle cx="394.5" cy="343.0" r="1.4" fill="#fff" stroke="#222" stroke-width="0.5"/>
<circle cx="377.0" cy="322.0" r="1.4" fill="#fff" stroke="#222" stroke-width="0.5"/>
<circle cx="382.0" cy="313.0" r="1.4" fill="#fff" stroke="#222" stroke-width="0.5"/>
<circle cx="387.0" cy="306.0" r="1.4" fill="#fff" stroke="#222" stroke-width="0.5"/>
<circle cx="389.5" cy="315.0" r="1.4" fill="#fff" stroke="#222" stroke-width="0.5"/>
<circle cx="436.9" cy="335.7" r="1.25" fill="#ff2f86"/>
<circle cx="443.7" cy="333.2" r="1.25" fill="#ff2f86"/>
<circle cx="448.7" cy="310.4" r="1.25" fill="#ff2f86"/>
<circle cx="464.9" cy="330.5" r="1.25" fill="#ff2f86"/>
<circle cx="469.6" cy="333.0" r="1.25" fill="#ff2f86"/>
<circle cx="479.5" cy="301.6" r="1.25" fill="#ff2f86"/>
<circle cx="527.5" cy="333.2" r="1.25" fill="#ff2f86"/>
<circle cx="548.5" cy="290.6" r="1.25" fill="#ff2f86"/>
<circle cx="574.1" cy="331.6" r="1.25" fill="#ff2f86"/>
<circle cx="620.8" cy="328.1" r="1.25" fill="#ff2f86"/>
<circle cx="383.6" cy="289.2" r="1.25" fill="#ff2f86"/>
<circle cx="390.3" cy="289.2" r="1.25" fill="#ff2f86"/>
<circle cx="422.1" cy="293.1" r="1.25" fill="#ff2f86"/>
<circle cx="410.8" cy="308.9" r="1.25" fill="#ff2f86"/>
<circle cx="410.8" cy="312.7" r="1.25" fill="#ff2f86"/>
<circle cx="408.3" cy="319.5" r="1.25" fill="#ff2f86"/>
<circle cx="418.4" cy="323.2" r="1.25" fill="#ff2f86"/>
<circle cx="408.6" cy="330.5" r="1.25" fill="#ff2f86"/>
<circle cx="407.8" cy="338.3" r="1.25" fill="#ff2f86"/>
<circle cx="437.0" cy="335.3" r="1.25" fill="#ff2f86"/>
<circle cx="377.8" cy="304.5" r="1.25" fill="#ff2f86"/>
<circle cx="379.7" cy="304.5" r="1.25" fill="#ff2f86"/>
<circle cx="383.6" cy="304.0" r="1.25" fill="#ff2f86"/>
<circle cx="386.6" cy="304.0" r="1.25" fill="#ff2f86"/>
<circle cx="388.3" cy="305.0" r="1.25" fill="#ff2f86"/>
<circle cx="383.6" cy="306.1" r="1.25" fill="#ff2f86"/>
<circle cx="385.3" cy="306.3" r="1.25" fill="#ff2f86"/>
<circle cx="386.4" cy="306.0" r="1.25" fill="#ff2f86"/>
<circle cx="389.3" cy="306.4" r="1.25" fill="#ff2f86"/>
<circle cx="376.0" cy="308.6" r="1.25" fill="#ff2f86"/>
<circle cx="378.9" cy="308.8" r="1.25" fill="#ff2f86"/>
<circle cx="381.0" cy="308.0" r="1.25" fill="#ff2f86"/>
<circle cx="382.6" cy="308.1" r="1.25" fill="#ff2f86"/>
<circle cx="383.6" cy="308.7" r="1.25" fill="#ff2f86"/>
<circle cx="386.3" cy="309.0" r="1.25" fill="#ff2f86"/>
<circle cx="388.4" cy="308.6" r="1.25" fill="#ff2f86"/>
<circle cx="392.0" cy="308.7" r="1.25" fill="#ff2f86"/>
<circle cx="379.5" cy="311.1" r="1.25" fill="#ff2f86"/>
<circle cx="380.9" cy="310.4" r="1.25" fill="#ff2f86"/>
<circle cx="382.5" cy="310.5" r="1.25" fill="#ff2f86"/>
<circle cx="390.4" cy="310.2" r="1.25" fill="#ff2f86"/>
<circle cx="393.4" cy="310.0" r="1.25" fill="#ff2f86"/>
<circle cx="376.5" cy="313.0" r="1.25" fill="#ff2f86"/>
<circle cx="378.9" cy="312.2" r="1.25" fill="#ff2f86"/>
<circle cx="380.1" cy="313.0" r="1.25" fill="#ff2f86"/>
<circle cx="381.8" cy="312.1" r="1.25" fill="#ff2f86"/>
<circle cx="383.8" cy="312.5" r="1.25" fill="#ff2f86"/>
<circle cx="385.8" cy="311.9" r="1.25" fill="#ff2f86"/>
<circle cx="387.9" cy="312.6" r="1.25" fill="#ff2f86"/>
<circle cx="390.3" cy="312.5" r="1.25" fill="#ff2f86"/>
<circle cx="392.2" cy="312.0" r="1.25" fill="#ff2f86"/>
<circle cx="377.7" cy="314.9" r="1.25" fill="#ff2f86"/>
<circle cx="379.1" cy="314.4" r="1.25" fill="#ff2f86"/>
<circle cx="382.5" cy="314.0" r="1.25" fill="#ff2f86"/>
<circle cx="384.6" cy="314.3" r="1.25" fill="#ff2f86"/>
<circle cx="375.7" cy="316.9" r="1.25" fill="#ff2f86"/>
<circle cx="377.9" cy="316.2" r="1.25" fill="#ff2f86"/>
<circle cx="380.1" cy="316.0" r="1.25" fill="#ff2f86"/>
<circle cx="382.9" cy="316.5" r="1.25" fill="#ff2f86"/>
<circle cx="383.6" cy="316.0" r="1.25" fill="#ff2f86"/>
<circle cx="385.8" cy="316.9" r="1.25" fill="#ff2f86"/>
<circle cx="392.0" cy="316.1" r="1.25" fill="#ff2f86"/>
<circle cx="376.6" cy="318.5" r="1.25" fill="#ff2f86"/>
<circle cx="379.8" cy="318.7" r="1.25" fill="#ff2f86"/>
<circle cx="381.0" cy="318.1" r="1.25" fill="#ff2f86"/>
<circle cx="383.2" cy="318.8" r="1.25" fill="#ff2f86"/>
<circle cx="384.7" cy="318.9" r="1.25" fill="#ff2f86"/>
<circle cx="387.5" cy="318.9" r="1.25" fill="#ff2f86"/>
<circle cx="389.3" cy="318.2" r="1.25" fill="#ff2f86"/>
<circle cx="390.7" cy="317.9" r="1.25" fill="#ff2f86"/>
<circle cx="376.1" cy="320.7" r="1.25" fill="#ff2f86"/>
<circle cx="378.3" cy="321.0" r="1.25" fill="#ff2f86"/>
<circle cx="380.9" cy="320.3" r="1.25" fill="#ff2f86"/>
<circle cx="381.9" cy="320.1" r="1.25" fill="#ff2f86"/>
<circle cx="384.4" cy="321.0" r="1.25" fill="#ff2f86"/>
<circle cx="386.1" cy="320.7" r="1.25" fill="#ff2f86"/>
<circle cx="387.5" cy="320.7" r="1.25" fill="#ff2f86"/>
<circle cx="390.4" cy="320.8" r="1.25" fill="#ff2f86"/>
<circle cx="391.5" cy="320.8" r="1.25" fill="#ff2f86"/>
<circle cx="377.7" cy="323.1" r="1.25" fill="#ff2f86"/>
<circle cx="379.1" cy="323.0" r="1.25" fill="#ff2f86"/>
<circle cx="380.7" cy="322.1" r="1.25" fill="#ff2f86"/>
<circle cx="385.5" cy="322.1" r="1.25" fill="#ff2f86"/>
<circle cx="387.7" cy="322.7" r="1.25" fill="#ff2f86"/>
<circle cx="389.1" cy="322.1" r="1.25" fill="#ff2f86"/>
<circle cx="393.1" cy="322.5" r="1.25" fill="#ff2f86"/>
<circle cx="376.3" cy="324.9" r="1.25" fill="#ff2f86"/>
<circle cx="377.9" cy="324.2" r="1.25" fill="#ff2f86"/>
<circle cx="379.9" cy="324.6" r="1.25" fill="#ff2f86"/>
<circle cx="382.1" cy="324.1" r="1.25" fill="#ff2f86"/>
<circle cx="384.0" cy="324.4" r="1.25" fill="#ff2f86"/>
<circle cx="386.7" cy="324.4" r="1.25" fill="#ff2f86"/>
<circle cx="388.1" cy="324.5" r="1.25" fill="#ff2f86"/>
<circle cx="389.4" cy="324.4" r="1.25" fill="#ff2f86"/>
<circle cx="378.8" cy="326.5" r="1.25" fill="#ff2f86"/>
<circle cx="381.3" cy="326.3" r="1.25" fill="#ff2f86"/>
<circle cx="383.2" cy="326.8" r="1.25" fill="#ff2f86"/>
<circle cx="386.7" cy="326.2" r="1.25" fill="#ff2f86"/>
<circle cx="389.0" cy="326.6" r="1.25" fill="#ff2f86"/>
<circle cx="391.5" cy="326.4" r="1.25" fill="#ff2f86"/>
<circle cx="392.9" cy="326.5" r="1.25" fill="#ff2f86"/>
<circle cx="376.3" cy="328.5" r="1.25" fill="#ff2f86"/>
<circle cx="379.0" cy="328.7" r="1.25" fill="#ff2f86"/>
<circle cx="380.9" cy="328.2" r="1.25" fill="#ff2f86"/>
<circle cx="382.9" cy="328.9" r="1.25" fill="#ff2f86"/>
<circle cx="387.5" cy="328.2" r="1.25" fill="#ff2f86"/>
<circle cx="392.4" cy="329.0" r="1.25" fill="#ff2f86"/>
<circle cx="379.5" cy="330.1" r="1.25" fill="#ff2f86"/>
<circle cx="381.9" cy="330.2" r="1.25" fill="#ff2f86"/>
<circle cx="383.0" cy="330.5" r="1.25" fill="#ff2f86"/>
<circle cx="385.6" cy="330.1" r="1.25" fill="#ff2f86"/>
<circle cx="387.1" cy="330.3" r="1.25" fill="#ff2f86"/>
<circle cx="391.3" cy="329.9" r="1.25" fill="#ff2f86"/>
<circle cx="392.8" cy="329.9" r="1.25" fill="#ff2f86"/>
<circle cx="376.6" cy="332.5" r="1.25" fill="#ff2f86"/>
<circle cx="380.7" cy="333.1" r="1.25" fill="#ff2f86"/>
<circle cx="383.6" cy="332.8" r="1.25" fill="#ff2f86"/>
<circle cx="385.6" cy="332.4" r="1.25" fill="#ff2f86"/>
<circle cx="388.5" cy="332.2" r="1.25" fill="#ff2f86"/>
<circle cx="392.1" cy="332.7" r="1.25" fill="#ff2f86"/>
<circle cx="381.1" cy="334.0" r="1.25" fill="#ff2f86"/>
<circle cx="383.3" cy="334.9" r="1.25" fill="#ff2f86"/>
<circle cx="386.4" cy="334.9" r="1.25" fill="#ff2f86"/>
<circle cx="388.8" cy="334.6" r="1.25" fill="#ff2f86"/>
<circle cx="390.6" cy="334.1" r="1.25" fill="#ff2f86"/>
<circle cx="392.5" cy="334.0" r="1.25" fill="#ff2f86"/>
<circle cx="380.0" cy="336.3" r="1.25" fill="#ff2f86"/>
<circle cx="382.0" cy="336.5" r="1.25" fill="#ff2f86"/>
<circle cx="385.5" cy="336.2" r="1.25" fill="#ff2f86"/>
<circle cx="390.1" cy="336.1" r="1.25" fill="#ff2f86"/>
<circle cx="392.6" cy="336.0" r="1.25" fill="#ff2f86"/>
<circle cx="377.2" cy="338.5" r="1.25" fill="#ff2f86"/>
<circle cx="379.1" cy="338.5" r="1.25" fill="#ff2f86"/>
<circle cx="381.9" cy="338.3" r="1.25" fill="#ff2f86"/>
<circle cx="383.4" cy="338.7" r="1.25" fill="#ff2f86"/>
<circle cx="384.9" cy="338.0" r="1.25" fill="#ff2f86"/>
<circle cx="390.6" cy="338.1" r="1.25" fill="#ff2f86"/>
<circle cx="376.9" cy="340.7" r="1.25" fill="#ff2f86"/>
<circle cx="378.0" cy="340.3" r="1.25" fill="#ff2f86"/>
<circle cx="379.8" cy="340.4" r="1.25" fill="#ff2f86"/>
<circle cx="382.9" cy="341.1" r="1.25" fill="#ff2f86"/>
<circle cx="383.8" cy="341.1" r="1.25" fill="#ff2f86"/>
<circle cx="385.9" cy="339.9" r="1.25" fill="#ff2f86"/>
<circle cx="388.1" cy="340.5" r="1.25" fill="#ff2f86"/>
<circle cx="376.7" cy="342.4" r="1.25" fill="#ff2f86"/>
<circle cx="382.8" cy="342.6" r="1.25" fill="#ff2f86"/>
<circle cx="385.5" cy="342.7" r="1.25" fill="#ff2f86"/>
<circle cx="387.6" cy="342.4" r="1.25" fill="#ff2f86"/>
<circle cx="389.7" cy="342.1" r="1.25" fill="#ff2f86"/>
<circle cx="390.3" cy="342.9" r="1.25" fill="#ff2f86"/>
<circle cx="393.2" cy="342.9" r="1.25" fill="#ff2f86"/>
<circle cx="381.5" cy="299.5" r="1.25" fill="#ff2f86"/>
<circle cx="383.0" cy="296.0" r="1.25" fill="#ff2f86"/>
<circle cx="383.5" cy="292.5" r="1.25" fill="#ff2f86"/>
<circle cx="376.5" cy="311.0" r="1.25" fill="#ff2f86"/>
<circle cx="386.5" cy="302.0" r="1.25" fill="#ff2f86"/>
<circle cx="380.5" cy="305.5" r="1.25" fill="#ff2f86"/>
<circle cx="388.5" cy="308.5" r="1.25" fill="#ff2f86"/>
<circle cx="379.2" cy="327.7" r="1.2" fill="#fff" stroke="#555" stroke-width="0.4"/>
<circle cx="385.1" cy="337.0" r="1.2" fill="#fff" stroke="#555" stroke-width="0.4"/>
<circle cx="389.9" cy="336.8" r="1.2" fill="#fff" stroke="#555" stroke-width="0.4"/>
<circle cx="386.3" cy="338.8" r="1.2" fill="#fff" stroke="#555" stroke-width="0.4"/>
<circle cx="387.9" cy="332.8" r="1.2" fill="#fff" stroke="#555" stroke-width="0.4"/>
<circle cx="380.7" cy="312.9" r="1.2" fill="#fff" stroke="#555" stroke-width="0.4"/>
<circle cx="379.1" cy="322.8" r="1.2" fill="#fff" stroke="#555" stroke-width="0.4"/>
<circle cx="378.7" cy="337.1" r="1.2" fill="#fff" stroke="#555" stroke-width="0.4"/>
<circle cx="385.9" cy="330.8" r="1.2" fill="#fff" stroke="#555" stroke-width="0.4"/>
<circle cx="387.0" cy="332.4" r="1.2" fill="#fff" stroke="#555" stroke-width="0.4"/>
<circle cx="384.8" cy="312.1" r="1.2" fill="#fff" stroke="#555" stroke-width="0.4"/>
</g>
<rect x="368.40" y="244.40" width="257.10" height="104.60" fill="none" stroke="#5a5a5a" stroke-width="0.9" />
<line x1="368.40" y1="349.00" x2="368.40" y2="346.60" stroke="#5a5a5a" stroke-width="0.65" />
<line x1="375.96" y1="349.00" x2="375.96" y2="347.40" stroke="#5a5a5a" stroke-width="0.65" />
<line x1="383.52" y1="349.00" x2="383.52" y2="346.60" stroke="#5a5a5a" stroke-width="0.65" />
<line x1="391.09" y1="349.00" x2="391.09" y2="347.40" stroke="#5a5a5a" stroke-width="0.65" />
<line x1="398.65" y1="349.00" x2="398.65" y2="346.60" stroke="#5a5a5a" stroke-width="0.65" />
<line x1="406.21" y1="349.00" x2="406.21" y2="347.40" stroke="#5a5a5a" stroke-width="0.65" />
<line x1="413.77" y1="349.00" x2="413.77" y2="346.60" stroke="#5a5a5a" stroke-width="0.65" />
<line x1="421.33" y1="349.00" x2="421.33" y2="347.40" stroke="#5a5a5a" stroke-width="0.65" />
<line x1="428.89" y1="349.00" x2="428.89" y2="346.60" stroke="#5a5a5a" stroke-width="0.65" />
<line x1="436.46" y1="349.00" x2="436.46" y2="347.40" stroke="#5a5a5a" stroke-width="0.65" />
<line x1="444.02" y1="349.00" x2="444.02" y2="346.60" stroke="#5a5a5a" stroke-width="0.65" />
<line x1="451.58" y1="349.00" x2="451.58" y2="347.40" stroke="#5a5a5a" stroke-width="0.65" />
<line x1="459.14" y1="349.00" x2="459.14" y2="346.60" stroke="#5a5a5a" stroke-width="0.65" />
<line x1="466.70" y1="349.00" x2="466.70" y2="347.40" stroke="#5a5a5a" stroke-width="0.65" />
<line x1="474.26" y1="349.00" x2="474.26" y2="346.60" stroke="#5a5a5a" stroke-width="0.65" />
<line x1="481.83" y1="349.00" x2="481.83" y2="347.40" stroke="#5a5a5a" stroke-width="0.65" />
<line x1="489.39" y1="349.00" x2="489.39" y2="346.60" stroke="#5a5a5a" stroke-width="0.65" />
<line x1="496.95" y1="349.00" x2="496.95" y2="347.40" stroke="#5a5a5a" stroke-width="0.65" />
<line x1="504.51" y1="349.00" x2="504.51" y2="346.60" stroke="#5a5a5a" stroke-width="0.65" />
<line x1="512.07" y1="349.00" x2="512.07" y2="347.40" stroke="#5a5a5a" stroke-width="0.65" />
<line x1="519.64" y1="349.00" x2="519.64" y2="346.60" stroke="#5a5a5a" stroke-width="0.65" />
<line x1="527.20" y1="349.00" x2="527.20" y2="347.40" stroke="#5a5a5a" stroke-width="0.65" />
<line x1="534.76" y1="349.00" x2="534.76" y2="346.60" stroke="#5a5a5a" stroke-width="0.65" />
<line x1="542.32" y1="349.00" x2="542.32" y2="347.40" stroke="#5a5a5a" stroke-width="0.65" />
<line x1="549.88" y1="349.00" x2="549.88" y2="346.60" stroke="#5a5a5a" stroke-width="0.65" />
<line x1="557.44" y1="349.00" x2="557.44" y2="347.40" stroke="#5a5a5a" stroke-width="0.65" />
<line x1="565.01" y1="349.00" x2="565.01" y2="346.60" stroke="#5a5a5a" stroke-width="0.65" />
<line x1="572.57" y1="349.00" x2="572.57" y2="347.40" stroke="#5a5a5a" stroke-width="0.65" />
<line x1="580.13" y1="349.00" x2="580.13" y2="346.60" stroke="#5a5a5a" stroke-width="0.65" />
<line x1="587.69" y1="349.00" x2="587.69" y2="347.40" stroke="#5a5a5a" stroke-width="0.65" />
<line x1="595.25" y1="349.00" x2="595.25" y2="346.60" stroke="#5a5a5a" stroke-width="0.65" />
<line x1="602.81" y1="349.00" x2="602.81" y2="347.40" stroke="#5a5a5a" stroke-width="0.65" />
<line x1="610.38" y1="349.00" x2="610.38" y2="346.60" stroke="#5a5a5a" stroke-width="0.65" />
<line x1="617.94" y1="349.00" x2="617.94" y2="347.40" stroke="#5a5a5a" stroke-width="0.65" />
<line x1="625.50" y1="349.00" x2="625.50" y2="346.60" stroke="#5a5a5a" stroke-width="0.65" />
<text transform="translate(368.40 357.20) scale(1.1 1)" font-size="5.09" fill="#2a2a2a" text-anchor="middle" >200</text>
<text transform="translate(398.65 357.20) scale(1.1 1)" font-size="5.09" fill="#2a2a2a" text-anchor="middle" >600</text>
<text transform="translate(428.89 357.20) scale(1.1 1)" font-size="5.09" fill="#2a2a2a" text-anchor="middle" >1000</text>
<text transform="translate(459.14 357.20) scale(1.1 1)" font-size="5.09" fill="#2a2a2a" text-anchor="middle" >1400</text>
<text transform="translate(489.39 357.20) scale(1.1 1)" font-size="5.09" fill="#2a2a2a" text-anchor="middle" >1800</text>
<text transform="translate(519.64 357.20) scale(1.1 1)" font-size="5.09" fill="#2a2a2a" text-anchor="middle" >2200</text>
<text transform="translate(549.88 357.20) scale(1.1 1)" font-size="5.09" fill="#2a2a2a" text-anchor="middle" >2600</text>
<text transform="translate(580.13 357.20) scale(1.1 1)" font-size="5.09" fill="#2a2a2a" text-anchor="middle" >3000</text>
<text transform="translate(610.38 357.20) scale(1.1 1)" font-size="5.09" fill="#2a2a2a" text-anchor="middle" >3400</text>
<line x1="368.40" y1="349.00" x2="371.00" y2="349.00" stroke="#5a5a5a" stroke-width="0.7" />
<text transform="translate(366.60 351.30) scale(1.1 1)" font-size="5.09" fill="#2a2a2a" text-anchor="end" >0.0</text>
<line x1="368.40" y1="328.10" x2="371.00" y2="328.10" stroke="#5a5a5a" stroke-width="0.7" />
<text transform="translate(366.60 330.40) scale(1.1 1)" font-size="5.09" fill="#2a2a2a" text-anchor="end" >0.5</text>
<line x1="368.40" y1="307.20" x2="371.00" y2="307.20" stroke="#5a5a5a" stroke-width="0.7" />
<text transform="translate(366.60 309.50) scale(1.1 1)" font-size="5.09" fill="#2a2a2a" text-anchor="end" >1.0</text>
<line x1="368.40" y1="286.30" x2="371.00" y2="286.30" stroke="#5a5a5a" stroke-width="0.7" />
<text transform="translate(366.60 288.60) scale(1.1 1)" font-size="5.09" fill="#2a2a2a" text-anchor="end" >1.5</text>
<line x1="368.40" y1="265.40" x2="371.00" y2="265.40" stroke="#5a5a5a" stroke-width="0.7" />
<text transform="translate(366.60 267.70) scale(1.1 1)" font-size="5.09" fill="#2a2a2a" text-anchor="end" >2.0</text>
<line x1="368.40" y1="244.50" x2="371.00" y2="244.50" stroke="#5a5a5a" stroke-width="0.7" />
<text transform="translate(366.60 246.80) scale(1.1 1)" font-size="5.09" fill="#2a2a2a" text-anchor="end" >2.5</text>
<line x1="368.40" y1="344.82" x2="370.10" y2="344.82" stroke="#5a5a5a" stroke-width="0.65" />
<line x1="368.40" y1="340.64" x2="370.10" y2="340.64" stroke="#5a5a5a" stroke-width="0.65" />
<line x1="368.40" y1="336.46" x2="370.10" y2="336.46" stroke="#5a5a5a" stroke-width="0.65" />
<line x1="368.40" y1="332.28" x2="370.10" y2="332.28" stroke="#5a5a5a" stroke-width="0.65" />
<line x1="368.40" y1="328.10" x2="370.10" y2="328.10" stroke="#5a5a5a" stroke-width="0.65" />
<line x1="368.40" y1="323.92" x2="370.10" y2="323.92" stroke="#5a5a5a" stroke-width="0.65" />
<line x1="368.40" y1="319.74" x2="370.10" y2="319.74" stroke="#5a5a5a" stroke-width="0.65" />
<line x1="368.40" y1="315.56" x2="370.10" y2="315.56" stroke="#5a5a5a" stroke-width="0.65" />
<line x1="368.40" y1="311.38" x2="370.10" y2="311.38" stroke="#5a5a5a" stroke-width="0.65" />
<line x1="368.40" y1="307.20" x2="370.10" y2="307.20" stroke="#5a5a5a" stroke-width="0.65" />
<line x1="368.40" y1="303.02" x2="370.10" y2="303.02" stroke="#5a5a5a" stroke-width="0.65" />
<line x1="368.40" y1="298.84" x2="370.10" y2="298.84" stroke="#5a5a5a" stroke-width="0.65" />
<line x1="368.40" y1="294.66" x2="370.10" y2="294.66" stroke="#5a5a5a" stroke-width="0.65" />
<line x1="368.40" y1="290.48" x2="370.10" y2="290.48" stroke="#5a5a5a" stroke-width="0.65" />
<line x1="368.40" y1="286.30" x2="370.10" y2="286.30" stroke="#5a5a5a" stroke-width="0.65" />
<line x1="368.40" y1="282.12" x2="370.10" y2="282.12" stroke="#5a5a5a" stroke-width="0.65" />
<line x1="368.40" y1="277.94" x2="370.10" y2="277.94" stroke="#5a5a5a" stroke-width="0.65" />
<line x1="368.40" y1="273.76" x2="370.10" y2="273.76" stroke="#5a5a5a" stroke-width="0.65" />
<line x1="368.40" y1="269.58" x2="370.10" y2="269.58" stroke="#5a5a5a" stroke-width="0.65" />
<line x1="368.40" y1="265.40" x2="370.10" y2="265.40" stroke="#5a5a5a" stroke-width="0.65" />
<line x1="368.40" y1="261.22" x2="370.10" y2="261.22" stroke="#5a5a5a" stroke-width="0.65" />
<line x1="368.40" y1="257.04" x2="370.10" y2="257.04" stroke="#5a5a5a" stroke-width="0.65" />
<line x1="368.40" y1="252.86" x2="370.10" y2="252.86" stroke="#5a5a5a" stroke-width="0.65" />
<line x1="368.40" y1="248.68" x2="370.10" y2="248.68" stroke="#5a5a5a" stroke-width="0.65" />
<text transform="translate(366.60 346.42) scale(1.1 1)" font-size="5.09" fill="#2a2a2a" text-anchor="end" >0.1</text>
<text x="376.20" y="259.00" font-size="10.3" fill="#111" text-anchor="start" >F</text>
<text transform="translate(493.70 362.60) scale(1.1 1)" font-size="5.09" fill="#222" text-anchor="middle" >Age (Ma)</text>
<text x="354.30" y="296.70" font-size="5.75" fill="#222" text-anchor="middle" transform="rotate(-90 354.30 296.70)" >Zircon Th/U</text>
<rect x="539.20" y="249.50" width="80.30" height="29.20" fill="#fff" stroke="#555" stroke-width="0.6" />
<circle cx="544.6" cy="255.8" r="1.25" fill="#ff2f86"/>
<circle cx="544.8" cy="265.6" r="1.3" fill="#fff" stroke="#333" stroke-width="0.45"/>
<text transform="translate(553.40 257.50) scale(1.1 1)" font-size="5.73" fill="#1a1a1a" text-anchor="start" >this study (n=215)</text>
<text transform="translate(553.40 267.70) scale(1.1 1)" font-size="5.73" fill="#1a1a1a" text-anchor="start" >previous study (n=202)</text>
<text transform="translate(553.40 273.40) scale(1.1 1)" font-size="5.73" fill="#1a1a1a" text-anchor="start" >(Li et al., 2020)</text>
</svg></body></html>
